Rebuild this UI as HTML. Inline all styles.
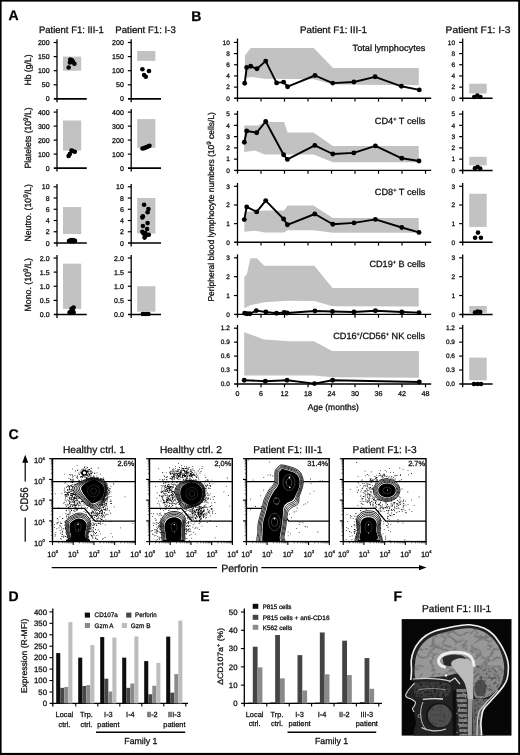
<!DOCTYPE html><html><head><meta charset="utf-8"><style>html,body{margin:0;padding:0;background:#fff;}svg{display:block;will-change:transform;}text{stroke:#111;stroke-width:0.28px;text-rendering:geometricPrecision;}</style></head><body>
<svg width="520" height="755" viewBox="0 0 520 755" font-family='"Liberation Sans", sans-serif'>
<rect x="0.00" y="0.00" width="520.00" height="755.00" fill="#fff"/>
<text x="8.60" y="20.30" font-size="14" font-weight="bold" fill="#000">A</text>
<text x="191.20" y="20.50" font-size="14" font-weight="bold" fill="#000">B</text>
<text x="8.40" y="439.00" font-size="14" font-weight="bold" fill="#000">C</text>
<text x="8.60" y="601.00" font-size="14" font-weight="bold" fill="#000">D</text>
<text x="200.20" y="601.00" font-size="14" font-weight="bold" fill="#000">E</text>
<text x="393.40" y="601.00" font-size="14" font-weight="bold" fill="#000">F</text>
<text x="39.00" y="33.00" font-size="9.5" textLength="64.8" lengthAdjust="spacingAndGlyphs" fill="#111">Patient F1: III-1</text>
<text x="115.30" y="33.00" font-size="9.5" textLength="60.5" lengthAdjust="spacingAndGlyphs" fill="#111">Patient F1: I-3</text>
<line x1="57.00" y1="39.30" x2="57.00" y2="102.30" stroke="#000" stroke-width="1.3"/>
<line x1="53.80" y1="98.90" x2="86.80" y2="98.90" stroke="#000" stroke-width="1.6"/>
<text x="49.60" y="101.40" font-size="7" text-anchor="end" fill="#111" stroke-width="0">0</text>
<line x1="53.60" y1="84.80" x2="57.00" y2="84.80" stroke="#000" stroke-width="1.2"/>
<text x="49.60" y="87.30" font-size="7" text-anchor="end" fill="#111" stroke-width="0">50</text>
<line x1="53.60" y1="70.70" x2="57.00" y2="70.70" stroke="#000" stroke-width="1.2"/>
<text x="49.60" y="73.20" font-size="7" text-anchor="end" fill="#111" stroke-width="0">100</text>
<line x1="53.60" y1="56.60" x2="57.00" y2="56.60" stroke="#000" stroke-width="1.2"/>
<text x="49.60" y="59.10" font-size="7" text-anchor="end" fill="#111" stroke-width="0">150</text>
<line x1="53.60" y1="42.50" x2="57.00" y2="42.50" stroke="#000" stroke-width="1.2"/>
<text x="49.60" y="45.00" font-size="7" text-anchor="end" fill="#111" stroke-width="0">200</text>
<line x1="131.20" y1="39.30" x2="131.20" y2="102.30" stroke="#000" stroke-width="1.3"/>
<line x1="128.00" y1="98.90" x2="161.00" y2="98.90" stroke="#000" stroke-width="1.6"/>
<text x="123.80" y="101.40" font-size="7" text-anchor="end" fill="#111" stroke-width="0">0</text>
<line x1="127.80" y1="84.80" x2="131.20" y2="84.80" stroke="#000" stroke-width="1.2"/>
<text x="123.80" y="87.30" font-size="7" text-anchor="end" fill="#111" stroke-width="0">50</text>
<line x1="127.80" y1="70.70" x2="131.20" y2="70.70" stroke="#000" stroke-width="1.2"/>
<text x="123.80" y="73.20" font-size="7" text-anchor="end" fill="#111" stroke-width="0">100</text>
<line x1="127.80" y1="56.60" x2="131.20" y2="56.60" stroke="#000" stroke-width="1.2"/>
<text x="123.80" y="59.10" font-size="7" text-anchor="end" fill="#111" stroke-width="0">150</text>
<line x1="127.80" y1="42.50" x2="131.20" y2="42.50" stroke="#000" stroke-width="1.2"/>
<text x="123.80" y="45.00" font-size="7" text-anchor="end" fill="#111" stroke-width="0">200</text>
<line x1="57.00" y1="109.00" x2="57.00" y2="171.50" stroke="#000" stroke-width="1.3"/>
<line x1="53.80" y1="168.10" x2="86.80" y2="168.10" stroke="#000" stroke-width="1.6"/>
<text x="49.60" y="170.60" font-size="7" text-anchor="end" fill="#111" stroke-width="0">0</text>
<line x1="53.60" y1="154.10" x2="57.00" y2="154.10" stroke="#000" stroke-width="1.2"/>
<text x="49.60" y="156.60" font-size="7" text-anchor="end" fill="#111" stroke-width="0">100</text>
<line x1="53.60" y1="140.10" x2="57.00" y2="140.10" stroke="#000" stroke-width="1.2"/>
<text x="49.60" y="142.60" font-size="7" text-anchor="end" fill="#111" stroke-width="0">200</text>
<line x1="53.60" y1="126.10" x2="57.00" y2="126.10" stroke="#000" stroke-width="1.2"/>
<text x="49.60" y="128.60" font-size="7" text-anchor="end" fill="#111" stroke-width="0">300</text>
<line x1="53.60" y1="112.10" x2="57.00" y2="112.10" stroke="#000" stroke-width="1.2"/>
<text x="49.60" y="114.60" font-size="7" text-anchor="end" fill="#111" stroke-width="0">400</text>
<line x1="131.20" y1="109.00" x2="131.20" y2="171.50" stroke="#000" stroke-width="1.3"/>
<line x1="128.00" y1="168.10" x2="161.00" y2="168.10" stroke="#000" stroke-width="1.6"/>
<text x="123.80" y="170.60" font-size="7" text-anchor="end" fill="#111" stroke-width="0">0</text>
<line x1="127.80" y1="154.10" x2="131.20" y2="154.10" stroke="#000" stroke-width="1.2"/>
<text x="123.80" y="156.60" font-size="7" text-anchor="end" fill="#111" stroke-width="0">100</text>
<line x1="127.80" y1="140.10" x2="131.20" y2="140.10" stroke="#000" stroke-width="1.2"/>
<text x="123.80" y="142.60" font-size="7" text-anchor="end" fill="#111" stroke-width="0">200</text>
<line x1="127.80" y1="126.10" x2="131.20" y2="126.10" stroke="#000" stroke-width="1.2"/>
<text x="123.80" y="128.60" font-size="7" text-anchor="end" fill="#111" stroke-width="0">300</text>
<line x1="127.80" y1="112.10" x2="131.20" y2="112.10" stroke="#000" stroke-width="1.2"/>
<text x="123.80" y="114.60" font-size="7" text-anchor="end" fill="#111" stroke-width="0">400</text>
<line x1="57.00" y1="184.00" x2="57.00" y2="246.40" stroke="#000" stroke-width="1.3"/>
<line x1="53.80" y1="243.00" x2="86.80" y2="243.00" stroke="#000" stroke-width="1.6"/>
<text x="49.60" y="245.50" font-size="7" text-anchor="end" fill="#111" stroke-width="0">0</text>
<line x1="53.60" y1="231.76" x2="57.00" y2="231.76" stroke="#000" stroke-width="1.2"/>
<text x="49.60" y="234.26" font-size="7" text-anchor="end" fill="#111" stroke-width="0">2</text>
<line x1="53.60" y1="220.52" x2="57.00" y2="220.52" stroke="#000" stroke-width="1.2"/>
<text x="49.60" y="223.02" font-size="7" text-anchor="end" fill="#111" stroke-width="0">4</text>
<line x1="53.60" y1="209.28" x2="57.00" y2="209.28" stroke="#000" stroke-width="1.2"/>
<text x="49.60" y="211.78" font-size="7" text-anchor="end" fill="#111" stroke-width="0">6</text>
<line x1="53.60" y1="198.04" x2="57.00" y2="198.04" stroke="#000" stroke-width="1.2"/>
<text x="49.60" y="200.54" font-size="7" text-anchor="end" fill="#111" stroke-width="0">8</text>
<line x1="53.60" y1="186.80" x2="57.00" y2="186.80" stroke="#000" stroke-width="1.2"/>
<text x="49.60" y="189.30" font-size="7" text-anchor="end" fill="#111" stroke-width="0">10</text>
<line x1="131.20" y1="184.00" x2="131.20" y2="246.40" stroke="#000" stroke-width="1.3"/>
<line x1="128.00" y1="243.00" x2="161.00" y2="243.00" stroke="#000" stroke-width="1.6"/>
<text x="123.80" y="245.50" font-size="7" text-anchor="end" fill="#111" stroke-width="0">0</text>
<line x1="127.80" y1="231.76" x2="131.20" y2="231.76" stroke="#000" stroke-width="1.2"/>
<text x="123.80" y="234.26" font-size="7" text-anchor="end" fill="#111" stroke-width="0">2</text>
<line x1="127.80" y1="220.52" x2="131.20" y2="220.52" stroke="#000" stroke-width="1.2"/>
<text x="123.80" y="223.02" font-size="7" text-anchor="end" fill="#111" stroke-width="0">4</text>
<line x1="127.80" y1="209.28" x2="131.20" y2="209.28" stroke="#000" stroke-width="1.2"/>
<text x="123.80" y="211.78" font-size="7" text-anchor="end" fill="#111" stroke-width="0">6</text>
<line x1="127.80" y1="198.04" x2="131.20" y2="198.04" stroke="#000" stroke-width="1.2"/>
<text x="123.80" y="200.54" font-size="7" text-anchor="end" fill="#111" stroke-width="0">8</text>
<line x1="127.80" y1="186.80" x2="131.20" y2="186.80" stroke="#000" stroke-width="1.2"/>
<text x="123.80" y="189.30" font-size="7" text-anchor="end" fill="#111" stroke-width="0">10</text>
<line x1="57.00" y1="255.00" x2="57.00" y2="317.90" stroke="#000" stroke-width="1.3"/>
<line x1="53.80" y1="314.50" x2="86.80" y2="314.50" stroke="#000" stroke-width="1.6"/>
<text x="49.60" y="317.00" font-size="7" text-anchor="end" fill="#111" stroke-width="0">0.0</text>
<line x1="53.60" y1="300.38" x2="57.00" y2="300.38" stroke="#000" stroke-width="1.2"/>
<text x="49.60" y="302.88" font-size="7" text-anchor="end" fill="#111" stroke-width="0">0.5</text>
<line x1="53.60" y1="286.25" x2="57.00" y2="286.25" stroke="#000" stroke-width="1.2"/>
<text x="49.60" y="288.75" font-size="7" text-anchor="end" fill="#111" stroke-width="0">1.0</text>
<line x1="53.60" y1="272.12" x2="57.00" y2="272.12" stroke="#000" stroke-width="1.2"/>
<text x="49.60" y="274.62" font-size="7" text-anchor="end" fill="#111" stroke-width="0">1.5</text>
<line x1="53.60" y1="258.00" x2="57.00" y2="258.00" stroke="#000" stroke-width="1.2"/>
<text x="49.60" y="260.50" font-size="7" text-anchor="end" fill="#111" stroke-width="0">2.0</text>
<line x1="131.20" y1="255.00" x2="131.20" y2="317.90" stroke="#000" stroke-width="1.3"/>
<line x1="128.00" y1="314.50" x2="161.00" y2="314.50" stroke="#000" stroke-width="1.6"/>
<text x="123.80" y="317.00" font-size="7" text-anchor="end" fill="#111" stroke-width="0">0.0</text>
<line x1="127.80" y1="300.38" x2="131.20" y2="300.38" stroke="#000" stroke-width="1.2"/>
<text x="123.80" y="302.88" font-size="7" text-anchor="end" fill="#111" stroke-width="0">0.5</text>
<line x1="127.80" y1="286.25" x2="131.20" y2="286.25" stroke="#000" stroke-width="1.2"/>
<text x="123.80" y="288.75" font-size="7" text-anchor="end" fill="#111" stroke-width="0">1.0</text>
<line x1="127.80" y1="272.12" x2="131.20" y2="272.12" stroke="#000" stroke-width="1.2"/>
<text x="123.80" y="274.62" font-size="7" text-anchor="end" fill="#111" stroke-width="0">1.5</text>
<line x1="127.80" y1="258.00" x2="131.20" y2="258.00" stroke="#000" stroke-width="1.2"/>
<text x="123.80" y="260.50" font-size="7" text-anchor="end" fill="#111" stroke-width="0">2.0</text>
<rect x="63.00" y="56.60" width="18.20" height="14.10" fill="#c2c2c2"/>
<rect x="137.20" y="50.96" width="18.20" height="9.87" fill="#c2c2c2"/>
<rect x="63.00" y="120.50" width="18.20" height="30.10" fill="#c2c2c2"/>
<rect x="137.20" y="119.10" width="18.20" height="28.70" fill="#c2c2c2"/>
<rect x="63.00" y="207.03" width="18.20" height="26.98" fill="#c2c2c2"/>
<rect x="137.20" y="198.04" width="18.20" height="35.41" fill="#c2c2c2"/>
<rect x="63.00" y="263.65" width="18.20" height="45.20" fill="#c2c2c2"/>
<rect x="137.20" y="286.25" width="18.20" height="25.43" fill="#c2c2c2"/>
<circle cx="68.70" cy="67.50" r="2.3" fill="#000"/>
<circle cx="70.30" cy="59.60" r="2.3" fill="#000"/>
<circle cx="71.50" cy="61.10" r="2.3" fill="#000"/>
<circle cx="69.90" cy="62.50" r="2.3" fill="#000"/>
<circle cx="74.40" cy="63.70" r="2.3" fill="#000"/>
<circle cx="72.00" cy="60.30" r="2.3" fill="#000"/>
<circle cx="73.00" cy="62.00" r="2.3" fill="#000"/>
<circle cx="142.40" cy="69.30" r="2.3" fill="#000"/>
<circle cx="149.00" cy="71.00" r="2.3" fill="#000"/>
<circle cx="144.10" cy="75.00" r="2.3" fill="#000"/>
<circle cx="145.80" cy="76.70" r="2.3" fill="#000"/>
<circle cx="68.60" cy="156.00" r="2.3" fill="#000"/>
<circle cx="69.80" cy="154.00" r="2.3" fill="#000"/>
<circle cx="71.50" cy="150.50" r="2.3" fill="#000"/>
<circle cx="72.50" cy="151.00" r="2.3" fill="#000"/>
<circle cx="74.80" cy="151.80" r="2.3" fill="#000"/>
<circle cx="142.50" cy="148.50" r="2.3" fill="#000"/>
<circle cx="144.00" cy="148.20" r="2.3" fill="#000"/>
<circle cx="145.50" cy="147.60" r="2.3" fill="#000"/>
<circle cx="147.00" cy="147.00" r="2.3" fill="#000"/>
<circle cx="148.50" cy="146.30" r="2.3" fill="#000"/>
<circle cx="149.50" cy="145.80" r="2.3" fill="#000"/>
<circle cx="69.00" cy="241.00" r="2.3" fill="#000"/>
<circle cx="70.50" cy="240.30" r="2.3" fill="#000"/>
<circle cx="72.00" cy="240.00" r="2.3" fill="#000"/>
<circle cx="73.50" cy="240.20" r="2.3" fill="#000"/>
<circle cx="75.00" cy="240.80" r="2.3" fill="#000"/>
<circle cx="71.00" cy="241.20" r="2.3" fill="#000"/>
<circle cx="74.00" cy="241.30" r="2.3" fill="#000"/>
<circle cx="144.10" cy="204.80" r="2.3" fill="#000"/>
<circle cx="148.40" cy="209.10" r="2.3" fill="#000"/>
<circle cx="147.60" cy="212.20" r="2.3" fill="#000"/>
<circle cx="142.90" cy="216.20" r="2.3" fill="#000"/>
<circle cx="142.40" cy="217.40" r="2.3" fill="#000"/>
<circle cx="147.60" cy="223.10" r="2.3" fill="#000"/>
<circle cx="142.90" cy="226.00" r="2.3" fill="#000"/>
<circle cx="147.10" cy="229.00" r="2.3" fill="#000"/>
<circle cx="142.40" cy="231.70" r="2.3" fill="#000"/>
<circle cx="145.30" cy="233.00" r="2.3" fill="#000"/>
<circle cx="148.80" cy="234.70" r="2.3" fill="#000"/>
<circle cx="144.60" cy="237.60" r="2.3" fill="#000"/>
<circle cx="145.80" cy="235.60" r="2.3" fill="#000"/>
<circle cx="143.50" cy="233.50" r="2.3" fill="#000"/>
<circle cx="69.60" cy="312.40" r="2.3" fill="#000"/>
<circle cx="71.60" cy="311.60" r="2.3" fill="#000"/>
<circle cx="73.60" cy="312.20" r="2.3" fill="#000"/>
<circle cx="71.60" cy="308.80" r="2.3" fill="#000"/>
<circle cx="73.60" cy="307.60" r="2.3" fill="#000"/>
<circle cx="72.50" cy="309.50" r="2.3" fill="#000"/>
<circle cx="142.80" cy="314.00" r="2.3" fill="#000"/>
<circle cx="145.60" cy="314.00" r="2.3" fill="#000"/>
<circle cx="148.40" cy="314.00" r="2.3" fill="#000"/>
<text transform="translate(30.80,70.00) rotate(-90)" x="0" y="0" font-size="9" text-anchor="middle" textLength="31.0" lengthAdjust="spacingAndGlyphs" fill="#111">Hb (g/L)</text>
<text transform="translate(30.80,138.00) rotate(-90)" x="0" y="0" font-size="9" text-anchor="middle" textLength="61.0" lengthAdjust="spacingAndGlyphs" fill="#111">Platelets (10<tspan font-size="6.6" dy="-3.3">9</tspan><tspan dy="3.3">/L)</tspan></text>
<text transform="translate(30.80,212.80) rotate(-90)" x="0" y="0" font-size="9" text-anchor="middle" textLength="57.5" lengthAdjust="spacingAndGlyphs" fill="#111">Neutro. (10<tspan font-size="6.6" dy="-3.3">9</tspan><tspan dy="3.3">/L)</tspan></text>
<text transform="translate(30.80,284.80) rotate(-90)" x="0" y="0" font-size="9" text-anchor="middle" textLength="53.5" lengthAdjust="spacingAndGlyphs" fill="#111">Mono. (10<tspan font-size="6.6" dy="-3.3">9</tspan><tspan dy="3.3">/L)</tspan></text>
<text x="300.00" y="32.80" font-size="9.5" textLength="67.0" lengthAdjust="spacingAndGlyphs" fill="#111">Patient F1: III-1</text>
<text x="445.60" y="32.80" font-size="9.5" textLength="64.8" lengthAdjust="spacingAndGlyphs" fill="#111">Patient F1: I-3</text>
<polygon points="244.90,55.60 250.70,48.10 313.80,48.10 333.00,68.10 418.80,68.10 418.80,85.30 333.00,84.50 313.80,79.20 264.50,78.70 253.00,77.00 247.80,77.50 244.90,77.60" fill="#c2c2c2"/>
<line x1="237.50" y1="38.60" x2="237.50" y2="101.60" stroke="#000" stroke-width="1.3"/>
<line x1="234.10" y1="98.30" x2="431.20" y2="98.30" stroke="#000" stroke-width="1.4"/>
<line x1="261.00" y1="98.30" x2="261.00" y2="101.60" stroke="#000" stroke-width="1.2"/>
<line x1="284.50" y1="98.30" x2="284.50" y2="101.60" stroke="#000" stroke-width="1.2"/>
<line x1="308.01" y1="98.30" x2="308.01" y2="101.60" stroke="#000" stroke-width="1.2"/>
<line x1="331.51" y1="98.30" x2="331.51" y2="101.60" stroke="#000" stroke-width="1.2"/>
<line x1="355.01" y1="98.30" x2="355.01" y2="101.60" stroke="#000" stroke-width="1.2"/>
<line x1="378.51" y1="98.30" x2="378.51" y2="101.60" stroke="#000" stroke-width="1.2"/>
<line x1="402.01" y1="98.30" x2="402.01" y2="101.60" stroke="#000" stroke-width="1.2"/>
<line x1="425.52" y1="98.30" x2="425.52" y2="101.60" stroke="#000" stroke-width="1.2"/>
<text x="229.80" y="100.55" font-size="6.5" text-anchor="end" fill="#111" stroke-width="0">0</text>
<line x1="234.00" y1="87.12" x2="237.50" y2="87.12" stroke="#000" stroke-width="1.2"/>
<text x="229.80" y="89.37" font-size="6.5" text-anchor="end" fill="#111" stroke-width="0">2</text>
<line x1="234.00" y1="75.94" x2="237.50" y2="75.94" stroke="#000" stroke-width="1.2"/>
<text x="229.80" y="78.19" font-size="6.5" text-anchor="end" fill="#111" stroke-width="0">4</text>
<line x1="234.00" y1="64.76" x2="237.50" y2="64.76" stroke="#000" stroke-width="1.2"/>
<text x="229.80" y="67.01" font-size="6.5" text-anchor="end" fill="#111" stroke-width="0">6</text>
<line x1="234.00" y1="53.58" x2="237.50" y2="53.58" stroke="#000" stroke-width="1.2"/>
<text x="229.80" y="55.83" font-size="6.5" text-anchor="end" fill="#111" stroke-width="0">8</text>
<line x1="234.00" y1="42.40" x2="237.50" y2="42.40" stroke="#000" stroke-width="1.2"/>
<text x="229.80" y="44.65" font-size="6.5" text-anchor="end" fill="#111" stroke-width="0">10</text>
<polyline points="244.70,83.30 246.70,67.50 250.70,66.30 257.00,68.80 265.70,61.10 276.60,82.90 283.60,82.10 287.60,86.70 315.00,75.50 332.70,83.10 353.90,82.00 375.10,76.80 401.40,86.30 419.30,89.90" fill="none" stroke="#000" stroke-width="1.9" stroke-linejoin="round"/>
<circle cx="244.70" cy="83.30" r="2.45" fill="#000"/>
<circle cx="246.70" cy="67.50" r="2.45" fill="#000"/>
<circle cx="250.70" cy="66.30" r="2.45" fill="#000"/>
<circle cx="257.00" cy="68.80" r="2.45" fill="#000"/>
<circle cx="265.70" cy="61.10" r="2.45" fill="#000"/>
<circle cx="276.60" cy="82.90" r="2.45" fill="#000"/>
<circle cx="283.60" cy="82.10" r="2.45" fill="#000"/>
<circle cx="287.60" cy="86.70" r="2.45" fill="#000"/>
<circle cx="315.00" cy="75.50" r="2.45" fill="#000"/>
<circle cx="332.70" cy="83.10" r="2.45" fill="#000"/>
<circle cx="353.90" cy="82.00" r="2.45" fill="#000"/>
<circle cx="375.10" cy="76.80" r="2.45" fill="#000"/>
<circle cx="401.40" cy="86.30" r="2.45" fill="#000"/>
<circle cx="419.30" cy="89.90" r="2.45" fill="#000"/>
<text x="352.60" y="50.80" font-size="9" textLength="72.8" lengthAdjust="spacingAndGlyphs" fill="#111">Total lymphocytes</text>
<line x1="462.70" y1="38.60" x2="462.70" y2="101.60" stroke="#000" stroke-width="1.3"/>
<line x1="459.30" y1="98.30" x2="492.60" y2="98.30" stroke="#000" stroke-width="1.5"/>
<text x="455.00" y="100.55" font-size="6.5" text-anchor="end" fill="#111" stroke-width="0">0</text>
<line x1="459.20" y1="87.12" x2="462.70" y2="87.12" stroke="#000" stroke-width="1.2"/>
<text x="455.00" y="89.37" font-size="6.5" text-anchor="end" fill="#111" stroke-width="0">2</text>
<line x1="459.20" y1="75.94" x2="462.70" y2="75.94" stroke="#000" stroke-width="1.2"/>
<text x="455.00" y="78.19" font-size="6.5" text-anchor="end" fill="#111" stroke-width="0">4</text>
<line x1="459.20" y1="64.76" x2="462.70" y2="64.76" stroke="#000" stroke-width="1.2"/>
<text x="455.00" y="67.01" font-size="6.5" text-anchor="end" fill="#111" stroke-width="0">6</text>
<line x1="459.20" y1="53.58" x2="462.70" y2="53.58" stroke="#000" stroke-width="1.2"/>
<text x="455.00" y="55.83" font-size="6.5" text-anchor="end" fill="#111" stroke-width="0">8</text>
<line x1="459.20" y1="42.40" x2="462.70" y2="42.40" stroke="#000" stroke-width="1.2"/>
<text x="455.00" y="44.65" font-size="6.5" text-anchor="end" fill="#111" stroke-width="0">10</text>
<polygon points="244.20,125.40 258.20,125.40 264.50,122.10 284.10,122.10 287.60,132.50 313.50,132.50 332.80,146.00 418.70,146.00 418.70,162.20 332.80,162.20 313.50,154.60 264.50,154.40 255.30,150.60 244.20,152.10" fill="#c2c2c2"/>
<line x1="237.50" y1="110.80" x2="237.50" y2="173.70" stroke="#000" stroke-width="1.3"/>
<line x1="234.10" y1="170.40" x2="431.20" y2="170.40" stroke="#000" stroke-width="1.4"/>
<line x1="261.00" y1="170.40" x2="261.00" y2="173.70" stroke="#000" stroke-width="1.2"/>
<line x1="284.50" y1="170.40" x2="284.50" y2="173.70" stroke="#000" stroke-width="1.2"/>
<line x1="308.01" y1="170.40" x2="308.01" y2="173.70" stroke="#000" stroke-width="1.2"/>
<line x1="331.51" y1="170.40" x2="331.51" y2="173.70" stroke="#000" stroke-width="1.2"/>
<line x1="355.01" y1="170.40" x2="355.01" y2="173.70" stroke="#000" stroke-width="1.2"/>
<line x1="378.51" y1="170.40" x2="378.51" y2="173.70" stroke="#000" stroke-width="1.2"/>
<line x1="402.01" y1="170.40" x2="402.01" y2="173.70" stroke="#000" stroke-width="1.2"/>
<line x1="425.52" y1="170.40" x2="425.52" y2="173.70" stroke="#000" stroke-width="1.2"/>
<text x="229.80" y="172.65" font-size="6.5" text-anchor="end" fill="#111" stroke-width="0">0</text>
<line x1="234.00" y1="159.14" x2="237.50" y2="159.14" stroke="#000" stroke-width="1.2"/>
<text x="229.80" y="161.39" font-size="6.5" text-anchor="end" fill="#111" stroke-width="0">1</text>
<line x1="234.00" y1="147.88" x2="237.50" y2="147.88" stroke="#000" stroke-width="1.2"/>
<text x="229.80" y="150.13" font-size="6.5" text-anchor="end" fill="#111" stroke-width="0">2</text>
<line x1="234.00" y1="136.62" x2="237.50" y2="136.62" stroke="#000" stroke-width="1.2"/>
<text x="229.80" y="138.87" font-size="6.5" text-anchor="end" fill="#111" stroke-width="0">3</text>
<line x1="234.00" y1="125.36" x2="237.50" y2="125.36" stroke="#000" stroke-width="1.2"/>
<text x="229.80" y="127.61" font-size="6.5" text-anchor="end" fill="#111" stroke-width="0">4</text>
<line x1="234.00" y1="114.10" x2="237.50" y2="114.10" stroke="#000" stroke-width="1.2"/>
<text x="229.80" y="116.35" font-size="6.5" text-anchor="end" fill="#111" stroke-width="0">5</text>
<polyline points="244.30,142.30 246.70,131.00 256.70,132.70 265.70,121.50 283.60,154.80 287.40,159.40 314.80,145.40 332.80,154.00 353.80,152.90 375.40,145.90 401.80,158.30 419.00,161.00" fill="none" stroke="#000" stroke-width="1.9" stroke-linejoin="round"/>
<circle cx="244.30" cy="142.30" r="2.45" fill="#000"/>
<circle cx="246.70" cy="131.00" r="2.45" fill="#000"/>
<circle cx="256.70" cy="132.70" r="2.45" fill="#000"/>
<circle cx="265.70" cy="121.50" r="2.45" fill="#000"/>
<circle cx="283.60" cy="154.80" r="2.45" fill="#000"/>
<circle cx="287.40" cy="159.40" r="2.45" fill="#000"/>
<circle cx="314.80" cy="145.40" r="2.45" fill="#000"/>
<circle cx="332.80" cy="154.00" r="2.45" fill="#000"/>
<circle cx="353.80" cy="152.90" r="2.45" fill="#000"/>
<circle cx="375.40" cy="145.90" r="2.45" fill="#000"/>
<circle cx="401.80" cy="158.30" r="2.45" fill="#000"/>
<circle cx="419.00" cy="161.00" r="2.45" fill="#000"/>
<text x="374.80" y="123.60" font-size="9" textLength="50.5" lengthAdjust="spacingAndGlyphs" fill="#111">CD4<tspan font-size="5.5" dy="-3">+</tspan><tspan dy="3"> T cells</tspan></text>
<line x1="462.70" y1="110.80" x2="462.70" y2="173.70" stroke="#000" stroke-width="1.3"/>
<line x1="459.30" y1="170.40" x2="492.60" y2="170.40" stroke="#000" stroke-width="1.5"/>
<text x="455.00" y="172.65" font-size="6.5" text-anchor="end" fill="#111" stroke-width="0">0</text>
<line x1="459.20" y1="159.14" x2="462.70" y2="159.14" stroke="#000" stroke-width="1.2"/>
<text x="455.00" y="161.39" font-size="6.5" text-anchor="end" fill="#111" stroke-width="0">1</text>
<line x1="459.20" y1="147.88" x2="462.70" y2="147.88" stroke="#000" stroke-width="1.2"/>
<text x="455.00" y="150.13" font-size="6.5" text-anchor="end" fill="#111" stroke-width="0">2</text>
<line x1="459.20" y1="136.62" x2="462.70" y2="136.62" stroke="#000" stroke-width="1.2"/>
<text x="455.00" y="138.87" font-size="6.5" text-anchor="end" fill="#111" stroke-width="0">3</text>
<line x1="459.20" y1="125.36" x2="462.70" y2="125.36" stroke="#000" stroke-width="1.2"/>
<text x="455.00" y="127.61" font-size="6.5" text-anchor="end" fill="#111" stroke-width="0">4</text>
<line x1="459.20" y1="114.10" x2="462.70" y2="114.10" stroke="#000" stroke-width="1.2"/>
<text x="455.00" y="116.35" font-size="6.5" text-anchor="end" fill="#111" stroke-width="0">5</text>
<polygon points="244.40,212.10 255.30,211.00 264.50,210.60 284.10,210.60 287.60,205.40 313.50,205.40 332.80,218.10 418.70,218.10 418.70,232.70 332.80,232.70 313.50,230.30 287.60,230.30 284.10,232.50 264.50,232.50 255.30,230.80 244.40,231.80" fill="#c2c2c2"/>
<line x1="237.50" y1="183.00" x2="237.50" y2="245.60" stroke="#000" stroke-width="1.3"/>
<line x1="234.10" y1="242.30" x2="431.20" y2="242.30" stroke="#000" stroke-width="1.4"/>
<line x1="261.00" y1="242.30" x2="261.00" y2="245.60" stroke="#000" stroke-width="1.2"/>
<line x1="284.50" y1="242.30" x2="284.50" y2="245.60" stroke="#000" stroke-width="1.2"/>
<line x1="308.01" y1="242.30" x2="308.01" y2="245.60" stroke="#000" stroke-width="1.2"/>
<line x1="331.51" y1="242.30" x2="331.51" y2="245.60" stroke="#000" stroke-width="1.2"/>
<line x1="355.01" y1="242.30" x2="355.01" y2="245.60" stroke="#000" stroke-width="1.2"/>
<line x1="378.51" y1="242.30" x2="378.51" y2="245.60" stroke="#000" stroke-width="1.2"/>
<line x1="402.01" y1="242.30" x2="402.01" y2="245.60" stroke="#000" stroke-width="1.2"/>
<line x1="425.52" y1="242.30" x2="425.52" y2="245.60" stroke="#000" stroke-width="1.2"/>
<text x="229.80" y="244.55" font-size="6.5" text-anchor="end" fill="#111" stroke-width="0">0</text>
<line x1="234.00" y1="223.63" x2="237.50" y2="223.63" stroke="#000" stroke-width="1.2"/>
<text x="229.80" y="225.88" font-size="6.5" text-anchor="end" fill="#111" stroke-width="0">1</text>
<line x1="234.00" y1="204.97" x2="237.50" y2="204.97" stroke="#000" stroke-width="1.2"/>
<text x="229.80" y="207.22" font-size="6.5" text-anchor="end" fill="#111" stroke-width="0">2</text>
<line x1="234.00" y1="186.30" x2="237.50" y2="186.30" stroke="#000" stroke-width="1.2"/>
<text x="229.80" y="188.55" font-size="6.5" text-anchor="end" fill="#111" stroke-width="0">3</text>
<polyline points="244.30,219.60 246.70,206.90 256.70,211.90 265.70,200.60 283.60,219.00 287.40,224.80 314.80,214.00 332.80,224.30 354.00,222.90 375.40,219.40 401.80,227.50 419.00,232.40" fill="none" stroke="#000" stroke-width="1.9" stroke-linejoin="round"/>
<circle cx="244.30" cy="219.60" r="2.45" fill="#000"/>
<circle cx="246.70" cy="206.90" r="2.45" fill="#000"/>
<circle cx="256.70" cy="211.90" r="2.45" fill="#000"/>
<circle cx="265.70" cy="200.60" r="2.45" fill="#000"/>
<circle cx="283.60" cy="219.00" r="2.45" fill="#000"/>
<circle cx="287.40" cy="224.80" r="2.45" fill="#000"/>
<circle cx="314.80" cy="214.00" r="2.45" fill="#000"/>
<circle cx="332.80" cy="224.30" r="2.45" fill="#000"/>
<circle cx="354.00" cy="222.90" r="2.45" fill="#000"/>
<circle cx="375.40" cy="219.40" r="2.45" fill="#000"/>
<circle cx="401.80" cy="227.50" r="2.45" fill="#000"/>
<circle cx="419.00" cy="232.40" r="2.45" fill="#000"/>
<text x="374.80" y="195.30" font-size="9" textLength="50.5" lengthAdjust="spacingAndGlyphs" fill="#111">CD8<tspan font-size="5.5" dy="-3">+</tspan><tspan dy="3"> T cells</tspan></text>
<line x1="462.70" y1="183.00" x2="462.70" y2="245.60" stroke="#000" stroke-width="1.3"/>
<line x1="459.30" y1="242.30" x2="492.60" y2="242.30" stroke="#000" stroke-width="1.5"/>
<text x="455.00" y="244.55" font-size="6.5" text-anchor="end" fill="#111" stroke-width="0">0</text>
<line x1="459.20" y1="223.63" x2="462.70" y2="223.63" stroke="#000" stroke-width="1.2"/>
<text x="455.00" y="225.88" font-size="6.5" text-anchor="end" fill="#111" stroke-width="0">1</text>
<line x1="459.20" y1="204.97" x2="462.70" y2="204.97" stroke="#000" stroke-width="1.2"/>
<text x="455.00" y="207.22" font-size="6.5" text-anchor="end" fill="#111" stroke-width="0">2</text>
<line x1="459.20" y1="186.30" x2="462.70" y2="186.30" stroke="#000" stroke-width="1.2"/>
<text x="455.00" y="188.55" font-size="6.5" text-anchor="end" fill="#111" stroke-width="0">3</text>
<polygon points="244.30,276.90 246.90,274.30 250.30,258.20 256.80,258.20 264.20,265.80 314.40,265.80 332.50,288.10 418.70,288.10 418.70,306.40 332.50,306.20 314.40,300.90 287.00,300.80 264.20,302.30 250.30,305.20 244.30,308.30" fill="#c2c2c2"/>
<line x1="237.50" y1="254.40" x2="237.50" y2="317.70" stroke="#000" stroke-width="1.3"/>
<line x1="234.10" y1="314.40" x2="431.20" y2="314.40" stroke="#000" stroke-width="1.4"/>
<line x1="261.00" y1="314.40" x2="261.00" y2="317.70" stroke="#000" stroke-width="1.2"/>
<line x1="284.50" y1="314.40" x2="284.50" y2="317.70" stroke="#000" stroke-width="1.2"/>
<line x1="308.01" y1="314.40" x2="308.01" y2="317.70" stroke="#000" stroke-width="1.2"/>
<line x1="331.51" y1="314.40" x2="331.51" y2="317.70" stroke="#000" stroke-width="1.2"/>
<line x1="355.01" y1="314.40" x2="355.01" y2="317.70" stroke="#000" stroke-width="1.2"/>
<line x1="378.51" y1="314.40" x2="378.51" y2="317.70" stroke="#000" stroke-width="1.2"/>
<line x1="402.01" y1="314.40" x2="402.01" y2="317.70" stroke="#000" stroke-width="1.2"/>
<line x1="425.52" y1="314.40" x2="425.52" y2="317.70" stroke="#000" stroke-width="1.2"/>
<text x="229.80" y="316.65" font-size="6.5" text-anchor="end" fill="#111" stroke-width="0">0</text>
<line x1="234.00" y1="295.53" x2="237.50" y2="295.53" stroke="#000" stroke-width="1.2"/>
<text x="229.80" y="297.78" font-size="6.5" text-anchor="end" fill="#111" stroke-width="0">1</text>
<line x1="234.00" y1="276.67" x2="237.50" y2="276.67" stroke="#000" stroke-width="1.2"/>
<text x="229.80" y="278.92" font-size="6.5" text-anchor="end" fill="#111" stroke-width="0">2</text>
<line x1="234.00" y1="257.80" x2="237.50" y2="257.80" stroke="#000" stroke-width="1.2"/>
<text x="229.80" y="260.05" font-size="6.5" text-anchor="end" fill="#111" stroke-width="0">3</text>
<polyline points="244.70,313.30 247.00,313.80 249.80,313.80 256.30,310.60 265.90,312.00 276.50,313.20 284.20,312.50 287.00,313.00 314.90,311.00 332.40,311.50 354.00,312.00 375.40,310.80 401.80,312.00 419.00,312.60" fill="none" stroke="#000" stroke-width="1.9" stroke-linejoin="round"/>
<circle cx="244.70" cy="313.30" r="2.45" fill="#000"/>
<circle cx="247.00" cy="313.80" r="2.45" fill="#000"/>
<circle cx="249.80" cy="313.80" r="2.45" fill="#000"/>
<circle cx="256.30" cy="310.60" r="2.45" fill="#000"/>
<circle cx="265.90" cy="312.00" r="2.45" fill="#000"/>
<circle cx="276.50" cy="313.20" r="2.45" fill="#000"/>
<circle cx="284.20" cy="312.50" r="2.45" fill="#000"/>
<circle cx="287.00" cy="313.00" r="2.45" fill="#000"/>
<circle cx="314.90" cy="311.00" r="2.45" fill="#000"/>
<circle cx="332.40" cy="311.50" r="2.45" fill="#000"/>
<circle cx="354.00" cy="312.00" r="2.45" fill="#000"/>
<circle cx="375.40" cy="310.80" r="2.45" fill="#000"/>
<circle cx="401.80" cy="312.00" r="2.45" fill="#000"/>
<circle cx="419.00" cy="312.60" r="2.45" fill="#000"/>
<text x="369.40" y="267.20" font-size="9" textLength="56.0" lengthAdjust="spacingAndGlyphs" fill="#111">CD19<tspan font-size="5.5" dy="-3">+</tspan><tspan dy="3"> B cells</tspan></text>
<line x1="462.70" y1="254.40" x2="462.70" y2="317.70" stroke="#000" stroke-width="1.3"/>
<line x1="459.30" y1="314.40" x2="492.60" y2="314.40" stroke="#000" stroke-width="1.5"/>
<text x="455.00" y="316.65" font-size="6.5" text-anchor="end" fill="#111" stroke-width="0">0</text>
<line x1="459.20" y1="295.53" x2="462.70" y2="295.53" stroke="#000" stroke-width="1.2"/>
<text x="455.00" y="297.78" font-size="6.5" text-anchor="end" fill="#111" stroke-width="0">1</text>
<line x1="459.20" y1="276.67" x2="462.70" y2="276.67" stroke="#000" stroke-width="1.2"/>
<text x="455.00" y="278.92" font-size="6.5" text-anchor="end" fill="#111" stroke-width="0">2</text>
<line x1="459.20" y1="257.80" x2="462.70" y2="257.80" stroke="#000" stroke-width="1.2"/>
<text x="455.00" y="260.05" font-size="6.5" text-anchor="end" fill="#111" stroke-width="0">3</text>
<polygon points="244.20,332.30 264.00,339.40 289.90,341.20 314.00,341.20 332.20,350.90 418.90,350.90 418.90,377.80 332.20,377.20 314.00,375.60 244.20,375.60" fill="#c2c2c2"/>
<line x1="237.50" y1="325.00" x2="237.50" y2="387.30" stroke="#000" stroke-width="1.3"/>
<line x1="234.10" y1="384.00" x2="431.20" y2="384.00" stroke="#000" stroke-width="1.4"/>
<line x1="261.00" y1="384.00" x2="261.00" y2="387.30" stroke="#000" stroke-width="1.2"/>
<line x1="284.50" y1="384.00" x2="284.50" y2="387.30" stroke="#000" stroke-width="1.2"/>
<line x1="308.01" y1="384.00" x2="308.01" y2="387.30" stroke="#000" stroke-width="1.2"/>
<line x1="331.51" y1="384.00" x2="331.51" y2="387.30" stroke="#000" stroke-width="1.2"/>
<line x1="355.01" y1="384.00" x2="355.01" y2="387.30" stroke="#000" stroke-width="1.2"/>
<line x1="378.51" y1="384.00" x2="378.51" y2="387.30" stroke="#000" stroke-width="1.2"/>
<line x1="402.01" y1="384.00" x2="402.01" y2="387.30" stroke="#000" stroke-width="1.2"/>
<line x1="425.52" y1="384.00" x2="425.52" y2="387.30" stroke="#000" stroke-width="1.2"/>
<text x="229.80" y="386.25" font-size="6.5" text-anchor="end" fill="#111" stroke-width="0">0.0</text>
<line x1="234.00" y1="370.05" x2="237.50" y2="370.05" stroke="#000" stroke-width="1.2"/>
<text x="229.80" y="372.30" font-size="6.5" text-anchor="end" fill="#111" stroke-width="0">0.3</text>
<line x1="234.00" y1="356.10" x2="237.50" y2="356.10" stroke="#000" stroke-width="1.2"/>
<text x="229.80" y="358.35" font-size="6.5" text-anchor="end" fill="#111" stroke-width="0">0.6</text>
<line x1="234.00" y1="342.15" x2="237.50" y2="342.15" stroke="#000" stroke-width="1.2"/>
<text x="229.80" y="344.40" font-size="6.5" text-anchor="end" fill="#111" stroke-width="0">0.9</text>
<line x1="234.00" y1="328.20" x2="237.50" y2="328.20" stroke="#000" stroke-width="1.2"/>
<text x="229.80" y="330.45" font-size="6.5" text-anchor="end" fill="#111" stroke-width="0">1.2</text>
<polyline points="244.20,380.20 265.30,381.20 287.00,380.20 314.50,383.60 332.60,380.20 419.30,382.00" fill="none" stroke="#000" stroke-width="1.9" stroke-linejoin="round"/>
<circle cx="244.20" cy="380.20" r="2.45" fill="#000"/>
<circle cx="265.30" cy="381.20" r="2.45" fill="#000"/>
<circle cx="287.00" cy="380.20" r="2.45" fill="#000"/>
<circle cx="314.50" cy="383.60" r="2.45" fill="#000"/>
<circle cx="332.60" cy="380.20" r="2.45" fill="#000"/>
<circle cx="419.30" cy="382.00" r="2.45" fill="#000"/>
<text x="333.20" y="338.60" font-size="9" textLength="92.0" lengthAdjust="spacingAndGlyphs" fill="#111">CD16<tspan font-size="5.5" dy="-3">+</tspan><tspan dy="3">/CD56</tspan><tspan font-size="5.5" dy="-3">+</tspan><tspan dy="3"> NK cells</tspan></text>
<line x1="462.70" y1="325.00" x2="462.70" y2="387.30" stroke="#000" stroke-width="1.3"/>
<line x1="459.30" y1="384.00" x2="492.60" y2="384.00" stroke="#000" stroke-width="1.5"/>
<text x="455.00" y="386.25" font-size="6.5" text-anchor="end" fill="#111" stroke-width="0">0.0</text>
<line x1="459.20" y1="370.05" x2="462.70" y2="370.05" stroke="#000" stroke-width="1.2"/>
<text x="455.00" y="372.30" font-size="6.5" text-anchor="end" fill="#111" stroke-width="0">0.3</text>
<line x1="459.20" y1="356.10" x2="462.70" y2="356.10" stroke="#000" stroke-width="1.2"/>
<text x="455.00" y="358.35" font-size="6.5" text-anchor="end" fill="#111" stroke-width="0">0.6</text>
<line x1="459.20" y1="342.15" x2="462.70" y2="342.15" stroke="#000" stroke-width="1.2"/>
<text x="455.00" y="344.40" font-size="6.5" text-anchor="end" fill="#111" stroke-width="0">0.9</text>
<line x1="459.20" y1="328.20" x2="462.70" y2="328.20" stroke="#000" stroke-width="1.2"/>
<text x="455.00" y="330.45" font-size="6.5" text-anchor="end" fill="#111" stroke-width="0">1.2</text>
<text x="237.50" y="396.20" font-size="7.0" text-anchor="middle" textLength="3.9" lengthAdjust="spacingAndGlyphs" fill="#111" stroke-width="0">0</text>
<text x="261.00" y="396.20" font-size="7.0" text-anchor="middle" textLength="3.9" lengthAdjust="spacingAndGlyphs" fill="#111" stroke-width="0">6</text>
<text x="284.50" y="396.20" font-size="7.0" text-anchor="middle" textLength="8.0" lengthAdjust="spacingAndGlyphs" fill="#111" stroke-width="0">12</text>
<text x="308.01" y="396.20" font-size="7.0" text-anchor="middle" textLength="8.0" lengthAdjust="spacingAndGlyphs" fill="#111" stroke-width="0">18</text>
<text x="331.51" y="396.20" font-size="7.0" text-anchor="middle" textLength="8.0" lengthAdjust="spacingAndGlyphs" fill="#111" stroke-width="0">24</text>
<text x="355.01" y="396.20" font-size="7.0" text-anchor="middle" textLength="8.0" lengthAdjust="spacingAndGlyphs" fill="#111" stroke-width="0">30</text>
<text x="378.51" y="396.20" font-size="7.0" text-anchor="middle" textLength="8.0" lengthAdjust="spacingAndGlyphs" fill="#111" stroke-width="0">36</text>
<text x="402.01" y="396.20" font-size="7.0" text-anchor="middle" textLength="8.0" lengthAdjust="spacingAndGlyphs" fill="#111" stroke-width="0">42</text>
<text x="425.52" y="396.20" font-size="7.0" text-anchor="middle" textLength="8.0" lengthAdjust="spacingAndGlyphs" fill="#111" stroke-width="0">48</text>
<text x="307.80" y="409.80" font-size="8.5" textLength="51.0" lengthAdjust="spacingAndGlyphs" fill="#111">Age (months)</text>
<rect x="469.20" y="83.70" width="17.50" height="9.80" fill="#c2c2c2"/>
<rect x="469.20" y="156.80" width="17.50" height="8.60" fill="#c2c2c2"/>
<rect x="469.20" y="193.70" width="17.50" height="33.20" fill="#c2c2c2"/>
<rect x="469.20" y="306.00" width="17.50" height="6.80" fill="#c2c2c2"/>
<rect x="469.20" y="357.60" width="17.50" height="22.60" fill="#c2c2c2"/>
<circle cx="474.30" cy="97.00" r="2.3" fill="#000"/>
<circle cx="477.40" cy="95.50" r="2.3" fill="#000"/>
<circle cx="480.40" cy="97.00" r="2.3" fill="#000"/>
<circle cx="475.00" cy="168.30" r="2.3" fill="#000"/>
<circle cx="477.60" cy="167.00" r="2.3" fill="#000"/>
<circle cx="480.20" cy="168.60" r="2.3" fill="#000"/>
<circle cx="478.00" cy="232.60" r="2.3" fill="#000"/>
<circle cx="475.10" cy="237.80" r="2.3" fill="#000"/>
<circle cx="480.90" cy="237.80" r="2.3" fill="#000"/>
<circle cx="475.00" cy="312.60" r="2.3" fill="#000"/>
<circle cx="477.60" cy="311.60" r="2.3" fill="#000"/>
<circle cx="480.20" cy="312.00" r="2.3" fill="#000"/>
<circle cx="474.00" cy="384.00" r="2.3" fill="#000"/>
<circle cx="477.50" cy="384.00" r="2.3" fill="#000"/>
<circle cx="481.00" cy="384.00" r="2.3" fill="#000"/>
<text transform="translate(213.90,206.80) rotate(-90)" x="0" y="0" font-size="8.5" text-anchor="middle" textLength="189.5" lengthAdjust="spacingAndGlyphs" fill="#111">Peripheral blood lymphocyte numbers (10<tspan font-size="6.2" dy="-3.2">9</tspan><tspan dy="3.2"> cells/L)</tspan></text>
<text x="63.00" y="452.60" font-size="10" textLength="61.8" lengthAdjust="spacingAndGlyphs" fill="#111">Healthy ctrl. 1</text>
<line x1="52.50" y1="481.70" x2="135.30" y2="481.70" stroke="#000" stroke-width="1.3"/>
<polyline points="52.50,508.4 84.50,508.4 95.00,521.2 135.30,521.2" fill="none" stroke="#000" stroke-width="1.3"/>
<clipPath id="cp0"><rect x="52.5" y="458.7" width="82.8" height="82.90000000000003"/></clipPath>
<g clip-path="url(#cp0)">
<path d="M66.9 499.4h.8v.8h-.8zM78.0 491.4h.8v.8h-.8zM66.4 495.4h.8v.8h-.8zM75.4 505.9h.8v.8h-.8zM66.9 484.4h.8v.8h-.8zM76.5 500.3h.8v.8h-.8zM80.7 504.8h.8v.8h-.8zM72.5 493.5h.8v.8h-.8zM85.9 493.4h.8v.8h-.8zM69.1 485.8h.8v.8h-.8zM73.5 497.3h.8v.8h-.8zM71.3 495.4h.8v.8h-.8zM74.4 502.2h.8v.8h-.8zM78.5 497.9h.8v.8h-.8zM64.1 502.3h.8v.8h-.8zM65.9 494.5h.8v.8h-.8zM65.6 496.0h.8v.8h-.8zM69.1 497.9h.8v.8h-.8zM89.5 495.6h.8v.8h-.8zM77.2 484.1h.8v.8h-.8zM71.6 502.0h.8v.8h-.8zM72.5 499.3h.8v.8h-.8zM73.5 486.9h.8v.8h-.8zM75.8 488.7h.8v.8h-.8zM82.4 491.5h.8v.8h-.8zM76.4 496.0h.8v.8h-.8zM77.8 490.6h.8v.8h-.8zM78.0 494.9h.8v.8h-.8zM79.3 501.6h.8v.8h-.8zM73.7 489.0h.8v.8h-.8zM76.8 500.2h.8v.8h-.8zM81.2 492.6h.8v.8h-.8zM75.8 500.6h.8v.8h-.8zM74.4 497.9h.8v.8h-.8zM73.9 490.6h.8v.8h-.8zM67.9 492.4h.8v.8h-.8zM76.0 509.6h.8v.8h-.8zM77.9 505.5h.8v.8h-.8zM76.9 502.3h.8v.8h-.8zM73.9 502.9h.8v.8h-.8zM81.9 493.1h.8v.8h-.8zM69.5 513.6h.8v.8h-.8zM74.2 504.7h.8v.8h-.8zM77.4 485.8h.8v.8h-.8zM85.2 512.0h.8v.8h-.8zM73.9 502.8h.8v.8h-.8zM73.6 488.0h.8v.8h-.8zM72.4 499.4h.8v.8h-.8zM78.6 502.4h.8v.8h-.8zM73.3 508.2h.8v.8h-.8zM69.2 503.1h.8v.8h-.8zM78.6 493.4h.8v.8h-.8zM64.0 487.8h.8v.8h-.8zM74.2 500.8h.8v.8h-.8zM80.7 487.0h.8v.8h-.8zM73.0 501.8h.8v.8h-.8zM72.2 474.7h.8v.8h-.8zM77.0 516.8h.8v.8h-.8zM78.0 487.7h.8v.8h-.8zM70.9 498.0h.8v.8h-.8zM85.4 501.6h.8v.8h-.8zM73.6 510.0h.8v.8h-.8zM72.6 512.8h.8v.8h-.8zM69.6 491.7h.8v.8h-.8zM76.6 508.8h.8v.8h-.8zM76.3 498.7h.8v.8h-.8zM63.9 489.6h.8v.8h-.8zM69.9 491.2h.8v.8h-.8zM75.9 493.0h.8v.8h-.8zM76.9 496.7h.8v.8h-.8zM71.3 497.1h.8v.8h-.8zM75.1 503.7h.8v.8h-.8zM70.6 493.9h.8v.8h-.8zM66.2 510.4h.8v.8h-.8zM80.3 494.4h.8v.8h-.8zM70.6 484.9h.8v.8h-.8zM73.8 497.9h.8v.8h-.8zM83.9 498.2h.8v.8h-.8zM69.1 474.0h.8v.8h-.8zM80.0 497.7h.8v.8h-.8zM65.0 497.6h.8v.8h-.8zM65.0 527.3h.8v.8h-.8zM78.6 501.2h.8v.8h-.8zM72.1 476.7h.8v.8h-.8zM72.4 482.0h.8v.8h-.8zM76.0 476.8h.8v.8h-.8zM68.5 507.0h.8v.8h-.8zM81.2 485.4h.8v.8h-.8zM65.3 503.9h.8v.8h-.8zM77.3 487.1h.8v.8h-.8zM69.5 489.8h.8v.8h-.8zM67.1 489.9h.8v.8h-.8zM79.3 502.2h.8v.8h-.8zM83.3 495.2h.8v.8h-.8zM72.3 487.2h.8v.8h-.8zM72.4 484.2h.8v.8h-.8zM64.1 502.3h.8v.8h-.8zM80.2 503.5h.8v.8h-.8zM79.7 498.3h.8v.8h-.8zM69.4 496.8h.8v.8h-.8zM71.1 486.0h.8v.8h-.8zM64.5 482.7h.8v.8h-.8zM73.0 497.4h.8v.8h-.8zM70.6 508.9h.8v.8h-.8zM73.9 501.2h.8v.8h-.8zM79.1 488.6h.8v.8h-.8zM63.2 502.8h.8v.8h-.8zM69.6 507.8h.8v.8h-.8zM74.7 505.1h.8v.8h-.8zM76.8 477.3h.8v.8h-.8zM76.6 489.9h.8v.8h-.8zM69.2 492.1h.8v.8h-.8zM76.8 504.0h.8v.8h-.8zM78.1 481.1h.8v.8h-.8zM70.0 474.6h.8v.8h-.8zM72.5 501.4h.8v.8h-.8zM69.2 498.2h.8v.8h-.8zM74.2 505.1h.8v.8h-.8zM68.9 488.5h.8v.8h-.8zM69.2 511.8h.8v.8h-.8zM78.5 494.9h.8v.8h-.8zM74.1 497.0h.8v.8h-.8zM74.0 494.1h.8v.8h-.8zM71.3 484.7h.8v.8h-.8zM69.8 510.9h.8v.8h-.8zM75.7 496.6h.8v.8h-.8zM71.9 496.6h.8v.8h-.8zM74.8 490.2h.8v.8h-.8zM74.0 498.2h.8v.8h-.8zM69.3 488.9h.8v.8h-.8zM68.0 486.4h.8v.8h-.8zM77.4 474.8h.8v.8h-.8zM71.7 490.5h.8v.8h-.8zM69.9 496.9h.8v.8h-.8zM78.6 496.7h.8v.8h-.8zM72.3 490.5h.8v.8h-.8zM72.4 504.2h.8v.8h-.8zM71.0 485.7h.8v.8h-.8zM66.7 486.0h.8v.8h-.8zM66.1 505.9h.8v.8h-.8zM74.8 493.9h.8v.8h-.8zM80.3 490.1h.8v.8h-.8zM76.8 503.2h.8v.8h-.8zM65.3 482.0h.8v.8h-.8zM68.4 504.2h.8v.8h-.8zM79.5 485.0h.8v.8h-.8zM78.2 492.6h.8v.8h-.8zM71.0 491.0h.8v.8h-.8zM71.4 479.6h.8v.8h-.8zM68.0 484.9h.8v.8h-.8zM75.5 514.8h.8v.8h-.8zM86.7 493.0h.8v.8h-.8zM64.4 492.3h.8v.8h-.8zM68.3 513.8h.8v.8h-.8zM75.9 489.4h.8v.8h-.8zM77.7 500.8h.8v.8h-.8zM64.9 491.2h.8v.8h-.8zM71.8 496.2h.8v.8h-.8zM73.7 492.9h.8v.8h-.8zM73.9 490.7h.8v.8h-.8zM68.5 509.6h.8v.8h-.8zM74.8 499.9h.8v.8h-.8zM65.0 494.5h.8v.8h-.8zM77.1 484.4h.8v.8h-.8zM78.5 492.5h.8v.8h-.8zM75.0 494.8h.8v.8h-.8zM74.1 506.8h.8v.8h-.8zM71.0 510.1h.8v.8h-.8zM69.1 487.6h.8v.8h-.8zM76.6 486.4h.8v.8h-.8zM71.1 504.2h.8v.8h-.8zM79.1 480.0h.8v.8h-.8zM75.5 513.0h.8v.8h-.8zM79.0 493.8h.8v.8h-.8zM70.0 493.3h.8v.8h-.8zM67.2 493.6h.8v.8h-.8zM72.1 494.7h.8v.8h-.8zM78.9 493.9h.8v.8h-.8zM65.7 505.5h.8v.8h-.8zM67.6 492.0h.8v.8h-.8zM72.3 492.9h.8v.8h-.8zM68.0 493.8h.8v.8h-.8zM83.9 490.5h.8v.8h-.8zM72.3 506.1h.8v.8h-.8zM76.7 502.9h.8v.8h-.8zM77.3 478.3h.8v.8h-.8zM68.7 497.2h.8v.8h-.8zM75.5 507.6h.8v.8h-.8zM75.3 493.9h.8v.8h-.8zM73.2 494.1h.8v.8h-.8zM74.2 502.1h.8v.8h-.8zM71.3 488.7h.8v.8h-.8zM68.7 505.9h.8v.8h-.8zM79.4 504.9h.8v.8h-.8zM77.3 503.5h.8v.8h-.8zM73.0 502.0h.8v.8h-.8zM67.7 494.2h.8v.8h-.8zM69.3 502.5h.8v.8h-.8zM70.1 495.0h.8v.8h-.8zM75.0 508.2h.8v.8h-.8zM69.0 487.6h.8v.8h-.8zM77.1 486.0h.8v.8h-.8zM75.3 490.9h.8v.8h-.8zM72.5 479.6h.8v.8h-.8zM76.6 491.5h.8v.8h-.8zM68.5 514.7h.8v.8h-.8zM76.6 527.6h.8v.8h-.8zM75.0 492.9h.8v.8h-.8zM73.5 510.5h.8v.8h-.8zM72.9 500.1h.8v.8h-.8zM75.6 487.8h.8v.8h-.8zM73.6 491.5h.8v.8h-.8zM66.8 503.8h.8v.8h-.8zM76.3 496.7h.8v.8h-.8zM68.5 477.9h.8v.8h-.8zM75.4 495.1h.8v.8h-.8zM64.6 495.5h.8v.8h-.8zM65.4 495.8h.8v.8h-.8zM73.7 499.2h.8v.8h-.8zM74.1 497.5h.8v.8h-.8zM67.3 492.5h.8v.8h-.8zM70.4 493.9h.8v.8h-.8zM74.4 501.6h.8v.8h-.8zM81.2 472.9h.8v.8h-.8zM75.0 494.2h.8v.8h-.8zM84.4 504.4h.8v.8h-.8zM64.7 499.6h.8v.8h-.8zM70.4 504.9h.8v.8h-.8zM67.7 495.1h.8v.8h-.8zM72.3 495.1h.8v.8h-.8zM70.1 479.5h.8v.8h-.8zM75.3 505.0h.8v.8h-.8zM72.7 486.8h.8v.8h-.8zM74.0 501.1h.8v.8h-.8zM72.1 495.9h.8v.8h-.8zM80.0 485.9h.8v.8h-.8zM70.2 478.8h.8v.8h-.8zM69.5 489.3h.8v.8h-.8zM68.2 489.8h.8v.8h-.8zM82.0 494.2h.8v.8h-.8zM72.4 515.8h.8v.8h-.8zM72.7 480.4h.8v.8h-.8zM75.0 487.6h.8v.8h-.8zM81.2 484.8h.8v.8h-.8zM70.1 481.5h.8v.8h-.8zM73.5 486.9h.8v.8h-.8zM72.7 492.6h.8v.8h-.8zM69.9 504.5h.8v.8h-.8zM77.7 496.6h.8v.8h-.8zM68.5 486.4h.8v.8h-.8zM74.3 517.5h.8v.8h-.8zM70.7 488.9h.8v.8h-.8zM69.5 486.1h.8v.8h-.8zM68.1 494.2h.8v.8h-.8zM80.2 496.0h.8v.8h-.8zM70.4 481.5h.8v.8h-.8zM74.1 495.8h.8v.8h-.8zM66.9 486.2h.8v.8h-.8zM72.8 505.1h.8v.8h-.8zM76.1 497.9h.8v.8h-.8zM71.4 498.9h.8v.8h-.8zM72.9 515.6h.8v.8h-.8zM67.3 492.7h.8v.8h-.8zM79.3 493.6h.8v.8h-.8zM80.1 495.6h.8v.8h-.8zM73.7 492.7h.8v.8h-.8zM66.1 487.3h.8v.8h-.8zM84.1 501.8h.8v.8h-.8zM76.0 504.6h.8v.8h-.8zM75.8 505.2h.8v.8h-.8zM71.7 494.0h.8v.8h-.8zM77.9 492.8h.8v.8h-.8zM66.3 494.0h.8v.8h-.8zM70.3 501.5h.8v.8h-.8zM69.4 486.4h.8v.8h-.8zM71.3 510.0h.8v.8h-.8zM72.8 497.4h.8v.8h-.8zM73.0 498.7h.8v.8h-.8zM77.6 508.6h.8v.8h-.8zM64.8 508.3h.8v.8h-.8zM73.0 493.1h.8v.8h-.8zM85.0 494.5h.8v.8h-.8zM82.7 504.7h.8v.8h-.8zM67.9 500.4h.8v.8h-.8zM76.7 494.9h.8v.8h-.8zM61.4 492.9h.8v.8h-.8zM72.0 486.0h.8v.8h-.8zM82.1 493.8h.8v.8h-.8zM71.0 493.3h.8v.8h-.8zM69.1 489.0h.8v.8h-.8zM73.5 498.8h.8v.8h-.8zM70.5 495.2h.8v.8h-.8zM66.0 500.7h.8v.8h-.8zM69.3 497.9h.8v.8h-.8zM68.5 491.4h.8v.8h-.8zM74.1 485.1h.8v.8h-.8zM85.3 495.7h.8v.8h-.8zM72.6 489.4h.8v.8h-.8zM81.0 508.5h.8v.8h-.8zM74.5 483.7h.8v.8h-.8zM70.5 501.5h.8v.8h-.8zM70.4 485.3h.8v.8h-.8zM67.1 489.1h.8v.8h-.8zM73.1 490.2h.8v.8h-.8zM73.1 521.1h.8v.8h-.8zM81.9 486.7h.8v.8h-.8zM74.7 496.8h.8v.8h-.8zM72.3 505.4h.8v.8h-.8zM71.3 493.1h.8v.8h-.8zM71.1 495.1h.8v.8h-.8zM79.4 503.0h.8v.8h-.8zM66.3 492.0h.8v.8h-.8zM69.0 503.3h.8v.8h-.8zM74.1 504.0h.8v.8h-.8zM72.7 478.8h.8v.8h-.8zM75.3 498.0h.8v.8h-.8zM75.5 484.3h.8v.8h-.8zM73.4 489.8h.8v.8h-.8zM69.6 499.2h.8v.8h-.8zM74.8 488.0h.8v.8h-.8zM64.4 473.7h.8v.8h-.8zM70.1 506.1h.8v.8h-.8zM72.7 475.7h.8v.8h-.8zM68.7 499.8h.8v.8h-.8zM81.4 506.5h.8v.8h-.8zM74.8 497.8h.8v.8h-.8zM67.7 491.9h.8v.8h-.8zM71.3 489.0h.8v.8h-.8zM73.3 492.5h.8v.8h-.8zM74.7 508.9h.8v.8h-.8zM76.7 499.8h.8v.8h-.8zM71.8 482.3h.8v.8h-.8zM72.4 500.9h.8v.8h-.8zM68.0 507.3h.8v.8h-.8zM71.3 499.3h.8v.8h-.8zM71.4 484.7h.8v.8h-.8zM83.3 485.5h.8v.8h-.8zM77.6 491.0h.8v.8h-.8zM74.4 488.7h.8v.8h-.8zM70.9 504.3h.8v.8h-.8zM82.7 488.4h.8v.8h-.8zM73.1 504.5h.8v.8h-.8zM69.8 502.4h.8v.8h-.8zM69.1 501.4h.8v.8h-.8zM75.2 506.9h.8v.8h-.8zM74.8 485.3h.8v.8h-.8zM76.3 486.1h.8v.8h-.8zM76.8 509.6h.8v.8h-.8zM76.0 491.0h.8v.8h-.8zM79.0 497.5h.8v.8h-.8zM66.8 492.8h.8v.8h-.8zM80.1 493.3h.8v.8h-.8zM73.6 492.9h.8v.8h-.8zM64.6 491.4h.8v.8h-.8zM74.8 497.9h.8v.8h-.8zM72.1 476.8h.8v.8h-.8zM79.1 502.5h.8v.8h-.8zM78.1 507.7h.8v.8h-.8zM70.8 490.6h.8v.8h-.8zM74.6 511.1h.8v.8h-.8zM64.6 493.9h.8v.8h-.8zM69.4 501.0h.8v.8h-.8zM80.3 493.3h.8v.8h-.8zM66.8 496.4h.8v.8h-.8zM71.6 482.1h.8v.8h-.8zM77.4 491.3h.8v.8h-.8zM76.4 484.2h.8v.8h-.8zM78.5 483.0h.8v.8h-.8zM78.3 479.7h.8v.8h-.8zM79.9 492.6h.8v.8h-.8zM65.2 493.9h.8v.8h-.8zM74.7 487.1h.8v.8h-.8zM70.5 498.4h.8v.8h-.8zM72.2 468.4h.8v.8h-.8zM70.9 499.8h.8v.8h-.8zM74.5 505.1h.8v.8h-.8zM69.5 519.0h.8v.8h-.8zM77.0 498.8h.8v.8h-.8zM78.4 504.6h.8v.8h-.8zM73.5 490.4h.8v.8h-.8zM90.6 474.4h.8v.8h-.8zM77.5 469.5h.8v.8h-.8zM88.1 473.3h.8v.8h-.8zM87.3 475.1h.8v.8h-.8zM86.7 478.1h.8v.8h-.8zM83.3 471.7h.8v.8h-.8zM87.5 475.4h.8v.8h-.8zM89.5 477.8h.8v.8h-.8zM83.9 476.7h.8v.8h-.8zM88.1 469.7h.8v.8h-.8zM85.4 479.7h.8v.8h-.8zM89.5 471.5h.8v.8h-.8zM75.2 470.6h.8v.8h-.8zM82.8 473.2h.8v.8h-.8zM96.4 475.4h.8v.8h-.8zM87.4 470.0h.8v.8h-.8zM80.7 472.3h.8v.8h-.8zM83.9 482.6h.8v.8h-.8zM84.2 471.0h.8v.8h-.8zM91.1 473.2h.8v.8h-.8zM80.4 477.1h.8v.8h-.8zM84.6 468.7h.8v.8h-.8zM87.4 474.6h.8v.8h-.8zM84.5 475.2h.8v.8h-.8zM89.7 470.2h.8v.8h-.8zM76.7 465.3h.8v.8h-.8zM85.4 476.9h.8v.8h-.8zM90.5 477.5h.8v.8h-.8zM94.4 473.1h.8v.8h-.8zM90.8 468.1h.8v.8h-.8zM89.1 474.3h.8v.8h-.8zM85.6 471.6h.8v.8h-.8zM81.0 473.4h.8v.8h-.8zM91.7 471.8h.8v.8h-.8zM88.4 470.9h.8v.8h-.8zM87.1 469.8h.8v.8h-.8zM87.7 472.3h.8v.8h-.8zM87.4 471.1h.8v.8h-.8zM80.7 471.9h.8v.8h-.8zM90.7 478.1h.8v.8h-.8zM84.5 475.6h.8v.8h-.8zM89.4 474.3h.8v.8h-.8zM79.0 474.0h.8v.8h-.8zM81.6 476.8h.8v.8h-.8zM89.5 475.0h.8v.8h-.8zM74.6 475.0h.8v.8h-.8zM89.1 468.9h.8v.8h-.8zM90.4 473.2h.8v.8h-.8zM85.2 470.7h.8v.8h-.8zM81.4 471.6h.8v.8h-.8zM99.9 473.7h.8v.8h-.8zM86.9 470.9h.8v.8h-.8zM83.2 471.2h.8v.8h-.8zM82.0 475.8h.8v.8h-.8zM84.8 475.8h.8v.8h-.8zM80.8 476.0h.8v.8h-.8zM85.9 475.1h.8v.8h-.8zM85.5 470.2h.8v.8h-.8zM91.4 471.6h.8v.8h-.8zM85.3 470.2h.8v.8h-.8zM86.9 471.8h.8v.8h-.8zM87.3 474.1h.8v.8h-.8zM82.9 468.5h.8v.8h-.8zM87.9 475.9h.8v.8h-.8zM89.1 469.3h.8v.8h-.8zM88.7 474.2h.8v.8h-.8zM87.3 474.4h.8v.8h-.8zM84.5 473.7h.8v.8h-.8zM90.2 471.4h.8v.8h-.8zM79.5 472.7h.8v.8h-.8zM86.9 467.1h.8v.8h-.8zM83.0 474.9h.8v.8h-.8zM85.3 473.3h.8v.8h-.8zM80.3 475.9h.8v.8h-.8zM93.9 472.4h.8v.8h-.8zM82.7 469.3h.8v.8h-.8zM90.0 473.3h.8v.8h-.8zM82.4 476.9h.8v.8h-.8zM89.4 474.9h.8v.8h-.8zM78.1 472.7h.8v.8h-.8zM88.8 469.1h.8v.8h-.8zM90.2 477.6h.8v.8h-.8zM90.7 470.7h.8v.8h-.8zM82.8 476.0h.8v.8h-.8zM90.5 476.9h.8v.8h-.8zM91.4 472.7h.8v.8h-.8zM84.2 467.1h.8v.8h-.8zM89.5 480.3h.8v.8h-.8zM83.9 471.5h.8v.8h-.8zM88.9 474.2h.8v.8h-.8zM79.8 470.7h.8v.8h-.8zM81.1 479.5h.8v.8h-.8zM82.8 475.7h.8v.8h-.8zM94.6 479.1h.8v.8h-.8zM92.4 478.2h.8v.8h-.8zM80.4 471.9h.8v.8h-.8zM82.7 472.1h.8v.8h-.8zM97.8 467.6h.8v.8h-.8zM88.5 469.0h.8v.8h-.8zM92.0 477.2h.8v.8h-.8zM83.7 479.6h.8v.8h-.8zM86.3 477.2h.8v.8h-.8zM87.4 471.2h.8v.8h-.8zM84.3 472.6h.8v.8h-.8zM88.8 473.4h.8v.8h-.8zM96.6 472.4h.8v.8h-.8zM83.9 470.7h.8v.8h-.8zM82.5 468.4h.8v.8h-.8zM81.6 475.9h.8v.8h-.8zM86.3 472.5h.8v.8h-.8zM87.6 476.4h.8v.8h-.8zM88.8 475.5h.8v.8h-.8zM83.5 472.2h.8v.8h-.8zM82.5 472.7h.8v.8h-.8zM82.3 471.8h.8v.8h-.8zM85.2 472.3h.8v.8h-.8zM84.8 471.4h.8v.8h-.8zM91.9 471.9h.8v.8h-.8zM81.4 473.6h.8v.8h-.8zM81.1 469.6h.8v.8h-.8zM86.4 467.7h.8v.8h-.8zM71.5 473.9h.8v.8h-.8zM90.7 467.7h.8v.8h-.8zM82.0 474.8h.8v.8h-.8zM77.1 470.2h.8v.8h-.8zM80.6 472.4h.8v.8h-.8zM77.1 475.9h.8v.8h-.8zM85.4 474.0h.8v.8h-.8zM84.5 466.2h.8v.8h-.8zM85.3 468.7h.8v.8h-.8zM78.1 522.0h.8v.8h-.8zM74.8 526.5h.8v.8h-.8zM85.7 533.4h.8v.8h-.8zM67.9 527.9h.8v.8h-.8zM92.6 531.5h.8v.8h-.8zM70.7 527.2h.8v.8h-.8zM74.5 534.6h.8v.8h-.8zM78.3 530.6h.8v.8h-.8zM100.1 518.4h.8v.8h-.8zM67.9 515.9h.8v.8h-.8zM62.1 534.0h.8v.8h-.8zM80.9 539.4h.8v.8h-.8zM58.3 521.8h.8v.8h-.8zM92.4 535.2h.8v.8h-.8zM86.8 534.1h.8v.8h-.8zM78.3 527.9h.8v.8h-.8zM78.3 533.9h.8v.8h-.8zM76.4 530.2h.8v.8h-.8zM92.5 520.1h.8v.8h-.8zM70.5 532.0h.8v.8h-.8zM75.4 526.9h.8v.8h-.8zM99.0 530.9h.8v.8h-.8zM73.8 535.7h.8v.8h-.8zM103.2 520.2h.8v.8h-.8zM71.3 528.8h.8v.8h-.8zM83.3 525.2h.8v.8h-.8zM82.9 522.4h.8v.8h-.8zM71.9 528.7h.8v.8h-.8zM101.9 512.2h.8v.8h-.8zM82.2 537.5h.8v.8h-.8zM82.5 529.0h.8v.8h-.8zM76.7 522.0h.8v.8h-.8zM94.4 519.7h.8v.8h-.8zM76.8 524.3h.8v.8h-.8zM70.1 512.4h.8v.8h-.8zM74.2 529.0h.8v.8h-.8zM79.4 533.9h.8v.8h-.8zM76.4 523.5h.8v.8h-.8zM81.1 532.7h.8v.8h-.8zM69.0 517.4h.8v.8h-.8zM67.7 535.4h.8v.8h-.8zM88.0 521.8h.8v.8h-.8zM79.1 533.9h.8v.8h-.8zM91.3 523.4h.8v.8h-.8zM75.6 537.9h.8v.8h-.8zM102.1 538.7h.8v.8h-.8zM66.6 531.1h.8v.8h-.8zM75.0 527.6h.8v.8h-.8zM71.4 524.6h.8v.8h-.8zM77.9 540.6h.8v.8h-.8zM85.0 531.0h.8v.8h-.8zM78.3 522.7h.8v.8h-.8zM75.7 536.7h.8v.8h-.8zM80.6 527.9h.8v.8h-.8zM61.8 530.8h.8v.8h-.8zM60.8 538.7h.8v.8h-.8zM71.7 528.0h.8v.8h-.8zM64.5 524.5h.8v.8h-.8zM68.7 535.9h.8v.8h-.8zM80.5 519.7h.8v.8h-.8zM58.7 527.5h.8v.8h-.8zM73.1 520.2h.8v.8h-.8zM83.9 526.7h.8v.8h-.8zM79.1 523.9h.8v.8h-.8zM72.3 524.8h.8v.8h-.8zM62.0 532.4h.8v.8h-.8zM82.0 515.9h.8v.8h-.8zM79.0 536.1h.8v.8h-.8zM80.4 537.1h.8v.8h-.8zM75.3 528.0h.8v.8h-.8zM65.0 521.7h.8v.8h-.8zM59.8 521.7h.8v.8h-.8zM80.4 531.6h.8v.8h-.8zM89.6 528.9h.8v.8h-.8zM68.1 531.0h.8v.8h-.8zM76.5 540.5h.8v.8h-.8zM97.6 534.7h.8v.8h-.8zM66.6 524.3h.8v.8h-.8zM79.9 523.0h.8v.8h-.8zM83.2 532.8h.8v.8h-.8zM86.4 529.6h.8v.8h-.8zM69.2 522.1h.8v.8h-.8zM76.8 537.3h.8v.8h-.8zM93.7 534.8h.8v.8h-.8zM81.6 532.7h.8v.8h-.8zM86.2 537.0h.8v.8h-.8zM86.6 517.3h.8v.8h-.8zM87.5 530.7h.8v.8h-.8zM73.4 531.7h.8v.8h-.8zM80.9 527.6h.8v.8h-.8zM61.1 528.8h.8v.8h-.8zM83.6 527.7h.8v.8h-.8zM62.1 531.2h.8v.8h-.8zM85.2 529.3h.8v.8h-.8zM82.3 525.5h.8v.8h-.8zM71.4 531.7h.8v.8h-.8zM74.5 529.3h.8v.8h-.8zM110.6 533.0h.8v.8h-.8zM79.4 516.6h.8v.8h-.8zM79.0 533.3h.8v.8h-.8zM71.0 526.3h.8v.8h-.8zM55.5 531.9h.8v.8h-.8zM72.0 532.8h.8v.8h-.8zM91.6 526.9h.8v.8h-.8zM87.8 529.8h.8v.8h-.8zM76.0 526.0h.8v.8h-.8zM69.5 537.0h.8v.8h-.8zM86.8 521.0h.8v.8h-.8zM86.4 522.9h.8v.8h-.8zM62.9 536.4h.8v.8h-.8zM65.2 536.3h.8v.8h-.8zM80.0 534.3h.8v.8h-.8zM83.1 536.1h.8v.8h-.8zM81.5 532.0h.8v.8h-.8zM80.5 535.7h.8v.8h-.8zM74.1 535.1h.8v.8h-.8zM93.1 527.6h.8v.8h-.8zM82.4 524.4h.8v.8h-.8zM75.1 529.8h.8v.8h-.8zM74.6 521.8h.8v.8h-.8zM77.7 529.3h.8v.8h-.8zM81.2 533.0h.8v.8h-.8zM60.3 537.9h.8v.8h-.8zM76.3 522.6h.8v.8h-.8zM74.3 531.1h.8v.8h-.8zM86.7 525.4h.8v.8h-.8zM79.6 516.8h.8v.8h-.8zM79.7 527.2h.8v.8h-.8zM73.7 534.2h.8v.8h-.8zM95.9 535.2h.8v.8h-.8zM70.2 538.7h.8v.8h-.8zM74.7 527.7h.8v.8h-.8zM72.2 531.2h.8v.8h-.8zM83.5 529.0h.8v.8h-.8zM75.9 527.0h.8v.8h-.8zM74.0 534.8h.8v.8h-.8zM72.8 527.0h.8v.8h-.8zM75.9 522.8h.8v.8h-.8zM75.7 517.8h.8v.8h-.8zM82.1 531.8h.8v.8h-.8zM75.0 538.9h.8v.8h-.8zM69.8 531.9h.8v.8h-.8zM82.8 524.3h.8v.8h-.8zM75.6 534.2h.8v.8h-.8zM78.6 530.0h.8v.8h-.8zM91.9 529.5h.8v.8h-.8zM61.3 522.9h.8v.8h-.8zM86.3 527.1h.8v.8h-.8zM67.3 514.2h.8v.8h-.8zM81.2 538.5h.8v.8h-.8zM65.5 512.9h.8v.8h-.8zM83.0 524.2h.8v.8h-.8zM75.1 525.8h.8v.8h-.8zM69.0 531.1h.8v.8h-.8zM87.1 530.5h.8v.8h-.8zM72.5 535.2h.8v.8h-.8zM76.9 532.0h.8v.8h-.8zM68.7 532.6h.8v.8h-.8zM85.4 537.0h.8v.8h-.8zM78.3 531.1h.8v.8h-.8zM72.3 534.1h.8v.8h-.8zM85.7 535.5h.8v.8h-.8zM74.2 519.5h.8v.8h-.8zM77.3 526.6h.8v.8h-.8zM70.6 532.2h.8v.8h-.8zM87.4 530.7h.8v.8h-.8zM89.0 530.8h.8v.8h-.8zM68.3 524.0h.8v.8h-.8zM74.5 532.8h.8v.8h-.8zM87.1 529.0h.8v.8h-.8zM88.0 522.3h.8v.8h-.8zM76.9 538.4h.8v.8h-.8zM82.4 535.3h.8v.8h-.8zM59.4 516.5h.8v.8h-.8zM69.5 535.0h.8v.8h-.8zM94.1 523.7h.8v.8h-.8zM68.3 521.0h.8v.8h-.8zM69.2 531.9h.8v.8h-.8zM85.1 523.3h.8v.8h-.8zM80.4 527.0h.8v.8h-.8zM85.8 534.3h.8v.8h-.8zM74.6 534.2h.8v.8h-.8zM83.6 527.4h.8v.8h-.8zM80.5 532.7h.8v.8h-.8zM74.9 523.4h.8v.8h-.8zM90.5 528.1h.8v.8h-.8zM72.2 531.2h.8v.8h-.8zM63.5 528.4h.8v.8h-.8zM64.6 525.1h.8v.8h-.8zM60.5 523.1h.8v.8h-.8zM86.8 526.8h.8v.8h-.8zM66.1 540.0h.8v.8h-.8zM71.8 538.2h.8v.8h-.8zM72.9 518.0h.8v.8h-.8zM96.2 525.1h.8v.8h-.8zM85.5 536.2h.8v.8h-.8zM65.1 528.5h.8v.8h-.8zM72.4 532.2h.8v.8h-.8zM77.9 519.3h.8v.8h-.8zM78.6 533.3h.8v.8h-.8zM75.2 531.9h.8v.8h-.8zM72.8 527.7h.8v.8h-.8zM81.5 529.0h.8v.8h-.8zM90.5 534.6h.8v.8h-.8zM86.3 533.0h.8v.8h-.8zM79.6 520.1h.8v.8h-.8zM88.5 540.0h.8v.8h-.8zM80.3 526.3h.8v.8h-.8zM77.7 536.3h.8v.8h-.8zM80.9 521.3h.8v.8h-.8zM76.4 522.8h.8v.8h-.8zM76.1 521.9h.8v.8h-.8zM69.5 538.2h.8v.8h-.8zM88.3 517.0h.8v.8h-.8zM68.5 525.0h.8v.8h-.8zM74.3 518.6h.8v.8h-.8zM86.8 517.0h.8v.8h-.8zM84.9 532.8h.8v.8h-.8zM74.5 523.6h.8v.8h-.8zM78.7 529.1h.8v.8h-.8zM57.6 519.5h.8v.8h-.8zM83.3 527.3h.8v.8h-.8zM74.0 521.3h.8v.8h-.8zM71.2 522.8h.8v.8h-.8zM105.4 519.5h.8v.8h-.8zM93.1 531.3h.8v.8h-.8zM80.2 529.4h.8v.8h-.8zM74.4 539.1h.8v.8h-.8zM83.1 527.9h.8v.8h-.8zM76.9 529.4h.8v.8h-.8zM66.9 525.9h.8v.8h-.8zM72.0 532.3h.8v.8h-.8zM84.0 515.3h.8v.8h-.8zM75.9 534.8h.8v.8h-.8zM65.4 520.0h.8v.8h-.8zM87.9 527.2h.8v.8h-.8zM73.7 519.7h.8v.8h-.8zM79.7 524.2h.8v.8h-.8zM80.2 531.0h.8v.8h-.8zM85.0 525.8h.8v.8h-.8zM72.9 528.3h.8v.8h-.8zM77.1 529.2h.8v.8h-.8zM72.9 526.4h.8v.8h-.8zM72.4 524.0h.8v.8h-.8zM79.6 536.0h.8v.8h-.8zM72.8 532.1h.8v.8h-.8zM81.5 528.8h.8v.8h-.8zM84.7 524.2h.8v.8h-.8zM83.6 530.1h.8v.8h-.8zM67.7 528.7h.8v.8h-.8zM81.5 521.4h.8v.8h-.8zM89.8 531.1h.8v.8h-.8zM70.3 519.8h.8v.8h-.8zM99.2 511.1h.8v.8h-.8zM60.3 532.6h.8v.8h-.8zM77.0 523.7h.8v.8h-.8zM84.0 528.7h.8v.8h-.8zM80.9 529.9h.8v.8h-.8zM67.4 537.1h.8v.8h-.8zM73.6 535.8h.8v.8h-.8zM84.9 528.3h.8v.8h-.8zM79.4 527.7h.8v.8h-.8zM60.0 525.8h.8v.8h-.8zM82.3 517.0h.8v.8h-.8zM63.5 535.5h.8v.8h-.8zM86.0 517.4h.8v.8h-.8zM82.6 527.7h.8v.8h-.8zM87.7 525.8h.8v.8h-.8zM75.9 522.9h.8v.8h-.8zM79.8 527.2h.8v.8h-.8zM71.6 525.7h.8v.8h-.8zM70.7 532.3h.8v.8h-.8zM67.9 517.3h.8v.8h-.8zM68.6 535.5h.8v.8h-.8zM73.1 532.5h.8v.8h-.8zM85.3 524.5h.8v.8h-.8zM85.5 531.5h.8v.8h-.8zM77.6 523.2h.8v.8h-.8zM77.5 519.2h.8v.8h-.8zM75.3 524.0h.8v.8h-.8zM82.4 530.4h.8v.8h-.8zM71.7 534.0h.8v.8h-.8zM89.8 528.5h.8v.8h-.8zM70.8 531.5h.8v.8h-.8zM54.0 524.0h.8v.8h-.8zM70.8 538.6h.8v.8h-.8zM54.8 535.6h.8v.8h-.8zM79.9 535.0h.8v.8h-.8zM76.3 523.8h.8v.8h-.8zM75.8 538.4h.8v.8h-.8zM86.3 526.0h.8v.8h-.8zM81.8 534.0h.8v.8h-.8zM83.7 527.7h.8v.8h-.8zM71.5 522.9h.8v.8h-.8zM73.7 524.2h.8v.8h-.8zM62.4 518.2h.8v.8h-.8zM86.7 520.3h.8v.8h-.8zM65.1 527.7h.8v.8h-.8zM92.4 536.8h.8v.8h-.8zM73.9 520.9h.8v.8h-.8zM72.7 521.7h.8v.8h-.8zM72.6 531.4h.8v.8h-.8zM67.5 522.6h.8v.8h-.8zM75.5 527.8h.8v.8h-.8zM70.4 522.5h.8v.8h-.8zM66.8 522.8h.8v.8h-.8zM83.2 526.3h.8v.8h-.8zM77.3 522.0h.8v.8h-.8zM75.5 507.0h.8v.8h-.8zM61.6 536.1h.8v.8h-.8zM70.7 528.3h.8v.8h-.8zM85.8 519.5h.8v.8h-.8zM95.4 523.0h.8v.8h-.8zM81.5 520.0h.8v.8h-.8zM81.7 527.9h.8v.8h-.8zM88.8 520.0h.8v.8h-.8zM66.1 530.5h.8v.8h-.8zM82.4 524.5h.8v.8h-.8zM75.3 537.9h.8v.8h-.8zM89.4 532.0h.8v.8h-.8zM80.7 520.1h.8v.8h-.8zM78.9 540.5h.8v.8h-.8zM88.5 518.5h.8v.8h-.8zM57.3 523.4h.8v.8h-.8zM79.7 524.2h.8v.8h-.8zM74.9 530.4h.8v.8h-.8zM87.0 529.5h.8v.8h-.8zM90.5 518.0h.8v.8h-.8zM82.7 531.0h.8v.8h-.8zM63.1 536.8h.8v.8h-.8zM62.0 517.9h.8v.8h-.8zM104.7 537.1h.8v.8h-.8zM81.8 537.5h.8v.8h-.8zM89.5 520.1h.8v.8h-.8zM82.9 537.8h.8v.8h-.8zM76.4 528.5h.8v.8h-.8zM73.4 533.2h.8v.8h-.8zM72.5 523.9h.8v.8h-.8zM65.7 521.5h.8v.8h-.8zM80.2 531.3h.8v.8h-.8zM74.1 520.6h.8v.8h-.8zM81.4 530.5h.8v.8h-.8zM90.8 524.5h.8v.8h-.8zM73.9 531.6h.8v.8h-.8zM93.3 527.7h.8v.8h-.8zM77.2 521.4h.8v.8h-.8zM74.2 534.7h.8v.8h-.8zM86.6 535.9h.8v.8h-.8zM61.5 533.9h.8v.8h-.8zM68.7 532.2h.8v.8h-.8zM54.2 527.3h.8v.8h-.8zM69.1 537.0h.8v.8h-.8zM79.2 537.2h.8v.8h-.8zM73.1 521.1h.8v.8h-.8zM87.1 525.2h.8v.8h-.8zM77.4 518.5h.8v.8h-.8zM74.5 528.8h.8v.8h-.8zM70.9 530.8h.8v.8h-.8zM54.8 534.3h.8v.8h-.8zM73.9 538.4h.8v.8h-.8zM74.5 523.4h.8v.8h-.8zM73.5 530.0h.8v.8h-.8zM84.0 524.7h.8v.8h-.8zM70.0 531.1h.8v.8h-.8zM86.4 515.7h.8v.8h-.8zM67.4 523.3h.8v.8h-.8zM95.3 536.7h.8v.8h-.8zM86.1 531.5h.8v.8h-.8zM66.7 536.0h.8v.8h-.8zM73.5 522.4h.8v.8h-.8zM97.6 517.8h.8v.8h-.8zM92.0 529.4h.8v.8h-.8zM68.7 529.3h.8v.8h-.8zM69.5 529.3h.8v.8h-.8zM71.5 519.6h.8v.8h-.8zM104.9 524.5h.8v.8h-.8zM88.0 527.7h.8v.8h-.8zM84.9 519.1h.8v.8h-.8zM67.5 504.8h.8v.8h-.8zM88.2 531.2h.8v.8h-.8zM66.1 533.9h.8v.8h-.8zM80.4 534.5h.8v.8h-.8zM84.2 533.5h.8v.8h-.8zM77.8 525.1h.8v.8h-.8zM85.2 536.8h.8v.8h-.8zM66.2 520.0h.8v.8h-.8zM75.9 516.0h.8v.8h-.8zM86.2 533.4h.8v.8h-.8zM97.7 529.4h.8v.8h-.8zM98.0 522.9h.8v.8h-.8zM87.2 529.0h.8v.8h-.8zM66.0 526.1h.8v.8h-.8zM91.5 535.9h.8v.8h-.8zM74.2 535.9h.8v.8h-.8zM87.2 534.4h.8v.8h-.8zM81.0 530.2h.8v.8h-.8zM69.7 527.6h.8v.8h-.8zM79.3 522.8h.8v.8h-.8zM75.1 529.2h.8v.8h-.8zM80.2 535.5h.8v.8h-.8zM67.6 525.2h.8v.8h-.8zM80.8 525.4h.8v.8h-.8zM81.4 524.7h.8v.8h-.8zM90.0 526.4h.8v.8h-.8zM66.5 533.3h.8v.8h-.8zM94.9 514.4h.8v.8h-.8zM76.7 528.5h.8v.8h-.8zM88.5 538.6h.8v.8h-.8zM76.5 517.0h.8v.8h-.8zM84.8 535.2h.8v.8h-.8zM82.8 528.6h.8v.8h-.8zM65.9 517.4h.8v.8h-.8zM87.9 530.1h.8v.8h-.8zM84.9 530.6h.8v.8h-.8zM95.1 538.1h.8v.8h-.8zM72.5 535.1h.8v.8h-.8zM66.2 516.0h.8v.8h-.8zM90.2 525.0h.8v.8h-.8zM56.4 527.9h.8v.8h-.8zM71.4 531.6h.8v.8h-.8zM77.5 522.6h.8v.8h-.8zM70.9 533.5h.8v.8h-.8zM68.7 529.0h.8v.8h-.8zM68.1 531.2h.8v.8h-.8zM96.1 532.1h.8v.8h-.8zM89.3 531.2h.8v.8h-.8zM68.3 525.9h.8v.8h-.8zM78.8 531.2h.8v.8h-.8zM72.0 532.4h.8v.8h-.8zM70.8 528.5h.8v.8h-.8zM78.0 519.9h.8v.8h-.8zM88.2 528.4h.8v.8h-.8zM79.2 527.8h.8v.8h-.8zM56.8 518.1h.8v.8h-.8zM69.0 535.1h.8v.8h-.8zM72.2 532.3h.8v.8h-.8zM67.7 522.1h.8v.8h-.8zM73.3 535.5h.8v.8h-.8zM61.3 526.8h.8v.8h-.8zM82.2 529.0h.8v.8h-.8zM77.9 533.6h.8v.8h-.8zM81.0 520.9h.8v.8h-.8zM84.5 522.5h.8v.8h-.8zM74.6 538.3h.8v.8h-.8zM102.7 538.3h.8v.8h-.8zM82.4 522.6h.8v.8h-.8zM70.4 539.8h.8v.8h-.8zM81.4 518.3h.8v.8h-.8zM93.9 532.1h.8v.8h-.8zM91.4 530.9h.8v.8h-.8zM56.3 522.8h.8v.8h-.8zM76.6 526.9h.8v.8h-.8zM93.3 523.3h.8v.8h-.8zM77.1 527.6h.8v.8h-.8zM77.1 520.7h.8v.8h-.8zM65.7 509.8h.8v.8h-.8zM81.4 526.6h.8v.8h-.8zM80.1 520.6h.8v.8h-.8zM78.1 521.2h.8v.8h-.8zM67.9 530.4h.8v.8h-.8zM84.5 532.2h.8v.8h-.8zM77.6 525.3h.8v.8h-.8zM92.1 536.8h.8v.8h-.8zM71.7 520.4h.8v.8h-.8zM81.8 530.3h.8v.8h-.8zM57.0 522.2h.8v.8h-.8zM80.5 535.0h.8v.8h-.8zM59.4 525.0h.8v.8h-.8zM92.5 538.0h.8v.8h-.8zM75.5 528.3h.8v.8h-.8zM69.1 530.8h.8v.8h-.8zM67.5 513.7h.8v.8h-.8zM62.7 528.4h.8v.8h-.8zM64.8 535.9h.8v.8h-.8zM91.0 535.1h.8v.8h-.8zM84.7 536.0h.8v.8h-.8zM80.7 534.2h.8v.8h-.8zM82.8 533.6h.8v.8h-.8zM67.8 523.4h.8v.8h-.8zM68.0 533.9h.8v.8h-.8zM83.2 522.5h.8v.8h-.8zM68.1 524.0h.8v.8h-.8zM86.9 527.2h.8v.8h-.8zM75.6 523.2h.8v.8h-.8zM76.9 539.3h.8v.8h-.8zM71.1 525.6h.8v.8h-.8zM95.2 533.1h.8v.8h-.8zM66.6 535.7h.8v.8h-.8zM65.4 532.0h.8v.8h-.8zM87.3 523.8h.8v.8h-.8zM70.8 528.4h.8v.8h-.8zM78.1 524.7h.8v.8h-.8zM93.1 530.4h.8v.8h-.8zM66.5 524.3h.8v.8h-.8zM75.1 531.5h.8v.8h-.8zM94.2 524.4h.8v.8h-.8zM79.6 525.0h.8v.8h-.8zM79.5 523.2h.8v.8h-.8zM81.9 536.2h.8v.8h-.8zM74.1 525.7h.8v.8h-.8zM79.2 518.8h.8v.8h-.8zM96.3 518.6h.8v.8h-.8zM74.5 521.8h.8v.8h-.8zM93.2 524.6h.8v.8h-.8zM76.9 522.6h.8v.8h-.8zM78.0 529.4h.8v.8h-.8zM70.6 526.8h.8v.8h-.8zM76.0 533.2h.8v.8h-.8zM85.8 533.9h.8v.8h-.8zM76.8 533.7h.8v.8h-.8zM75.9 536.2h.8v.8h-.8zM82.1 525.1h.8v.8h-.8zM90.5 517.4h.8v.8h-.8zM68.3 522.4h.8v.8h-.8zM76.8 519.4h.8v.8h-.8zM66.0 514.7h.8v.8h-.8zM79.2 522.6h.8v.8h-.8zM100.1 533.5h.8v.8h-.8zM66.6 537.4h.8v.8h-.8zM79.1 535.6h.8v.8h-.8zM66.9 536.2h.8v.8h-.8zM89.1 525.1h.8v.8h-.8zM69.5 525.4h.8v.8h-.8zM96.3 538.6h.8v.8h-.8zM75.9 525.7h.8v.8h-.8zM81.8 526.1h.8v.8h-.8zM73.4 526.6h.8v.8h-.8zM86.6 527.6h.8v.8h-.8zM80.5 526.2h.8v.8h-.8zM76.1 525.7h.8v.8h-.8zM90.8 529.7h.8v.8h-.8zM93.1 526.9h.8v.8h-.8zM88.8 518.3h.8v.8h-.8zM74.0 527.6h.8v.8h-.8zM71.7 527.2h.8v.8h-.8zM68.8 526.9h.8v.8h-.8zM71.4 528.0h.8v.8h-.8zM75.1 521.0h.8v.8h-.8zM74.0 528.3h.8v.8h-.8zM65.3 528.7h.8v.8h-.8zM90.6 526.5h.8v.8h-.8zM83.6 532.4h.8v.8h-.8zM70.0 537.4h.8v.8h-.8zM103.3 520.8h.8v.8h-.8zM99.7 523.1h.8v.8h-.8zM92.7 515.3h.8v.8h-.8zM89.5 529.0h.8v.8h-.8zM65.2 522.3h.8v.8h-.8zM67.5 521.7h.8v.8h-.8zM81.9 526.8h.8v.8h-.8zM82.8 528.7h.8v.8h-.8zM95.1 515.1h.8v.8h-.8zM80.5 528.3h.8v.8h-.8zM85.3 518.6h.8v.8h-.8zM64.9 526.9h.8v.8h-.8zM78.8 515.3h.8v.8h-.8zM81.8 528.0h.8v.8h-.8zM85.5 509.7h.8v.8h-.8zM83.1 521.8h.8v.8h-.8zM73.3 533.5h.8v.8h-.8zM95.1 529.1h.8v.8h-.8zM77.0 537.3h.8v.8h-.8zM69.1 527.0h.8v.8h-.8zM73.0 521.1h.8v.8h-.8zM80.6 531.6h.8v.8h-.8zM77.8 536.0h.8v.8h-.8zM79.9 521.8h.8v.8h-.8zM79.1 538.2h.8v.8h-.8zM77.2 536.5h.8v.8h-.8zM80.9 532.7h.8v.8h-.8zM75.2 533.9h.8v.8h-.8zM75.8 517.6h.8v.8h-.8zM81.1 519.6h.8v.8h-.8zM93.0 533.6h.8v.8h-.8zM78.2 532.9h.8v.8h-.8zM71.5 532.8h.8v.8h-.8zM103.9 516.7h.8v.8h-.8zM73.9 530.5h.8v.8h-.8zM82.3 516.2h.8v.8h-.8zM68.7 538.5h.8v.8h-.8zM72.0 532.0h.8v.8h-.8zM64.3 521.6h.8v.8h-.8zM59.7 530.0h.8v.8h-.8zM89.7 528.7h.8v.8h-.8zM75.3 529.8h.8v.8h-.8zM82.8 526.0h.8v.8h-.8zM100.4 524.0h.8v.8h-.8zM88.0 536.6h.8v.8h-.8zM84.2 526.5h.8v.8h-.8zM87.9 535.9h.8v.8h-.8zM89.9 520.4h.8v.8h-.8zM88.4 525.6h.8v.8h-.8zM96.2 513.8h.8v.8h-.8zM96.3 523.7h.8v.8h-.8zM100.9 513.4h.8v.8h-.8zM97.1 513.3h.8v.8h-.8zM96.9 515.0h.8v.8h-.8zM102.4 516.3h.8v.8h-.8zM91.7 510.4h.8v.8h-.8zM98.5 505.9h.8v.8h-.8zM99.9 511.3h.8v.8h-.8zM98.3 514.0h.8v.8h-.8zM94.9 519.9h.8v.8h-.8zM103.3 509.3h.8v.8h-.8zM100.4 515.8h.8v.8h-.8zM94.2 510.3h.8v.8h-.8zM101.6 499.1h.8v.8h-.8zM91.4 513.7h.8v.8h-.8zM101.2 507.4h.8v.8h-.8zM102.4 523.2h.8v.8h-.8zM99.1 511.8h.8v.8h-.8zM98.4 507.0h.8v.8h-.8zM100.8 513.0h.8v.8h-.8zM101.8 519.2h.8v.8h-.8zM98.2 513.0h.8v.8h-.8zM99.7 520.8h.8v.8h-.8zM90.7 512.0h.8v.8h-.8zM94.9 512.7h.8v.8h-.8zM102.2 512.4h.8v.8h-.8zM101.8 513.0h.8v.8h-.8zM94.5 508.7h.8v.8h-.8zM91.1 513.2h.8v.8h-.8zM96.1 516.3h.8v.8h-.8zM102.9 507.6h.8v.8h-.8zM92.6 515.1h.8v.8h-.8zM93.6 513.1h.8v.8h-.8zM101.1 510.1h.8v.8h-.8zM107.0 508.2h.8v.8h-.8zM100.2 510.0h.8v.8h-.8zM83.6 511.2h.8v.8h-.8zM97.3 515.0h.8v.8h-.8zM97.4 508.4h.8v.8h-.8zM95.5 510.5h.8v.8h-.8zM101.9 510.7h.8v.8h-.8zM104.3 516.4h.8v.8h-.8zM94.3 517.2h.8v.8h-.8zM86.7 512.2h.8v.8h-.8zM93.1 511.6h.8v.8h-.8zM103.9 512.1h.8v.8h-.8zM97.2 518.5h.8v.8h-.8zM94.2 507.9h.8v.8h-.8zM103.0 515.1h.8v.8h-.8zM90.9 512.8h.8v.8h-.8zM102.0 511.2h.8v.8h-.8zM96.0 512.7h.8v.8h-.8zM99.1 508.5h.8v.8h-.8zM102.3 504.1h.8v.8h-.8zM97.7 522.8h.8v.8h-.8zM92.7 511.9h.8v.8h-.8zM86.6 507.9h.8v.8h-.8zM92.3 512.4h.8v.8h-.8zM95.6 521.3h.8v.8h-.8zM93.4 511.9h.8v.8h-.8zM99.1 515.3h.8v.8h-.8zM102.5 504.2h.8v.8h-.8zM109.1 510.5h.8v.8h-.8zM94.5 503.8h.8v.8h-.8zM95.8 503.2h.8v.8h-.8zM99.0 509.0h.8v.8h-.8zM99.7 508.1h.8v.8h-.8zM98.4 523.2h.8v.8h-.8zM103.9 512.9h.8v.8h-.8zM93.1 519.4h.8v.8h-.8zM89.5 505.0h.8v.8h-.8zM104.6 509.0h.8v.8h-.8zM104.8 514.9h.8v.8h-.8zM109.0 521.0h.8v.8h-.8zM101.0 508.9h.8v.8h-.8zM101.0 519.1h.8v.8h-.8zM98.7 497.5h.8v.8h-.8zM96.1 510.2h.8v.8h-.8zM97.7 510.3h.8v.8h-.8zM103.8 505.7h.8v.8h-.8zM100.2 502.1h.8v.8h-.8zM87.1 507.0h.8v.8h-.8zM94.3 507.5h.8v.8h-.8zM94.5 515.1h.8v.8h-.8zM100.9 512.4h.8v.8h-.8zM99.0 508.5h.8v.8h-.8zM93.1 504.9h.8v.8h-.8zM95.9 506.3h.8v.8h-.8zM96.4 515.7h.8v.8h-.8zM100.8 518.7h.8v.8h-.8zM93.3 501.0h.8v.8h-.8zM92.5 522.0h.8v.8h-.8zM101.5 509.8h.8v.8h-.8zM104.6 509.9h.8v.8h-.8zM106.4 510.0h.8v.8h-.8zM96.0 515.5h.8v.8h-.8zM92.3 511.2h.8v.8h-.8zM107.7 514.2h.8v.8h-.8zM92.5 510.7h.8v.8h-.8zM97.9 508.2h.8v.8h-.8zM100.1 518.3h.8v.8h-.8zM98.2 516.4h.8v.8h-.8zM99.5 512.7h.8v.8h-.8zM94.2 516.8h.8v.8h-.8zM104.8 509.7h.8v.8h-.8zM93.6 514.6h.8v.8h-.8zM98.5 517.6h.8v.8h-.8zM100.5 511.4h.8v.8h-.8zM91.1 515.1h.8v.8h-.8zM98.5 505.7h.8v.8h-.8zM90.5 502.9h.8v.8h-.8zM101.1 509.8h.8v.8h-.8zM81.4 507.6h.8v.8h-.8zM94.8 511.4h.8v.8h-.8zM98.2 510.3h.8v.8h-.8zM101.7 517.1h.8v.8h-.8zM96.9 519.9h.8v.8h-.8zM97.4 507.7h.8v.8h-.8zM98.8 504.8h.8v.8h-.8zM96.5 506.7h.8v.8h-.8zM95.8 513.0h.8v.8h-.8zM85.7 514.0h.8v.8h-.8zM99.3 510.9h.8v.8h-.8zM101.6 513.7h.8v.8h-.8zM96.2 507.0h.8v.8h-.8zM101.7 515.8h.8v.8h-.8zM90.6 508.3h.8v.8h-.8zM92.1 516.1h.8v.8h-.8zM95.1 505.7h.8v.8h-.8zM105.5 514.3h.8v.8h-.8zM99.2 513.2h.8v.8h-.8zM97.1 512.2h.8v.8h-.8zM102.5 514.2h.8v.8h-.8zM95.7 512.5h.8v.8h-.8zM107.4 509.2h.8v.8h-.8zM91.4 512.6h.8v.8h-.8zM92.3 525.1h.8v.8h-.8zM101.1 514.9h.8v.8h-.8zM99.8 521.9h.8v.8h-.8zM94.6 492.9h.8v.8h-.8zM85.7 531.5h.8v.8h-.8zM74.3 523.7h.8v.8h-.8zM110.7 496.0h.8v.8h-.8zM83.1 495.0h.8v.8h-.8zM90.1 485.2h.8v.8h-.8zM103.9 493.0h.8v.8h-.8zM78.0 522.2h.8v.8h-.8zM90.3 498.0h.8v.8h-.8zM124.6 496.5h.8v.8h-.8zM83.9 532.3h.8v.8h-.8zM132.4 523.3h.8v.8h-.8zM85.9 514.0h.8v.8h-.8zM113.4 483.7h.8v.8h-.8zM112.0 536.5h.8v.8h-.8zM106.5 513.8h.8v.8h-.8zM88.7 512.6h.8v.8h-.8zM71.8 522.0h.8v.8h-.8zM97.1 539.0h.8v.8h-.8zM81.1 517.3h.8v.8h-.8zM54.9 493.4h.8v.8h-.8zM115.4 480.7h.8v.8h-.8zM103.1 477.6h.8v.8h-.8zM85.7 540.1h.8v.8h-.8zM69.4 533.5h.8v.8h-.8zM58.3 506.9h.8v.8h-.8zM119.9 527.4h.8v.8h-.8zM85.1 507.5h.8v.8h-.8zM111.0 521.3h.8v.8h-.8zM113.8 506.5h.8v.8h-.8zM103.9 508.9h.8v.8h-.8zM99.4 494.7h.8v.8h-.8zM106.2 497.7h.8v.8h-.8zM104.7 491.9h.8v.8h-.8zM102.6 481.0h.8v.8h-.8zM103.2 507.0h.8v.8h-.8zM99.4 496.6h.8v.8h-.8zM106.8 506.5h.8v.8h-.8zM108.6 491.6h.8v.8h-.8zM102.2 510.3h.8v.8h-.8zM102.0 499.9h.8v.8h-.8zM100.5 493.2h.8v.8h-.8zM91.9 494.0h.8v.8h-.8zM95.0 490.7h.8v.8h-.8zM99.9 507.4h.8v.8h-.8zM107.0 500.7h.8v.8h-.8zM101.8 488.0h.8v.8h-.8zM105.9 492.0h.8v.8h-.8zM103.4 504.5h.8v.8h-.8zM103.1 497.6h.8v.8h-.8zM99.9 505.3h.8v.8h-.8zM106.1 502.9h.8v.8h-.8zM110.5 486.3h.8v.8h-.8zM104.0 502.4h.8v.8h-.8zM105.3 500.0h.8v.8h-.8zM105.8 487.0h.8v.8h-.8zM103.6 506.1h.8v.8h-.8zM103.7 496.4h.8v.8h-.8zM107.3 485.4h.8v.8h-.8zM105.5 508.6h.8v.8h-.8zM102.9 492.0h.8v.8h-.8zM106.0 494.6h.8v.8h-.8zM100.6 499.0h.8v.8h-.8zM97.2 502.6h.8v.8h-.8zM99.0 493.9h.8v.8h-.8zM106.8 497.6h.8v.8h-.8zM104.9 507.6h.8v.8h-.8zM110.1 512.6h.8v.8h-.8zM101.7 504.3h.8v.8h-.8zM97.2 503.5h.8v.8h-.8zM109.2 492.7h.8v.8h-.8zM105.8 503.8h.8v.8h-.8zM103.2 493.3h.8v.8h-.8zM110.0 488.5h.8v.8h-.8zM104.6 504.6h.8v.8h-.8zM104.8 509.0h.8v.8h-.8zM109.9 501.1h.8v.8h-.8zM111.1 503.1h.8v.8h-.8zM98.9 495.5h.8v.8h-.8zM105.0 499.2h.8v.8h-.8zM97.0 514.1h.8v.8h-.8zM97.6 489.8h.8v.8h-.8zM105.7 499.2h.8v.8h-.8zM110.1 499.4h.8v.8h-.8zM105.4 503.0h.8v.8h-.8zM100.9 488.6h.8v.8h-.8zM102.0 505.1h.8v.8h-.8zM102.8 506.7h.8v.8h-.8zM101.7 503.2h.8v.8h-.8zM104.0 503.8h.8v.8h-.8zM104.0 499.3h.8v.8h-.8zM102.0 506.7h.8v.8h-.8zM103.8 501.4h.8v.8h-.8zM106.6 491.5h.8v.8h-.8zM100.6 497.6h.8v.8h-.8zM109.1 490.4h.8v.8h-.8zM99.8 490.8h.8v.8h-.8zM102.3 490.3h.8v.8h-.8zM100.6 501.6h.8v.8h-.8zM99.5 497.8h.8v.8h-.8zM99.1 496.4h.8v.8h-.8zM106.0 483.6h.8v.8h-.8zM104.1 499.5h.8v.8h-.8zM103.7 499.7h.8v.8h-.8zM105.6 488.7h.8v.8h-.8zM103.4 502.4h.8v.8h-.8zM109.2 488.2h.8v.8h-.8zM101.5 488.2h.8v.8h-.8zM103.8 490.3h.8v.8h-.8zM99.9 503.3h.8v.8h-.8zM113.0 483.3h.8v.8h-.8zM110.6 491.4h.8v.8h-.8zM106.7 500.4h.8v.8h-.8zM108.9 496.4h.8v.8h-.8zM100.6 497.4h.8v.8h-.8zM107.1 491.6h.8v.8h-.8zM105.6 497.8h.8v.8h-.8zM104.7 498.0h.8v.8h-.8zM106.4 503.6h.8v.8h-.8zM102.8 495.4h.8v.8h-.8zM95.2 491.7h.8v.8h-.8zM97.8 502.7h.8v.8h-.8zM99.6 493.0h.8v.8h-.8zM106.1 504.9h.8v.8h-.8zM108.9 491.9h.8v.8h-.8zM104.9 505.5h.8v.8h-.8zM100.5 496.3h.8v.8h-.8zM99.0 493.4h.8v.8h-.8zM106.8 498.6h.8v.8h-.8zM102.5 493.9h.8v.8h-.8zM110.1 503.2h.8v.8h-.8zM98.9 513.2h.8v.8h-.8zM102.3 496.8h.8v.8h-.8zM102.0 493.9h.8v.8h-.8zM106.5 487.7h.8v.8h-.8zM104.1 495.6h.8v.8h-.8zM111.0 500.7h.8v.8h-.8zM105.7 501.6h.8v.8h-.8zM106.3 498.8h.8v.8h-.8zM94.1 500.9h.8v.8h-.8z" fill="#000"/>
<path d="M78.4 493.7h.8v.8h-.8zM86.5 480.1h.8v.8h-.8zM106.8 492.2h.8v.8h-.8zM90.7 506.5h.8v.8h-.8zM87.7 477.7h.8v.8h-.8zM79.2 486.0h.8v.8h-.8zM101.6 502.4h.8v.8h-.8zM101.2 504.6h.8v.8h-.8zM107.3 496.9h.8v.8h-.8zM106.3 498.0h.8v.8h-.8zM85.8 503.2h.8v.8h-.8zM99.9 480.8h.8v.8h-.8zM107.6 497.2h.8v.8h-.8zM80.2 490.6h.8v.8h-.8zM108.8 490.0h.8v.8h-.8zM103.6 500.4h.8v.8h-.8zM102.0 501.5h.8v.8h-.8zM83.6 482.3h.8v.8h-.8zM88.8 479.3h.8v.8h-.8zM100.3 504.8h.8v.8h-.8zM81.7 499.5h.8v.8h-.8zM81.3 483.3h.8v.8h-.8zM83.6 499.7h.8v.8h-.8zM90.6 475.6h.8v.8h-.8zM107.7 489.1h.8v.8h-.8zM84.5 502.1h.8v.8h-.8zM87.5 477.5h.8v.8h-.8zM103.1 500.0h.8v.8h-.8zM83.7 502.1h.8v.8h-.8zM98.3 478.1h.8v.8h-.8zM108.1 494.0h.8v.8h-.8zM80.0 497.4h.8v.8h-.8zM95.4 505.1h.8v.8h-.8zM81.4 501.1h.8v.8h-.8zM104.5 500.0h.8v.8h-.8zM99.5 504.7h.8v.8h-.8zM106.1 494.4h.8v.8h-.8zM84.8 503.5h.8v.8h-.8zM106.4 495.8h.8v.8h-.8zM96.5 504.3h.8v.8h-.8zM77.3 493.7h.8v.8h-.8zM77.3 493.2h.8v.8h-.8zM100.8 505.0h.8v.8h-.8zM84.3 501.2h.8v.8h-.8zM92.9 475.6h.8v.8h-.8zM106.4 491.9h.8v.8h-.8zM94.8 477.7h.8v.8h-.8zM93.7 503.8h.8v.8h-.8zM107.2 494.9h.8v.8h-.8zM108.9 489.7h.8v.8h-.8zM80.4 491.0h.8v.8h-.8zM86.3 505.0h.8v.8h-.8zM100.3 478.5h.8v.8h-.8zM94.8 505.5h.8v.8h-.8zM78.5 493.4h.8v.8h-.8zM91.7 507.1h.8v.8h-.8zM103.3 483.2h.8v.8h-.8zM89.0 506.3h.8v.8h-.8zM90.2 506.9h.8v.8h-.8zM78.1 489.9h.8v.8h-.8zM89.3 478.6h.8v.8h-.8zM90.1 504.4h.8v.8h-.8zM86.9 477.7h.8v.8h-.8zM103.6 502.8h.8v.8h-.8zM81.3 497.7h.8v.8h-.8zM78.4 497.6h.8v.8h-.8zM79.3 485.9h.8v.8h-.8zM106.9 483.7h.8v.8h-.8zM93.9 477.4h.8v.8h-.8zM79.7 483.0h.8v.8h-.8zM96.5 477.2h.8v.8h-.8zM85.1 502.6h.8v.8h-.8zM91.7 476.9h.8v.8h-.8zM107.9 492.9h.8v.8h-.8zM105.6 482.6h.8v.8h-.8zM105.5 481.9h.8v.8h-.8zM78.1 488.0h.8v.8h-.8zM83.7 500.1h.8v.8h-.8zM84.8 502.1h.8v.8h-.8zM106.6 485.3h.8v.8h-.8zM78.8 487.5h.8v.8h-.8zM103.2 501.4h.8v.8h-.8zM88.8 478.1h.8v.8h-.8zM93.4 505.2h.8v.8h-.8zM86.4 504.6h.8v.8h-.8zM101.1 501.3h.8v.8h-.8zM87.3 505.1h.8v.8h-.8zM93.9 476.5h.8v.8h-.8zM105.6 485.8h.8v.8h-.8zM107.0 493.9h.8v.8h-.8zM80.7 495.8h.8v.8h-.8zM86.2 479.4h.8v.8h-.8zM94.0 504.9h.8v.8h-.8zM104.8 487.0h.8v.8h-.8zM84.4 501.7h.8v.8h-.8zM97.2 504.7h.8v.8h-.8zM95.9 506.7h.8v.8h-.8zM78.1 491.2h.8v.8h-.8zM100.4 503.3h.8v.8h-.8zM80.9 481.7h.8v.8h-.8zM93.0 505.4h.8v.8h-.8zM102.4 479.1h.8v.8h-.8zM95.0 505.5h.8v.8h-.8zM94.0 477.5h.8v.8h-.8zM86.1 478.2h.8v.8h-.8zM107.2 488.8h.8v.8h-.8zM87.2 478.9h.8v.8h-.8zM91.5 477.8h.8v.8h-.8zM79.2 491.3h.8v.8h-.8zM88.4 503.4h.8v.8h-.8zM95.2 505.5h.8v.8h-.8zM92.9 504.0h.8v.8h-.8zM97.5 478.6h.8v.8h-.8zM106.4 485.6h.8v.8h-.8zM81.1 501.3h.8v.8h-.8zM103.9 483.1h.8v.8h-.8zM103.4 501.8h.8v.8h-.8zM101.0 479.1h.8v.8h-.8zM96.0 477.7h.8v.8h-.8zM83.1 482.2h.8v.8h-.8zM81.5 498.9h.8v.8h-.8zM82.6 500.5h.8v.8h-.8zM97.6 479.0h.8v.8h-.8zM96.7 504.2h.8v.8h-.8zM107.1 488.7h.8v.8h-.8zM107.6 496.3h.8v.8h-.8zM103.8 480.3h.8v.8h-.8zM83.5 503.0h.8v.8h-.8zM88.6 503.5h.8v.8h-.8zM103.2 479.8h.8v.8h-.8zM96.8 506.4h.8v.8h-.8zM106.4 493.4h.8v.8h-.8zM106.1 492.4h.8v.8h-.8zM100.8 504.1h.8v.8h-.8zM89.2 503.9h.8v.8h-.8zM98.5 503.7h.8v.8h-.8zM102.5 480.2h.8v.8h-.8zM104.9 500.2h.8v.8h-.8zM79.3 488.1h.8v.8h-.8zM78.4 488.8h.8v.8h-.8zM97.5 477.7h.8v.8h-.8zM83.7 480.7h.8v.8h-.8zM83.8 481.0h.8v.8h-.8zM80.7 498.6h.8v.8h-.8zM90.1 478.1h.8v.8h-.8zM105.7 484.8h.8v.8h-.8zM102.2 479.5h.8v.8h-.8zM107.3 487.3h.8v.8h-.8zM80.5 497.5h.8v.8h-.8zM81.2 481.8h.8v.8h-.8zM99.9 480.3h.8v.8h-.8zM104.9 496.2h.8v.8h-.8zM104.0 497.7h.8v.8h-.8zM106.4 492.0h.8v.8h-.8zM104.3 501.0h.8v.8h-.8zM81.1 480.7h.8v.8h-.8zM107.7 487.6h.8v.8h-.8zM105.0 487.4h.8v.8h-.8zM95.2 506.9h.8v.8h-.8zM79.9 493.3h.8v.8h-.8zM93.6 477.3h.8v.8h-.8zM79.9 487.7h.8v.8h-.8zM93.7 504.1h.8v.8h-.8zM80.6 481.4h.8v.8h-.8zM108.1 490.0h.8v.8h-.8zM105.6 485.7h.8v.8h-.8zM88.3 506.3h.8v.8h-.8zM81.0 482.6h.8v.8h-.8zM106.3 492.3h.8v.8h-.8zM78.0 493.0h.8v.8h-.8zM99.9 477.8h.8v.8h-.8zM85.6 503.0h.8v.8h-.8zM103.4 479.2h.8v.8h-.8zM79.9 492.5h.8v.8h-.8zM82.8 481.2h.8v.8h-.8zM84.4 501.5h.8v.8h-.8zM82.0 501.0h.8v.8h-.8zM103.1 501.6h.8v.8h-.8zM107.4 486.8h.8v.8h-.8zM92.8 505.3h.8v.8h-.8zM105.1 500.3h.8v.8h-.8zM84.1 481.6h.8v.8h-.8zM79.1 487.0h.8v.8h-.8zM80.8 484.9h.8v.8h-.8zM88.0 504.1h.8v.8h-.8zM106.7 491.1h.8v.8h-.8zM78.9 491.1h.8v.8h-.8zM99.5 503.6h.8v.8h-.8zM96.8 504.4h.8v.8h-.8zM83.8 501.5h.8v.8h-.8zM105.5 486.2h.8v.8h-.8zM85.7 504.2h.8v.8h-.8zM81.6 499.9h.8v.8h-.8zM85.3 481.1h.8v.8h-.8zM86.9 480.0h.8v.8h-.8zM93.0 506.6h.8v.8h-.8zM107.8 490.3h.8v.8h-.8zM99.6 503.7h.8v.8h-.8zM89.9 506.4h.8v.8h-.8zM94.4 504.4h.8v.8h-.8zM83.5 480.1h.8v.8h-.8zM81.0 483.7h.8v.8h-.8zM106.6 487.7h.8v.8h-.8zM105.8 486.0h.8v.8h-.8zM79.6 494.3h.8v.8h-.8zM89.7 476.5h.8v.8h-.8zM94.0 505.6h.8v.8h-.8zM90.9 477.2h.8v.8h-.8zM85.3 478.8h.8v.8h-.8zM89.9 477.9h.8v.8h-.8zM88.6 503.1h.8v.8h-.8zM104.8 481.6h.8v.8h-.8zM80.7 501.4h.8v.8h-.8zM103.7 483.8h.8v.8h-.8zM100.2 479.3h.8v.8h-.8zM87.7 503.6h.8v.8h-.8zM82.1 497.8h.8v.8h-.8zM105.3 495.3h.8v.8h-.8zM88.4 503.5h.8v.8h-.8zM104.1 502.0h.8v.8h-.8zM82.7 501.1h.8v.8h-.8zM80.3 481.9h.8v.8h-.8zM101.1 501.9h.8v.8h-.8zM103.0 479.2h.8v.8h-.8zM106.1 485.3h.8v.8h-.8zM84.2 501.1h.8v.8h-.8zM105.8 483.2h.8v.8h-.8zM78.5 486.4h.8v.8h-.8zM92.0 505.6h.8v.8h-.8zM103.7 484.2h.8v.8h-.8zM83.3 482.5h.8v.8h-.8zM101.1 478.2h.8v.8h-.8zM84.3 480.3h.8v.8h-.8zM107.1 493.2h.8v.8h-.8zM84.2 502.1h.8v.8h-.8zM106.9 498.7h.8v.8h-.8zM78.7 489.3h.8v.8h-.8zM101.6 478.2h.8v.8h-.8zM79.3 486.9h.8v.8h-.8zM100.9 480.0h.8v.8h-.8zM103.2 483.9h.8v.8h-.8zM97.1 477.6h.8v.8h-.8zM81.5 480.2h.8v.8h-.8zM95.6 505.0h.8v.8h-.8zM97.6 476.9h.8v.8h-.8zM78.0 489.0h.8v.8h-.8zM86.1 477.4h.8v.8h-.8zM84.9 480.1h.8v.8h-.8zM90.1 503.7h.8v.8h-.8zM102.0 500.1h.8v.8h-.8zM105.8 489.3h.8v.8h-.8zM82.6 483.5h.8v.8h-.8zM107.0 488.3h.8v.8h-.8zM99.8 505.1h.8v.8h-.8zM103.2 479.0h.8v.8h-.8zM95.3 505.0h.8v.8h-.8zM85.8 479.9h.8v.8h-.8zM79.4 485.0h.8v.8h-.8zM93.1 475.9h.8v.8h-.8zM93.1 477.8h.8v.8h-.8z" fill="#000"/>
<path d="M93.10,478.00 C96.95,477.92 101.22,479.70 103.50,481.50 C105.78,483.30 106.72,485.85 106.80,488.80 C106.88,491.75 105.47,495.87 104.00,499.20 C102.53,502.53 100.40,507.58 98.00,508.80 C95.60,510.02 93.77,509.73 89.60,506.50 C85.43,503.27 74.53,493.48 73.00,489.40 C71.47,485.32 77.05,483.90 80.40,482.00 C83.75,480.10 89.25,478.08 93.10,478.00Z" fill="#fff"/>
<path d="M93.10,478.00 C96.95,477.92 101.22,479.70 103.50,481.50 C105.78,483.30 106.72,485.85 106.80,488.80 C106.88,491.75 105.47,495.87 104.00,499.20 C102.53,502.53 100.40,507.58 98.00,508.80 C95.60,510.02 93.77,509.73 89.60,506.50 C85.43,503.27 74.53,493.48 73.00,489.40 C71.47,485.32 77.05,483.90 80.40,482.00 C83.75,480.10 89.25,478.08 93.10,478.00Z" fill="none" stroke="#000" stroke-width="0.85"/>
<path d="M93.10,478.36 C96.77,478.26 100.88,480.14 103.08,481.89 C105.28,483.65 106.21,486.04 106.30,488.89 C106.40,491.74 105.11,495.86 103.67,498.96 C102.22,502.07 99.95,506.39 97.63,507.51 C95.32,508.64 93.60,508.70 89.78,505.70 C85.96,502.71 76.16,493.43 74.71,489.56 C73.26,485.69 78.00,484.36 81.07,482.49 C84.13,480.63 89.43,478.46 93.10,478.36Z" fill="none" stroke="#000" stroke-width="0.85"/>
<path d="M93.09,478.72 C96.58,478.60 100.54,480.57 102.66,482.28 C104.78,483.99 105.69,486.24 105.81,488.98 C105.92,491.72 104.76,495.85 103.34,498.72 C101.91,501.60 99.49,505.19 97.26,506.22 C95.03,507.25 93.43,507.66 89.96,504.91 C86.48,502.16 77.79,493.38 76.42,489.72 C75.05,486.07 78.96,484.82 81.74,482.99 C84.52,481.15 89.61,478.84 93.09,478.72Z" fill="none" stroke="#000" stroke-width="0.85"/>
<path d="M93.09,479.08 C96.40,478.95 100.21,481.01 102.24,482.67 C104.28,484.34 105.18,486.43 105.31,489.07 C105.44,491.71 104.41,495.84 103.00,498.48 C101.60,501.13 99.04,504.00 96.90,504.93 C94.75,505.87 93.26,506.62 90.13,504.11 C87.01,501.61 79.42,493.33 78.13,489.89 C76.84,486.45 79.91,485.28 82.41,483.48 C84.90,481.68 89.79,479.22 93.09,479.08Z" fill="none" stroke="#000" stroke-width="0.85"/>
<path d="M93.09,479.44 C96.21,479.29 99.87,481.44 101.83,483.06 C103.78,484.68 104.67,486.63 104.81,489.16 C104.95,491.69 104.05,495.83 102.67,498.25 C101.29,500.66 98.59,502.80 96.53,503.65 C94.47,504.49 93.09,505.58 90.31,503.32 C87.53,501.05 81.05,493.27 79.84,490.05 C78.64,486.83 80.87,485.74 83.08,483.98 C85.29,482.21 89.96,479.59 93.09,479.44Z" fill="none" stroke="#000" stroke-width="0.85"/>
<path d="M93.09,479.80 C96.03,479.63 99.54,481.88 101.41,483.45 C103.28,485.03 104.16,486.82 104.32,489.25 C104.47,491.68 103.70,495.82 102.34,498.01 C100.98,500.19 98.13,501.61 96.16,502.36 C94.18,503.11 92.92,504.55 90.49,502.52 C88.06,500.50 82.68,493.22 81.55,490.21 C80.43,487.20 81.82,486.21 83.75,484.47 C85.67,482.74 90.14,479.97 93.09,479.80Z" fill="#000"/>
<path d="M78.10,513.20 C81.35,512.53 84.42,513.98 86.50,515.50 C88.58,517.02 90.27,519.55 90.60,522.30 C90.93,525.05 88.93,529.30 88.50,532.00 C88.07,534.70 87.75,536.50 88.00,538.50 C88.25,540.50 93.58,543.08 90.00,544.00 C86.42,544.92 70.13,544.92 66.50,544.00 C62.87,543.08 68.25,540.83 68.20,538.50 C68.15,536.17 66.40,533.17 66.20,530.00 C66.00,526.83 65.02,522.30 67.00,519.50 C68.98,516.70 74.85,513.87 78.10,513.20Z" fill="#fff"/>
<path d="M78.10,513.20 C81.35,512.53 84.42,513.98 86.50,515.50 C88.58,517.02 90.27,519.55 90.60,522.30 C90.93,525.05 88.93,529.30 88.50,532.00 C88.07,534.70 87.75,536.50 88.00,538.50 C88.25,540.50 93.58,543.08 90.00,544.00 C86.42,544.92 70.13,544.92 66.50,544.00 C62.87,543.08 68.25,540.83 68.20,538.50 C68.15,536.17 66.40,533.17 66.20,530.00 C66.00,526.83 65.02,522.30 67.00,519.50 C68.98,516.70 74.85,513.87 78.10,513.20Z" fill="none" stroke="#000" stroke-width="0.85"/>
<path d="M78.09,514.54 C81.10,513.92 83.94,515.26 85.86,516.66 C87.79,518.07 89.35,520.41 89.66,522.95 C89.96,525.50 88.11,529.43 87.71,531.92 C87.31,534.42 87.02,536.09 87.25,537.94 C87.48,539.79 92.41,542.18 89.10,543.02 C85.79,543.87 70.72,543.87 67.36,543.02 C64.00,542.18 68.98,540.10 68.94,537.94 C68.89,535.78 67.27,533.00 67.09,530.08 C66.90,527.15 65.99,522.95 67.83,520.36 C69.66,517.77 75.09,515.15 78.09,514.54Z" fill="none" stroke="#000" stroke-width="0.85"/>
<path d="M78.08,515.87 C80.85,515.30 83.45,516.54 85.22,517.83 C87.00,519.11 88.43,521.27 88.71,523.61 C88.99,525.94 87.29,529.56 86.92,531.85 C86.56,534.14 86.29,535.67 86.50,537.38 C86.71,539.08 91.25,541.27 88.20,542.05 C85.15,542.83 71.31,542.83 68.22,542.05 C65.14,541.27 69.71,539.36 69.67,537.38 C69.63,535.39 68.14,532.84 67.97,530.15 C67.80,527.46 66.96,523.61 68.65,521.23 C70.34,518.85 75.32,516.44 78.08,515.87Z" fill="none" stroke="#000" stroke-width="0.85"/>
<path d="M78.08,517.21 C80.60,516.69 82.97,517.81 84.59,518.99 C86.20,520.16 87.51,522.13 87.76,524.26 C88.02,526.39 86.47,529.68 86.14,531.78 C85.80,533.87 85.56,535.26 85.75,536.81 C85.94,538.36 90.08,540.36 87.30,541.08 C84.52,541.79 71.90,541.79 69.09,541.08 C66.27,540.36 70.44,538.62 70.41,536.81 C70.37,535.00 69.01,532.68 68.86,530.22 C68.70,527.77 67.94,524.26 69.47,522.09 C71.01,519.92 75.56,517.72 78.08,517.21Z" fill="none" stroke="#000" stroke-width="0.85"/>
<path d="M78.07,518.54 C80.34,518.07 82.49,519.09 83.95,520.15 C85.41,521.21 86.59,522.98 86.82,524.91 C87.05,526.84 85.65,529.81 85.35,531.70 C85.05,533.59 84.83,534.85 85.00,536.25 C85.17,537.65 88.91,539.46 86.40,540.10 C83.89,540.74 72.49,540.74 69.95,540.10 C67.41,539.46 71.17,537.88 71.14,536.25 C71.11,534.62 69.88,532.52 69.74,530.30 C69.60,528.08 68.91,524.91 70.30,522.95 C71.69,520.99 75.79,519.01 78.07,518.54Z" fill="#000"/>
<circle cx="78.00" cy="524.30" r="0.8" fill="#fff"/>
<circle cx="78.50" cy="529.50" r="0.4" fill="#fff"/>
<ellipse cx="93.50" cy="491.00" rx="3.00" ry="3.00" fill="none" stroke="#fff" stroke-width="0.45" opacity="0.3"/>
<ellipse cx="93.50" cy="491.00" rx="6.00" ry="6.00" fill="none" stroke="#fff" stroke-width="0.45" opacity="0.3"/>
<ellipse cx="78.00" cy="527.00" rx="3.00" ry="4.50" fill="none" stroke="#fff" stroke-width="0.45" opacity="0.35"/>
<circle cx="84.4" cy="472.7" r="2.2" fill="#fff" stroke="#000" stroke-width="1.3"/>
<rect x="66.00" y="539.80" width="24.00" height="2.50" fill="#000"/>
</g>
<rect x="52.50" y="458.70" width="82.80" height="82.90" fill="none" stroke="#000" stroke-width="1.4"/>
<line x1="49.10" y1="541.60" x2="52.50" y2="541.60" stroke="#000" stroke-width="1.1"/>
<line x1="52.50" y1="541.60" x2="52.50" y2="545.00" stroke="#000" stroke-width="1.1"/>
<line x1="50.80" y1="535.36" x2="52.50" y2="535.36" stroke="#000" stroke-width="0.6"/>
<line x1="58.74" y1="541.60" x2="58.74" y2="543.30" stroke="#000" stroke-width="0.6"/>
<line x1="50.80" y1="531.71" x2="52.50" y2="531.71" stroke="#000" stroke-width="0.6"/>
<line x1="62.39" y1="541.60" x2="62.39" y2="543.30" stroke="#000" stroke-width="0.6"/>
<line x1="50.80" y1="529.12" x2="52.50" y2="529.12" stroke="#000" stroke-width="0.6"/>
<line x1="64.98" y1="541.60" x2="64.98" y2="543.30" stroke="#000" stroke-width="0.6"/>
<line x1="50.80" y1="527.11" x2="52.50" y2="527.11" stroke="#000" stroke-width="0.6"/>
<line x1="66.99" y1="541.60" x2="66.99" y2="543.30" stroke="#000" stroke-width="0.6"/>
<line x1="50.80" y1="525.47" x2="52.50" y2="525.47" stroke="#000" stroke-width="0.6"/>
<line x1="68.63" y1="541.60" x2="68.63" y2="543.30" stroke="#000" stroke-width="0.6"/>
<line x1="50.80" y1="524.09" x2="52.50" y2="524.09" stroke="#000" stroke-width="0.6"/>
<line x1="70.01" y1="541.60" x2="70.01" y2="543.30" stroke="#000" stroke-width="0.6"/>
<line x1="50.80" y1="522.88" x2="52.50" y2="522.88" stroke="#000" stroke-width="0.6"/>
<line x1="71.22" y1="541.60" x2="71.22" y2="543.30" stroke="#000" stroke-width="0.6"/>
<line x1="50.80" y1="521.82" x2="52.50" y2="521.82" stroke="#000" stroke-width="0.6"/>
<line x1="72.28" y1="541.60" x2="72.28" y2="543.30" stroke="#000" stroke-width="0.6"/>
<text x="52.70" y="556.5" font-size="7.6" text-anchor="middle" fill="#111">10<tspan font-size="4.2" dy="-3.6">0</tspan></text>
<line x1="49.10" y1="520.88" x2="52.50" y2="520.88" stroke="#000" stroke-width="1.1"/>
<line x1="73.23" y1="541.60" x2="73.23" y2="545.00" stroke="#000" stroke-width="1.1"/>
<line x1="50.80" y1="514.64" x2="52.50" y2="514.64" stroke="#000" stroke-width="0.6"/>
<line x1="79.46" y1="541.60" x2="79.46" y2="543.30" stroke="#000" stroke-width="0.6"/>
<line x1="50.80" y1="510.99" x2="52.50" y2="510.99" stroke="#000" stroke-width="0.6"/>
<line x1="83.11" y1="541.60" x2="83.11" y2="543.30" stroke="#000" stroke-width="0.6"/>
<line x1="50.80" y1="508.40" x2="52.50" y2="508.40" stroke="#000" stroke-width="0.6"/>
<line x1="85.70" y1="541.60" x2="85.70" y2="543.30" stroke="#000" stroke-width="0.6"/>
<line x1="50.80" y1="506.39" x2="52.50" y2="506.39" stroke="#000" stroke-width="0.6"/>
<line x1="87.71" y1="541.60" x2="87.71" y2="543.30" stroke="#000" stroke-width="0.6"/>
<line x1="50.80" y1="504.75" x2="52.50" y2="504.75" stroke="#000" stroke-width="0.6"/>
<line x1="89.35" y1="541.60" x2="89.35" y2="543.30" stroke="#000" stroke-width="0.6"/>
<line x1="50.80" y1="503.36" x2="52.50" y2="503.36" stroke="#000" stroke-width="0.6"/>
<line x1="90.74" y1="541.60" x2="90.74" y2="543.30" stroke="#000" stroke-width="0.6"/>
<line x1="50.80" y1="502.16" x2="52.50" y2="502.16" stroke="#000" stroke-width="0.6"/>
<line x1="91.94" y1="541.60" x2="91.94" y2="543.30" stroke="#000" stroke-width="0.6"/>
<line x1="50.80" y1="501.10" x2="52.50" y2="501.10" stroke="#000" stroke-width="0.6"/>
<line x1="93.00" y1="541.60" x2="93.00" y2="543.30" stroke="#000" stroke-width="0.6"/>
<text x="73.43" y="556.5" font-size="7.6" text-anchor="middle" fill="#111">10<tspan font-size="4.2" dy="-3.6">1</tspan></text>
<line x1="49.10" y1="500.15" x2="52.50" y2="500.15" stroke="#000" stroke-width="1.1"/>
<line x1="93.95" y1="541.60" x2="93.95" y2="545.00" stroke="#000" stroke-width="1.1"/>
<line x1="50.80" y1="493.91" x2="52.50" y2="493.91" stroke="#000" stroke-width="0.6"/>
<line x1="100.19" y1="541.60" x2="100.19" y2="543.30" stroke="#000" stroke-width="0.6"/>
<line x1="50.80" y1="490.26" x2="52.50" y2="490.26" stroke="#000" stroke-width="0.6"/>
<line x1="103.84" y1="541.60" x2="103.84" y2="543.30" stroke="#000" stroke-width="0.6"/>
<line x1="50.80" y1="487.67" x2="52.50" y2="487.67" stroke="#000" stroke-width="0.6"/>
<line x1="106.43" y1="541.60" x2="106.43" y2="543.30" stroke="#000" stroke-width="0.6"/>
<line x1="50.80" y1="485.66" x2="52.50" y2="485.66" stroke="#000" stroke-width="0.6"/>
<line x1="108.44" y1="541.60" x2="108.44" y2="543.30" stroke="#000" stroke-width="0.6"/>
<line x1="50.80" y1="484.02" x2="52.50" y2="484.02" stroke="#000" stroke-width="0.6"/>
<line x1="110.08" y1="541.60" x2="110.08" y2="543.30" stroke="#000" stroke-width="0.6"/>
<line x1="50.80" y1="482.64" x2="52.50" y2="482.64" stroke="#000" stroke-width="0.6"/>
<line x1="111.46" y1="541.60" x2="111.46" y2="543.30" stroke="#000" stroke-width="0.6"/>
<line x1="50.80" y1="481.43" x2="52.50" y2="481.43" stroke="#000" stroke-width="0.6"/>
<line x1="112.67" y1="541.60" x2="112.67" y2="543.30" stroke="#000" stroke-width="0.6"/>
<line x1="50.80" y1="480.37" x2="52.50" y2="480.37" stroke="#000" stroke-width="0.6"/>
<line x1="113.73" y1="541.60" x2="113.73" y2="543.30" stroke="#000" stroke-width="0.6"/>
<text x="94.15" y="556.5" font-size="7.6" text-anchor="middle" fill="#111">10<tspan font-size="4.2" dy="-3.6">2</tspan></text>
<line x1="49.10" y1="479.43" x2="52.50" y2="479.43" stroke="#000" stroke-width="1.1"/>
<line x1="114.68" y1="541.60" x2="114.68" y2="545.00" stroke="#000" stroke-width="1.1"/>
<line x1="50.80" y1="473.19" x2="52.50" y2="473.19" stroke="#000" stroke-width="0.6"/>
<line x1="120.91" y1="541.60" x2="120.91" y2="543.30" stroke="#000" stroke-width="0.6"/>
<line x1="50.80" y1="469.54" x2="52.50" y2="469.54" stroke="#000" stroke-width="0.6"/>
<line x1="124.56" y1="541.60" x2="124.56" y2="543.30" stroke="#000" stroke-width="0.6"/>
<line x1="50.80" y1="466.95" x2="52.50" y2="466.95" stroke="#000" stroke-width="0.6"/>
<line x1="127.15" y1="541.60" x2="127.15" y2="543.30" stroke="#000" stroke-width="0.6"/>
<line x1="50.80" y1="464.94" x2="52.50" y2="464.94" stroke="#000" stroke-width="0.6"/>
<line x1="129.16" y1="541.60" x2="129.16" y2="543.30" stroke="#000" stroke-width="0.6"/>
<line x1="50.80" y1="463.30" x2="52.50" y2="463.30" stroke="#000" stroke-width="0.6"/>
<line x1="130.80" y1="541.60" x2="130.80" y2="543.30" stroke="#000" stroke-width="0.6"/>
<line x1="50.80" y1="461.91" x2="52.50" y2="461.91" stroke="#000" stroke-width="0.6"/>
<line x1="132.19" y1="541.60" x2="132.19" y2="543.30" stroke="#000" stroke-width="0.6"/>
<line x1="50.80" y1="460.71" x2="52.50" y2="460.71" stroke="#000" stroke-width="0.6"/>
<line x1="133.39" y1="541.60" x2="133.39" y2="543.30" stroke="#000" stroke-width="0.6"/>
<line x1="50.80" y1="459.65" x2="52.50" y2="459.65" stroke="#000" stroke-width="0.6"/>
<line x1="134.45" y1="541.60" x2="134.45" y2="543.30" stroke="#000" stroke-width="0.6"/>
<text x="114.88" y="556.5" font-size="7.6" text-anchor="middle" fill="#111">10<tspan font-size="4.2" dy="-3.6">3</tspan></text>
<line x1="49.10" y1="458.70" x2="52.50" y2="458.70" stroke="#000" stroke-width="1.1"/>
<line x1="135.40" y1="541.60" x2="135.40" y2="545.00" stroke="#000" stroke-width="1.1"/>
<text x="135.60" y="556.5" font-size="7.6" text-anchor="middle" fill="#111">10<tspan font-size="4.2" dy="-3.6">4</tspan></text>
<text x="134.30" y="466.20" font-size="7.4" text-anchor="end" fill="#111" stroke-width="0">2.6%</text>
<text x="159.90" y="452.60" font-size="10" textLength="62.0" lengthAdjust="spacingAndGlyphs" fill="#111">Healthy ctrl. 2</text>
<line x1="149.50" y1="481.70" x2="232.30" y2="481.70" stroke="#000" stroke-width="1.3"/>
<polyline points="149.50,508.4 181.50,508.4 192.00,521.2 232.30,521.2" fill="none" stroke="#000" stroke-width="1.3"/>
<clipPath id="cp1"><rect x="149.5" y="458.7" width="82.8" height="82.90000000000003"/></clipPath>
<g clip-path="url(#cp1)">
<path d="M189.2 478.6h.8v.8h-.8zM177.0 471.0h.8v.8h-.8zM186.0 480.1h.8v.8h-.8zM186.4 470.1h.8v.8h-.8zM177.1 473.9h.8v.8h-.8zM190.7 474.1h.8v.8h-.8zM180.4 473.3h.8v.8h-.8zM184.6 471.6h.8v.8h-.8zM183.3 475.0h.8v.8h-.8zM196.1 473.9h.8v.8h-.8zM190.8 470.6h.8v.8h-.8zM190.0 474.7h.8v.8h-.8zM179.0 474.0h.8v.8h-.8zM190.3 473.0h.8v.8h-.8zM191.3 479.3h.8v.8h-.8zM196.0 479.7h.8v.8h-.8zM173.3 475.3h.8v.8h-.8zM177.9 477.4h.8v.8h-.8zM183.8 474.9h.8v.8h-.8zM186.9 472.1h.8v.8h-.8zM184.0 471.6h.8v.8h-.8zM199.6 472.6h.8v.8h-.8zM183.4 468.1h.8v.8h-.8zM171.7 471.2h.8v.8h-.8zM189.5 476.8h.8v.8h-.8zM185.5 471.9h.8v.8h-.8zM197.8 470.6h.8v.8h-.8zM176.6 475.8h.8v.8h-.8zM175.5 475.0h.8v.8h-.8zM190.9 473.9h.8v.8h-.8zM186.5 474.3h.8v.8h-.8zM178.0 463.2h.8v.8h-.8zM173.7 474.1h.8v.8h-.8zM170.4 472.2h.8v.8h-.8zM184.9 478.7h.8v.8h-.8zM172.5 472.3h.8v.8h-.8zM185.1 475.9h.8v.8h-.8zM172.4 480.5h.8v.8h-.8zM176.8 477.9h.8v.8h-.8zM181.7 475.5h.8v.8h-.8zM196.4 476.6h.8v.8h-.8zM184.3 470.7h.8v.8h-.8zM178.1 469.2h.8v.8h-.8zM199.2 468.8h.8v.8h-.8zM162.9 479.8h.8v.8h-.8zM193.4 472.9h.8v.8h-.8zM189.9 471.3h.8v.8h-.8zM178.7 475.9h.8v.8h-.8zM186.4 472.5h.8v.8h-.8zM196.1 476.7h.8v.8h-.8zM184.4 470.0h.8v.8h-.8zM184.4 473.0h.8v.8h-.8zM182.7 476.9h.8v.8h-.8zM178.7 475.0h.8v.8h-.8zM189.6 475.3h.8v.8h-.8zM201.5 468.1h.8v.8h-.8zM182.8 470.0h.8v.8h-.8zM182.7 482.8h.8v.8h-.8zM170.2 473.1h.8v.8h-.8zM188.4 474.4h.8v.8h-.8zM190.5 468.7h.8v.8h-.8zM191.0 470.8h.8v.8h-.8zM173.6 476.1h.8v.8h-.8zM187.0 471.6h.8v.8h-.8zM176.7 473.4h.8v.8h-.8zM183.1 473.5h.8v.8h-.8zM175.2 466.0h.8v.8h-.8zM193.6 474.7h.8v.8h-.8zM173.3 468.6h.8v.8h-.8zM177.7 472.6h.8v.8h-.8zM166.3 478.9h.8v.8h-.8zM186.6 473.0h.8v.8h-.8zM185.9 474.9h.8v.8h-.8zM191.6 474.6h.8v.8h-.8zM193.2 479.4h.8v.8h-.8zM180.7 472.5h.8v.8h-.8zM176.1 473.3h.8v.8h-.8zM177.4 474.1h.8v.8h-.8zM185.6 475.9h.8v.8h-.8zM173.9 477.8h.8v.8h-.8zM180.7 473.7h.8v.8h-.8zM179.0 467.1h.8v.8h-.8zM185.1 467.9h.8v.8h-.8zM191.9 474.2h.8v.8h-.8zM195.5 476.3h.8v.8h-.8zM188.7 478.9h.8v.8h-.8zM182.8 479.4h.8v.8h-.8zM182.1 474.9h.8v.8h-.8zM177.7 475.9h.8v.8h-.8zM188.4 472.3h.8v.8h-.8zM172.9 473.9h.8v.8h-.8zM186.5 473.5h.8v.8h-.8zM175.3 471.5h.8v.8h-.8zM181.0 464.9h.8v.8h-.8zM178.4 479.0h.8v.8h-.8zM172.9 473.3h.8v.8h-.8zM196.5 476.5h.8v.8h-.8zM190.4 473.5h.8v.8h-.8zM172.5 484.1h.8v.8h-.8zM185.5 474.9h.8v.8h-.8zM196.1 476.9h.8v.8h-.8zM183.5 470.2h.8v.8h-.8zM181.8 473.5h.8v.8h-.8zM177.7 471.0h.8v.8h-.8zM175.1 473.6h.8v.8h-.8zM178.3 475.5h.8v.8h-.8zM191.1 475.1h.8v.8h-.8zM183.2 479.5h.8v.8h-.8zM188.3 468.9h.8v.8h-.8zM177.3 474.7h.8v.8h-.8zM176.1 476.7h.8v.8h-.8zM169.1 467.4h.8v.8h-.8zM190.9 476.0h.8v.8h-.8zM170.3 474.3h.8v.8h-.8zM193.7 470.1h.8v.8h-.8zM173.6 469.8h.8v.8h-.8zM175.2 468.0h.8v.8h-.8zM179.2 469.0h.8v.8h-.8zM183.5 481.8h.8v.8h-.8zM174.7 477.2h.8v.8h-.8zM192.3 466.0h.8v.8h-.8zM183.9 474.0h.8v.8h-.8zM180.3 476.8h.8v.8h-.8zM179.5 475.2h.8v.8h-.8zM179.9 473.5h.8v.8h-.8zM176.8 481.9h.8v.8h-.8zM182.6 470.1h.8v.8h-.8zM198.5 479.5h.8v.8h-.8zM181.5 471.7h.8v.8h-.8zM177.1 478.3h.8v.8h-.8zM180.4 471.5h.8v.8h-.8zM189.7 473.1h.8v.8h-.8zM182.6 480.8h.8v.8h-.8zM189.9 478.3h.8v.8h-.8zM186.3 478.5h.8v.8h-.8zM181.7 477.4h.8v.8h-.8zM191.4 472.6h.8v.8h-.8zM172.8 475.9h.8v.8h-.8zM182.1 476.1h.8v.8h-.8zM178.2 475.9h.8v.8h-.8zM190.7 482.3h.8v.8h-.8zM197.3 475.4h.8v.8h-.8zM194.5 471.8h.8v.8h-.8zM192.4 474.5h.8v.8h-.8zM193.6 475.2h.8v.8h-.8zM181.2 471.5h.8v.8h-.8zM193.0 474.2h.8v.8h-.8zM188.7 475.7h.8v.8h-.8zM166.7 476.1h.8v.8h-.8zM180.1 475.4h.8v.8h-.8zM186.9 467.7h.8v.8h-.8zM180.5 473.8h.8v.8h-.8zM186.1 477.3h.8v.8h-.8zM177.6 473.2h.8v.8h-.8zM188.0 467.6h.8v.8h-.8zM197.8 470.7h.8v.8h-.8zM193.5 474.5h.8v.8h-.8zM198.0 477.6h.8v.8h-.8zM182.7 468.1h.8v.8h-.8zM184.1 475.1h.8v.8h-.8zM187.4 469.6h.8v.8h-.8zM176.4 471.3h.8v.8h-.8zM185.3 471.0h.8v.8h-.8zM182.1 477.2h.8v.8h-.8zM179.7 478.7h.8v.8h-.8zM185.4 473.1h.8v.8h-.8zM191.7 475.7h.8v.8h-.8zM180.7 472.0h.8v.8h-.8zM182.7 475.2h.8v.8h-.8zM192.1 474.9h.8v.8h-.8zM178.1 469.4h.8v.8h-.8zM185.0 475.4h.8v.8h-.8zM192.0 472.2h.8v.8h-.8zM172.7 476.9h.8v.8h-.8zM181.6 469.8h.8v.8h-.8zM196.2 477.1h.8v.8h-.8zM183.5 475.0h.8v.8h-.8zM177.1 477.5h.8v.8h-.8zM179.6 472.4h.8v.8h-.8zM180.7 470.0h.8v.8h-.8zM191.2 479.8h.8v.8h-.8zM189.1 466.9h.8v.8h-.8zM180.6 471.8h.8v.8h-.8zM186.0 466.6h.8v.8h-.8zM165.9 472.4h.8v.8h-.8zM190.8 473.4h.8v.8h-.8zM200.6 471.1h.8v.8h-.8zM183.3 473.5h.8v.8h-.8zM176.4 477.9h.8v.8h-.8zM172.5 470.3h.8v.8h-.8zM180.1 472.3h.8v.8h-.8zM192.0 472.2h.8v.8h-.8zM187.0 472.4h.8v.8h-.8zM193.2 473.9h.8v.8h-.8zM185.1 468.3h.8v.8h-.8zM188.6 471.8h.8v.8h-.8zM190.1 475.8h.8v.8h-.8zM187.3 477.9h.8v.8h-.8zM186.0 471.0h.8v.8h-.8zM184.3 474.6h.8v.8h-.8zM173.7 476.1h.8v.8h-.8zM194.7 474.9h.8v.8h-.8zM183.9 475.6h.8v.8h-.8zM191.7 472.1h.8v.8h-.8zM190.6 471.4h.8v.8h-.8zM187.2 475.8h.8v.8h-.8zM172.8 476.3h.8v.8h-.8zM184.7 468.2h.8v.8h-.8zM179.4 471.8h.8v.8h-.8zM175.9 475.4h.8v.8h-.8zM176.7 474.2h.8v.8h-.8zM174.4 473.1h.8v.8h-.8zM197.5 475.4h.8v.8h-.8zM170.7 470.7h.8v.8h-.8zM181.9 468.3h.8v.8h-.8zM190.8 473.9h.8v.8h-.8zM182.5 474.2h.8v.8h-.8zM177.6 470.0h.8v.8h-.8zM158.3 468.4h.8v.8h-.8zM184.9 476.4h.8v.8h-.8zM181.5 467.6h.8v.8h-.8zM180.3 474.1h.8v.8h-.8zM172.7 478.8h.8v.8h-.8zM174.1 474.0h.8v.8h-.8zM174.4 477.2h.8v.8h-.8zM173.0 470.9h.8v.8h-.8zM191.8 469.6h.8v.8h-.8zM178.7 475.9h.8v.8h-.8zM185.8 467.9h.8v.8h-.8zM187.8 473.0h.8v.8h-.8zM192.7 468.0h.8v.8h-.8zM189.1 475.4h.8v.8h-.8zM180.0 472.5h.8v.8h-.8zM186.1 471.6h.8v.8h-.8zM180.2 471.3h.8v.8h-.8zM184.1 476.3h.8v.8h-.8zM170.4 474.1h.8v.8h-.8zM185.4 479.2h.8v.8h-.8zM177.1 478.4h.8v.8h-.8zM179.5 475.7h.8v.8h-.8zM184.7 474.9h.8v.8h-.8zM180.3 470.6h.8v.8h-.8zM194.8 479.0h.8v.8h-.8zM182.1 473.4h.8v.8h-.8zM181.3 469.4h.8v.8h-.8zM174.2 475.4h.8v.8h-.8zM190.5 473.2h.8v.8h-.8zM175.5 470.2h.8v.8h-.8zM178.1 476.4h.8v.8h-.8zM183.4 469.0h.8v.8h-.8zM173.7 475.1h.8v.8h-.8zM185.3 480.1h.8v.8h-.8zM194.4 474.6h.8v.8h-.8zM177.6 474.7h.8v.8h-.8zM174.0 471.6h.8v.8h-.8zM190.9 476.1h.8v.8h-.8zM190.3 479.4h.8v.8h-.8zM179.7 476.8h.8v.8h-.8zM183.5 475.1h.8v.8h-.8zM184.8 475.9h.8v.8h-.8zM172.0 469.2h.8v.8h-.8zM183.7 475.7h.8v.8h-.8zM179.1 473.6h.8v.8h-.8zM171.8 477.3h.8v.8h-.8zM186.6 479.2h.8v.8h-.8zM179.7 473.6h.8v.8h-.8zM183.5 478.7h.8v.8h-.8zM187.4 475.3h.8v.8h-.8zM169.9 471.0h.8v.8h-.8zM171.3 473.3h.8v.8h-.8zM189.8 474.2h.8v.8h-.8zM175.7 481.0h.8v.8h-.8zM174.2 478.8h.8v.8h-.8zM192.2 474.9h.8v.8h-.8zM193.7 470.2h.8v.8h-.8zM178.5 472.9h.8v.8h-.8zM185.9 473.4h.8v.8h-.8zM196.5 472.7h.8v.8h-.8zM181.1 469.8h.8v.8h-.8zM186.8 476.7h.8v.8h-.8zM177.0 469.6h.8v.8h-.8zM172.0 478.0h.8v.8h-.8zM189.2 474.9h.8v.8h-.8zM189.0 475.7h.8v.8h-.8zM186.6 468.4h.8v.8h-.8zM187.1 476.4h.8v.8h-.8zM192.0 477.3h.8v.8h-.8zM177.6 474.9h.8v.8h-.8zM171.7 479.0h.8v.8h-.8zM172.1 476.4h.8v.8h-.8zM176.7 471.1h.8v.8h-.8zM175.9 472.8h.8v.8h-.8zM186.0 477.9h.8v.8h-.8zM180.6 477.0h.8v.8h-.8zM189.9 481.1h.8v.8h-.8zM178.2 475.1h.8v.8h-.8zM188.4 474.5h.8v.8h-.8zM187.9 471.7h.8v.8h-.8zM180.1 471.8h.8v.8h-.8zM177.9 470.9h.8v.8h-.8zM168.5 484.2h.8v.8h-.8zM166.4 498.6h.8v.8h-.8zM161.9 485.6h.8v.8h-.8zM167.2 485.5h.8v.8h-.8zM164.5 508.8h.8v.8h-.8zM170.4 490.3h.8v.8h-.8zM165.7 481.6h.8v.8h-.8zM163.8 475.5h.8v.8h-.8zM171.5 489.9h.8v.8h-.8zM173.0 493.9h.8v.8h-.8zM160.0 509.0h.8v.8h-.8zM171.2 501.0h.8v.8h-.8zM166.5 489.5h.8v.8h-.8zM168.1 508.1h.8v.8h-.8zM163.4 485.4h.8v.8h-.8zM171.3 478.3h.8v.8h-.8zM175.6 484.8h.8v.8h-.8zM174.2 492.7h.8v.8h-.8zM167.4 484.8h.8v.8h-.8zM175.4 491.8h.8v.8h-.8zM163.0 499.0h.8v.8h-.8zM168.3 498.0h.8v.8h-.8zM167.2 496.8h.8v.8h-.8zM171.0 494.1h.8v.8h-.8zM161.7 497.8h.8v.8h-.8zM175.1 497.4h.8v.8h-.8zM173.1 500.2h.8v.8h-.8zM167.6 502.3h.8v.8h-.8zM167.9 486.0h.8v.8h-.8zM163.4 502.1h.8v.8h-.8zM172.1 498.9h.8v.8h-.8zM166.5 479.5h.8v.8h-.8zM172.4 493.2h.8v.8h-.8zM166.2 489.1h.8v.8h-.8zM166.4 479.2h.8v.8h-.8zM171.7 499.5h.8v.8h-.8zM172.9 491.1h.8v.8h-.8zM163.4 483.1h.8v.8h-.8zM167.6 507.8h.8v.8h-.8zM173.1 494.2h.8v.8h-.8zM171.1 500.4h.8v.8h-.8zM169.2 495.8h.8v.8h-.8zM169.9 489.3h.8v.8h-.8zM163.9 489.5h.8v.8h-.8zM174.1 481.4h.8v.8h-.8zM167.0 490.6h.8v.8h-.8zM169.1 490.4h.8v.8h-.8zM172.5 491.0h.8v.8h-.8zM168.9 499.6h.8v.8h-.8zM162.7 502.6h.8v.8h-.8zM173.6 483.5h.8v.8h-.8zM168.6 488.1h.8v.8h-.8zM167.3 500.1h.8v.8h-.8zM160.6 500.6h.8v.8h-.8zM170.9 493.9h.8v.8h-.8zM178.8 490.0h.8v.8h-.8zM162.3 497.0h.8v.8h-.8zM169.6 489.0h.8v.8h-.8zM159.5 478.9h.8v.8h-.8zM176.2 482.0h.8v.8h-.8zM175.1 500.4h.8v.8h-.8zM159.2 495.5h.8v.8h-.8zM171.8 502.7h.8v.8h-.8zM174.9 503.9h.8v.8h-.8zM168.8 492.0h.8v.8h-.8zM168.1 498.1h.8v.8h-.8zM164.8 485.5h.8v.8h-.8zM179.2 501.5h.8v.8h-.8zM173.7 492.1h.8v.8h-.8zM165.2 490.6h.8v.8h-.8zM165.4 489.0h.8v.8h-.8zM162.0 498.8h.8v.8h-.8zM170.5 500.2h.8v.8h-.8zM169.3 488.3h.8v.8h-.8zM178.0 501.4h.8v.8h-.8zM171.5 500.9h.8v.8h-.8zM167.6 499.7h.8v.8h-.8zM165.6 501.9h.8v.8h-.8zM173.1 500.6h.8v.8h-.8zM170.7 495.0h.8v.8h-.8zM170.0 499.7h.8v.8h-.8zM167.0 499.6h.8v.8h-.8zM172.4 484.0h.8v.8h-.8zM161.4 496.3h.8v.8h-.8zM167.5 487.6h.8v.8h-.8zM163.4 485.2h.8v.8h-.8zM161.7 491.1h.8v.8h-.8zM162.1 480.4h.8v.8h-.8zM168.4 505.9h.8v.8h-.8zM174.5 492.6h.8v.8h-.8zM170.7 492.0h.8v.8h-.8zM168.4 487.8h.8v.8h-.8zM169.0 485.6h.8v.8h-.8zM165.7 492.7h.8v.8h-.8zM168.6 510.0h.8v.8h-.8zM165.1 485.2h.8v.8h-.8zM171.8 498.4h.8v.8h-.8zM172.0 492.9h.8v.8h-.8zM162.2 491.1h.8v.8h-.8zM163.3 493.3h.8v.8h-.8zM176.7 491.4h.8v.8h-.8zM169.4 502.5h.8v.8h-.8zM163.0 499.9h.8v.8h-.8zM167.4 488.5h.8v.8h-.8zM167.3 486.1h.8v.8h-.8zM172.7 494.6h.8v.8h-.8zM166.9 497.7h.8v.8h-.8zM162.3 472.1h.8v.8h-.8zM174.8 489.3h.8v.8h-.8zM172.3 486.7h.8v.8h-.8zM160.8 485.2h.8v.8h-.8zM173.0 496.8h.8v.8h-.8zM166.1 499.2h.8v.8h-.8zM167.6 495.2h.8v.8h-.8zM164.1 475.9h.8v.8h-.8zM169.3 499.1h.8v.8h-.8zM164.9 506.3h.8v.8h-.8zM170.1 507.6h.8v.8h-.8zM171.8 503.5h.8v.8h-.8zM167.8 482.2h.8v.8h-.8zM178.7 504.1h.8v.8h-.8zM172.0 486.5h.8v.8h-.8zM172.9 485.6h.8v.8h-.8zM171.2 501.0h.8v.8h-.8zM171.2 485.9h.8v.8h-.8zM171.6 495.3h.8v.8h-.8zM171.3 503.8h.8v.8h-.8zM166.0 487.2h.8v.8h-.8zM159.5 505.7h.8v.8h-.8zM165.3 504.0h.8v.8h-.8zM170.5 503.2h.8v.8h-.8zM169.9 497.5h.8v.8h-.8zM167.8 497.4h.8v.8h-.8zM164.2 501.9h.8v.8h-.8zM161.4 489.7h.8v.8h-.8zM167.1 494.5h.8v.8h-.8zM168.4 486.0h.8v.8h-.8zM169.1 472.2h.8v.8h-.8zM165.6 493.1h.8v.8h-.8zM165.7 501.3h.8v.8h-.8zM168.1 497.4h.8v.8h-.8zM163.7 501.0h.8v.8h-.8zM172.1 481.6h.8v.8h-.8zM175.0 484.4h.8v.8h-.8zM163.5 500.1h.8v.8h-.8zM176.5 498.7h.8v.8h-.8zM168.1 487.9h.8v.8h-.8zM165.5 495.1h.8v.8h-.8zM170.3 485.9h.8v.8h-.8zM171.0 476.2h.8v.8h-.8zM169.8 486.3h.8v.8h-.8zM163.0 510.2h.8v.8h-.8zM171.4 491.1h.8v.8h-.8zM163.9 504.7h.8v.8h-.8zM169.1 487.5h.8v.8h-.8zM158.2 500.8h.8v.8h-.8zM172.0 497.4h.8v.8h-.8zM164.0 479.0h.8v.8h-.8zM173.8 491.0h.8v.8h-.8zM172.0 473.3h.8v.8h-.8zM167.5 499.0h.8v.8h-.8zM168.5 507.9h.8v.8h-.8zM172.6 501.7h.8v.8h-.8zM171.7 491.7h.8v.8h-.8zM165.2 486.9h.8v.8h-.8zM174.3 492.0h.8v.8h-.8zM159.3 495.0h.8v.8h-.8zM169.0 489.5h.8v.8h-.8zM170.5 486.4h.8v.8h-.8zM180.3 490.0h.8v.8h-.8zM164.3 494.4h.8v.8h-.8zM169.5 500.4h.8v.8h-.8zM169.7 498.7h.8v.8h-.8zM168.8 491.4h.8v.8h-.8zM164.1 487.7h.8v.8h-.8zM168.5 483.7h.8v.8h-.8zM172.3 491.1h.8v.8h-.8zM174.0 499.8h.8v.8h-.8zM167.4 517.6h.8v.8h-.8zM175.1 488.2h.8v.8h-.8zM170.7 488.8h.8v.8h-.8zM164.6 494.7h.8v.8h-.8zM166.5 500.4h.8v.8h-.8zM162.5 495.6h.8v.8h-.8zM174.5 495.6h.8v.8h-.8zM177.2 509.2h.8v.8h-.8zM163.3 490.6h.8v.8h-.8zM166.2 505.5h.8v.8h-.8zM166.5 477.0h.8v.8h-.8zM165.9 490.9h.8v.8h-.8zM168.0 492.1h.8v.8h-.8zM168.9 487.2h.8v.8h-.8zM168.5 489.8h.8v.8h-.8zM166.8 491.2h.8v.8h-.8zM172.4 495.4h.8v.8h-.8zM171.6 487.5h.8v.8h-.8zM161.1 492.0h.8v.8h-.8zM172.5 493.2h.8v.8h-.8zM166.3 480.9h.8v.8h-.8zM170.1 486.9h.8v.8h-.8zM161.2 496.2h.8v.8h-.8zM169.0 503.2h.8v.8h-.8zM163.1 482.4h.8v.8h-.8zM169.3 505.8h.8v.8h-.8zM169.5 498.6h.8v.8h-.8zM162.6 495.7h.8v.8h-.8zM162.0 479.0h.8v.8h-.8zM171.8 502.4h.8v.8h-.8zM165.5 494.8h.8v.8h-.8zM171.2 491.8h.8v.8h-.8zM168.9 496.3h.8v.8h-.8zM164.9 484.8h.8v.8h-.8zM170.7 511.8h.8v.8h-.8zM167.0 490.0h.8v.8h-.8zM177.2 488.4h.8v.8h-.8zM165.5 508.7h.8v.8h-.8zM171.8 499.4h.8v.8h-.8zM159.2 503.7h.8v.8h-.8zM167.7 501.5h.8v.8h-.8zM171.2 508.3h.8v.8h-.8zM172.5 508.2h.8v.8h-.8zM165.9 502.5h.8v.8h-.8zM171.5 489.6h.8v.8h-.8zM162.7 492.0h.8v.8h-.8zM164.9 490.2h.8v.8h-.8zM166.6 488.5h.8v.8h-.8zM169.3 494.9h.8v.8h-.8zM164.4 487.6h.8v.8h-.8zM169.8 489.6h.8v.8h-.8zM166.7 486.2h.8v.8h-.8zM160.6 491.6h.8v.8h-.8zM164.2 493.0h.8v.8h-.8zM167.4 490.4h.8v.8h-.8zM172.8 487.1h.8v.8h-.8zM174.0 496.4h.8v.8h-.8zM180.8 486.5h.8v.8h-.8zM165.8 496.8h.8v.8h-.8zM172.4 491.5h.8v.8h-.8zM172.4 494.7h.8v.8h-.8zM162.4 496.2h.8v.8h-.8zM172.7 496.9h.8v.8h-.8zM168.4 486.7h.8v.8h-.8zM172.2 505.3h.8v.8h-.8zM162.6 498.8h.8v.8h-.8zM160.8 495.4h.8v.8h-.8zM156.8 492.4h.8v.8h-.8zM171.8 482.2h.8v.8h-.8zM162.8 494.7h.8v.8h-.8zM167.7 496.2h.8v.8h-.8zM175.1 484.4h.8v.8h-.8zM169.9 478.2h.8v.8h-.8zM155.2 485.9h.8v.8h-.8zM156.5 497.8h.8v.8h-.8zM172.8 497.8h.8v.8h-.8zM161.5 487.6h.8v.8h-.8zM161.1 492.2h.8v.8h-.8zM164.3 502.6h.8v.8h-.8zM170.8 483.6h.8v.8h-.8zM175.5 495.5h.8v.8h-.8zM172.8 494.0h.8v.8h-.8zM174.7 503.0h.8v.8h-.8zM172.5 505.1h.8v.8h-.8zM171.8 496.4h.8v.8h-.8zM165.5 476.9h.8v.8h-.8zM174.6 498.8h.8v.8h-.8zM164.0 500.7h.8v.8h-.8zM169.7 494.7h.8v.8h-.8zM177.3 502.0h.8v.8h-.8zM162.8 494.7h.8v.8h-.8zM173.6 503.1h.8v.8h-.8zM171.4 490.9h.8v.8h-.8zM170.7 478.7h.8v.8h-.8zM174.8 493.5h.8v.8h-.8zM166.5 488.2h.8v.8h-.8zM169.7 487.2h.8v.8h-.8zM164.5 486.1h.8v.8h-.8zM176.9 493.1h.8v.8h-.8zM171.3 496.8h.8v.8h-.8zM166.2 500.3h.8v.8h-.8zM168.3 487.9h.8v.8h-.8zM164.4 490.8h.8v.8h-.8zM166.8 504.8h.8v.8h-.8zM157.5 503.0h.8v.8h-.8zM175.6 506.4h.8v.8h-.8zM165.8 487.3h.8v.8h-.8zM174.7 499.4h.8v.8h-.8zM170.4 487.0h.8v.8h-.8zM167.7 484.4h.8v.8h-.8zM176.5 502.5h.8v.8h-.8zM167.0 502.5h.8v.8h-.8zM169.7 477.7h.8v.8h-.8zM171.6 487.9h.8v.8h-.8zM170.5 490.2h.8v.8h-.8zM164.5 491.3h.8v.8h-.8zM173.8 484.5h.8v.8h-.8zM164.6 481.7h.8v.8h-.8zM166.2 501.1h.8v.8h-.8zM172.3 498.5h.8v.8h-.8zM171.3 506.3h.8v.8h-.8zM175.9 506.9h.8v.8h-.8zM191.7 508.8h.8v.8h-.8zM201.8 515.7h.8v.8h-.8zM193.9 510.9h.8v.8h-.8zM202.6 511.3h.8v.8h-.8zM192.5 513.6h.8v.8h-.8zM193.6 514.9h.8v.8h-.8zM198.4 510.5h.8v.8h-.8zM191.7 517.1h.8v.8h-.8zM191.7 512.6h.8v.8h-.8zM194.9 512.2h.8v.8h-.8zM194.7 517.0h.8v.8h-.8zM197.7 506.7h.8v.8h-.8zM189.5 515.7h.8v.8h-.8zM195.7 518.2h.8v.8h-.8zM199.8 518.5h.8v.8h-.8zM188.5 510.2h.8v.8h-.8zM204.5 505.7h.8v.8h-.8zM201.4 511.7h.8v.8h-.8zM203.2 510.5h.8v.8h-.8zM192.6 516.1h.8v.8h-.8zM210.1 506.1h.8v.8h-.8zM198.7 508.0h.8v.8h-.8zM200.0 514.3h.8v.8h-.8zM192.6 505.1h.8v.8h-.8zM197.5 512.2h.8v.8h-.8zM202.4 511.9h.8v.8h-.8zM203.5 513.5h.8v.8h-.8zM206.0 517.3h.8v.8h-.8zM188.9 510.7h.8v.8h-.8zM199.8 510.9h.8v.8h-.8zM199.3 520.6h.8v.8h-.8zM192.0 508.6h.8v.8h-.8zM191.8 517.5h.8v.8h-.8zM210.7 507.9h.8v.8h-.8zM211.4 505.1h.8v.8h-.8zM198.0 512.9h.8v.8h-.8zM199.2 508.7h.8v.8h-.8zM190.3 511.2h.8v.8h-.8zM203.4 511.1h.8v.8h-.8zM199.7 514.5h.8v.8h-.8zM206.1 506.8h.8v.8h-.8zM206.9 521.9h.8v.8h-.8zM190.3 517.8h.8v.8h-.8zM186.1 508.1h.8v.8h-.8zM195.5 512.1h.8v.8h-.8zM186.0 508.5h.8v.8h-.8zM187.5 517.0h.8v.8h-.8zM191.7 513.6h.8v.8h-.8zM194.3 514.8h.8v.8h-.8zM181.8 511.9h.8v.8h-.8zM188.4 507.4h.8v.8h-.8zM199.5 516.3h.8v.8h-.8zM191.8 509.6h.8v.8h-.8zM209.1 512.6h.8v.8h-.8zM203.1 517.3h.8v.8h-.8zM201.9 511.5h.8v.8h-.8zM196.3 516.5h.8v.8h-.8zM180.8 508.3h.8v.8h-.8zM199.8 515.0h.8v.8h-.8zM200.8 509.6h.8v.8h-.8zM192.2 505.1h.8v.8h-.8zM198.4 512.0h.8v.8h-.8zM197.8 500.8h.8v.8h-.8zM194.7 506.7h.8v.8h-.8zM202.9 515.6h.8v.8h-.8zM201.1 514.8h.8v.8h-.8zM204.0 513.3h.8v.8h-.8zM192.2 512.8h.8v.8h-.8zM197.4 513.8h.8v.8h-.8zM200.1 512.5h.8v.8h-.8zM198.5 511.9h.8v.8h-.8zM195.6 506.6h.8v.8h-.8zM192.6 509.8h.8v.8h-.8zM207.8 510.9h.8v.8h-.8zM191.7 515.0h.8v.8h-.8zM200.0 510.6h.8v.8h-.8zM202.9 507.1h.8v.8h-.8zM190.2 509.5h.8v.8h-.8zM194.8 510.8h.8v.8h-.8zM197.0 516.7h.8v.8h-.8zM197.5 514.1h.8v.8h-.8zM195.5 506.9h.8v.8h-.8zM196.7 507.0h.8v.8h-.8zM201.2 510.7h.8v.8h-.8zM190.7 511.6h.8v.8h-.8zM197.8 509.4h.8v.8h-.8zM190.7 510.4h.8v.8h-.8zM193.9 509.4h.8v.8h-.8zM180.2 508.2h.8v.8h-.8zM209.8 520.0h.8v.8h-.8zM203.4 510.9h.8v.8h-.8zM203.1 514.9h.8v.8h-.8zM197.3 511.9h.8v.8h-.8zM197.2 503.3h.8v.8h-.8zM203.1 516.5h.8v.8h-.8zM198.6 513.8h.8v.8h-.8zM192.0 511.4h.8v.8h-.8zM193.0 506.9h.8v.8h-.8zM198.7 523.1h.8v.8h-.8zM207.8 512.3h.8v.8h-.8zM194.4 522.5h.8v.8h-.8zM191.8 508.5h.8v.8h-.8zM199.5 521.6h.8v.8h-.8zM206.6 502.1h.8v.8h-.8zM185.5 505.9h.8v.8h-.8zM204.0 507.5h.8v.8h-.8zM192.7 517.8h.8v.8h-.8zM190.9 519.6h.8v.8h-.8zM185.6 508.7h.8v.8h-.8zM204.8 506.7h.8v.8h-.8zM198.6 516.3h.8v.8h-.8zM201.7 514.3h.8v.8h-.8zM199.8 515.5h.8v.8h-.8zM197.8 509.6h.8v.8h-.8zM208.8 506.4h.8v.8h-.8zM197.6 508.3h.8v.8h-.8zM195.3 517.4h.8v.8h-.8zM187.0 504.3h.8v.8h-.8zM199.5 512.3h.8v.8h-.8zM197.6 511.0h.8v.8h-.8zM200.0 510.0h.8v.8h-.8zM203.7 511.2h.8v.8h-.8zM188.2 506.2h.8v.8h-.8zM199.8 507.4h.8v.8h-.8zM186.8 514.2h.8v.8h-.8zM196.8 516.3h.8v.8h-.8zM205.5 504.5h.8v.8h-.8zM199.6 507.9h.8v.8h-.8zM195.4 514.0h.8v.8h-.8zM197.9 510.6h.8v.8h-.8zM197.5 513.0h.8v.8h-.8zM177.9 516.4h.8v.8h-.8zM201.1 513.6h.8v.8h-.8zM195.9 519.7h.8v.8h-.8zM194.7 514.4h.8v.8h-.8zM192.4 502.0h.8v.8h-.8zM198.1 513.6h.8v.8h-.8zM185.3 518.4h.8v.8h-.8zM200.0 513.0h.8v.8h-.8zM190.8 505.3h.8v.8h-.8zM195.3 512.5h.8v.8h-.8zM194.4 511.3h.8v.8h-.8zM198.8 512.8h.8v.8h-.8zM199.6 511.1h.8v.8h-.8zM186.0 513.4h.8v.8h-.8zM198.8 516.7h.8v.8h-.8zM199.1 505.8h.8v.8h-.8zM199.6 517.8h.8v.8h-.8zM208.1 511.7h.8v.8h-.8zM198.3 511.7h.8v.8h-.8zM203.6 514.1h.8v.8h-.8zM212.3 513.0h.8v.8h-.8zM195.0 518.1h.8v.8h-.8zM201.5 508.3h.8v.8h-.8zM197.3 509.1h.8v.8h-.8zM187.9 514.7h.8v.8h-.8zM193.2 512.6h.8v.8h-.8zM200.6 508.4h.8v.8h-.8zM201.4 509.7h.8v.8h-.8zM198.4 509.7h.8v.8h-.8zM190.3 501.0h.8v.8h-.8zM192.7 508.3h.8v.8h-.8zM212.5 510.4h.8v.8h-.8zM198.9 508.8h.8v.8h-.8zM204.0 515.7h.8v.8h-.8zM198.4 513.3h.8v.8h-.8zM183.4 507.9h.8v.8h-.8zM195.5 521.2h.8v.8h-.8zM210.9 509.1h.8v.8h-.8zM199.8 513.3h.8v.8h-.8zM211.9 508.4h.8v.8h-.8zM198.8 514.8h.8v.8h-.8zM196.4 509.8h.8v.8h-.8zM199.8 513.8h.8v.8h-.8zM191.9 509.7h.8v.8h-.8zM198.9 509.6h.8v.8h-.8zM205.4 506.7h.8v.8h-.8zM191.2 516.8h.8v.8h-.8zM195.6 509.7h.8v.8h-.8zM202.9 509.8h.8v.8h-.8zM185.3 511.1h.8v.8h-.8zM201.7 512.5h.8v.8h-.8zM206.6 513.6h.8v.8h-.8zM198.9 519.8h.8v.8h-.8zM193.0 495.8h.8v.8h-.8zM199.6 516.7h.8v.8h-.8zM198.5 506.7h.8v.8h-.8zM201.0 518.7h.8v.8h-.8zM198.8 506.8h.8v.8h-.8zM194.6 513.8h.8v.8h-.8zM187.5 517.3h.8v.8h-.8zM187.9 521.8h.8v.8h-.8zM192.7 516.4h.8v.8h-.8zM199.4 501.2h.8v.8h-.8zM200.5 507.7h.8v.8h-.8zM194.0 512.8h.8v.8h-.8zM186.2 509.8h.8v.8h-.8zM198.9 516.1h.8v.8h-.8zM203.0 514.2h.8v.8h-.8zM178.9 513.8h.8v.8h-.8zM190.5 502.2h.8v.8h-.8zM199.0 517.1h.8v.8h-.8zM196.3 510.1h.8v.8h-.8zM189.4 509.0h.8v.8h-.8zM201.0 512.6h.8v.8h-.8zM197.8 509.1h.8v.8h-.8zM192.9 508.0h.8v.8h-.8zM187.6 518.5h.8v.8h-.8zM187.2 518.2h.8v.8h-.8zM200.3 506.3h.8v.8h-.8zM201.3 514.7h.8v.8h-.8zM201.5 510.9h.8v.8h-.8zM193.6 510.2h.8v.8h-.8zM196.0 504.4h.8v.8h-.8zM203.2 507.7h.8v.8h-.8zM205.2 517.7h.8v.8h-.8zM184.2 506.5h.8v.8h-.8zM191.7 511.5h.8v.8h-.8zM189.8 514.2h.8v.8h-.8zM194.3 505.3h.8v.8h-.8zM201.8 507.3h.8v.8h-.8zM200.3 521.5h.8v.8h-.8zM196.2 509.2h.8v.8h-.8zM185.6 514.4h.8v.8h-.8zM194.3 510.8h.8v.8h-.8zM203.5 505.9h.8v.8h-.8zM200.0 519.3h.8v.8h-.8zM202.1 507.1h.8v.8h-.8zM204.1 510.0h.8v.8h-.8zM205.8 512.6h.8v.8h-.8zM203.5 502.2h.8v.8h-.8zM197.5 500.1h.8v.8h-.8zM199.2 506.6h.8v.8h-.8zM200.4 513.1h.8v.8h-.8zM210.0 515.5h.8v.8h-.8zM201.6 501.8h.8v.8h-.8zM198.1 506.6h.8v.8h-.8zM195.7 511.6h.8v.8h-.8zM200.2 516.3h.8v.8h-.8zM202.0 513.4h.8v.8h-.8zM193.5 511.6h.8v.8h-.8zM198.1 513.9h.8v.8h-.8zM186.0 514.5h.8v.8h-.8zM188.1 514.5h.8v.8h-.8zM194.7 503.2h.8v.8h-.8zM199.0 506.4h.8v.8h-.8zM200.5 512.9h.8v.8h-.8zM196.0 516.5h.8v.8h-.8zM191.3 508.6h.8v.8h-.8zM196.1 514.9h.8v.8h-.8zM195.6 495.6h.8v.8h-.8zM196.0 509.4h.8v.8h-.8zM193.4 503.6h.8v.8h-.8zM188.7 510.3h.8v.8h-.8zM201.4 507.6h.8v.8h-.8zM196.0 509.1h.8v.8h-.8zM201.0 506.4h.8v.8h-.8zM200.0 518.5h.8v.8h-.8zM200.0 507.2h.8v.8h-.8zM193.4 519.3h.8v.8h-.8zM212.3 511.6h.8v.8h-.8zM194.5 517.4h.8v.8h-.8zM194.6 513.9h.8v.8h-.8zM192.3 510.8h.8v.8h-.8zM185.8 513.3h.8v.8h-.8zM179.9 506.8h.8v.8h-.8zM198.1 515.1h.8v.8h-.8zM205.6 515.1h.8v.8h-.8zM196.1 515.4h.8v.8h-.8zM185.3 500.7h.8v.8h-.8zM197.3 499.5h.8v.8h-.8zM203.7 509.5h.8v.8h-.8zM198.9 520.4h.8v.8h-.8zM197.5 513.9h.8v.8h-.8zM190.1 517.8h.8v.8h-.8zM192.9 508.2h.8v.8h-.8zM199.6 514.2h.8v.8h-.8zM191.3 508.6h.8v.8h-.8zM187.5 509.8h.8v.8h-.8zM186.2 507.5h.8v.8h-.8zM183.6 523.9h.8v.8h-.8zM165.4 534.4h.8v.8h-.8zM173.0 532.3h.8v.8h-.8zM171.0 520.6h.8v.8h-.8zM182.9 529.0h.8v.8h-.8zM171.5 530.2h.8v.8h-.8zM186.7 529.4h.8v.8h-.8zM179.5 515.4h.8v.8h-.8zM167.1 525.1h.8v.8h-.8zM167.9 523.8h.8v.8h-.8zM174.1 534.2h.8v.8h-.8zM176.2 530.6h.8v.8h-.8zM177.2 527.7h.8v.8h-.8zM188.1 526.1h.8v.8h-.8zM172.8 524.6h.8v.8h-.8zM170.2 523.8h.8v.8h-.8zM162.0 527.6h.8v.8h-.8zM176.8 526.1h.8v.8h-.8zM186.2 528.4h.8v.8h-.8zM158.7 526.4h.8v.8h-.8zM181.2 531.5h.8v.8h-.8zM169.9 518.9h.8v.8h-.8zM172.5 528.8h.8v.8h-.8zM193.3 532.0h.8v.8h-.8zM172.4 530.7h.8v.8h-.8zM171.2 532.7h.8v.8h-.8zM169.9 527.4h.8v.8h-.8zM159.0 525.5h.8v.8h-.8zM159.9 525.9h.8v.8h-.8zM173.5 535.0h.8v.8h-.8zM172.9 522.3h.8v.8h-.8zM176.0 524.0h.8v.8h-.8zM151.9 530.1h.8v.8h-.8zM168.8 523.2h.8v.8h-.8zM167.6 532.3h.8v.8h-.8zM173.1 521.3h.8v.8h-.8zM181.0 518.8h.8v.8h-.8zM179.0 520.5h.8v.8h-.8zM170.0 538.5h.8v.8h-.8zM170.0 528.9h.8v.8h-.8zM166.9 529.4h.8v.8h-.8zM180.0 530.4h.8v.8h-.8zM187.3 525.1h.8v.8h-.8zM160.9 531.7h.8v.8h-.8zM163.2 533.9h.8v.8h-.8zM176.0 520.7h.8v.8h-.8zM163.9 525.7h.8v.8h-.8zM175.5 514.8h.8v.8h-.8zM177.3 526.5h.8v.8h-.8zM178.9 525.3h.8v.8h-.8zM180.9 532.6h.8v.8h-.8zM170.0 525.2h.8v.8h-.8zM156.8 513.6h.8v.8h-.8zM176.4 515.1h.8v.8h-.8zM177.9 533.3h.8v.8h-.8zM173.2 534.7h.8v.8h-.8zM198.0 512.4h.8v.8h-.8zM171.8 537.0h.8v.8h-.8zM152.2 516.3h.8v.8h-.8zM168.2 529.1h.8v.8h-.8zM177.6 530.3h.8v.8h-.8zM168.7 528.5h.8v.8h-.8zM170.7 523.7h.8v.8h-.8zM188.4 530.9h.8v.8h-.8zM156.7 530.7h.8v.8h-.8zM164.3 524.8h.8v.8h-.8zM190.7 533.9h.8v.8h-.8zM169.7 523.1h.8v.8h-.8zM185.3 532.9h.8v.8h-.8zM187.9 523.1h.8v.8h-.8zM201.1 517.6h.8v.8h-.8zM177.5 531.2h.8v.8h-.8zM168.2 528.7h.8v.8h-.8zM154.7 529.3h.8v.8h-.8zM177.5 529.6h.8v.8h-.8zM185.6 530.6h.8v.8h-.8zM188.2 529.5h.8v.8h-.8zM154.1 535.5h.8v.8h-.8zM158.8 536.8h.8v.8h-.8zM173.1 521.2h.8v.8h-.8zM175.5 518.7h.8v.8h-.8zM164.2 523.9h.8v.8h-.8zM179.9 535.0h.8v.8h-.8zM162.4 527.1h.8v.8h-.8zM179.1 527.5h.8v.8h-.8zM183.8 523.3h.8v.8h-.8zM183.5 533.2h.8v.8h-.8zM177.5 535.6h.8v.8h-.8zM155.9 529.5h.8v.8h-.8zM176.3 526.5h.8v.8h-.8zM189.8 516.5h.8v.8h-.8zM175.4 530.3h.8v.8h-.8zM170.5 528.4h.8v.8h-.8zM181.5 533.9h.8v.8h-.8zM176.4 537.2h.8v.8h-.8zM176.9 538.0h.8v.8h-.8zM170.2 526.0h.8v.8h-.8zM164.0 513.5h.8v.8h-.8zM175.9 527.9h.8v.8h-.8zM169.7 522.3h.8v.8h-.8zM163.4 531.9h.8v.8h-.8zM186.4 531.0h.8v.8h-.8zM186.5 538.1h.8v.8h-.8zM184.2 533.8h.8v.8h-.8zM170.6 527.4h.8v.8h-.8zM181.8 533.4h.8v.8h-.8zM168.5 530.6h.8v.8h-.8zM178.8 531.0h.8v.8h-.8zM175.1 524.5h.8v.8h-.8zM173.2 524.6h.8v.8h-.8zM180.0 517.0h.8v.8h-.8zM180.3 523.3h.8v.8h-.8zM183.2 526.9h.8v.8h-.8zM160.2 518.4h.8v.8h-.8zM174.8 529.7h.8v.8h-.8zM170.5 523.3h.8v.8h-.8zM175.2 536.0h.8v.8h-.8zM176.7 532.9h.8v.8h-.8zM174.3 530.9h.8v.8h-.8zM180.7 515.6h.8v.8h-.8zM171.8 520.5h.8v.8h-.8zM184.1 523.9h.8v.8h-.8zM171.0 527.5h.8v.8h-.8zM168.7 531.9h.8v.8h-.8zM158.9 512.9h.8v.8h-.8zM166.9 523.6h.8v.8h-.8zM175.0 525.5h.8v.8h-.8zM174.0 526.0h.8v.8h-.8zM189.4 525.4h.8v.8h-.8zM184.4 527.3h.8v.8h-.8zM167.5 522.1h.8v.8h-.8zM173.1 519.3h.8v.8h-.8zM155.6 531.4h.8v.8h-.8zM180.5 525.9h.8v.8h-.8zM168.0 533.7h.8v.8h-.8zM165.1 526.3h.8v.8h-.8zM165.3 529.5h.8v.8h-.8zM156.3 532.5h.8v.8h-.8zM175.0 511.9h.8v.8h-.8zM180.2 525.8h.8v.8h-.8zM175.8 517.4h.8v.8h-.8zM164.9 522.2h.8v.8h-.8zM184.3 523.7h.8v.8h-.8zM177.4 526.7h.8v.8h-.8zM169.6 530.9h.8v.8h-.8zM170.9 520.4h.8v.8h-.8zM169.1 533.7h.8v.8h-.8zM164.5 528.6h.8v.8h-.8zM159.0 528.4h.8v.8h-.8zM180.0 528.6h.8v.8h-.8zM158.4 526.4h.8v.8h-.8zM159.4 521.8h.8v.8h-.8zM152.8 534.2h.8v.8h-.8zM174.3 519.8h.8v.8h-.8zM156.7 522.6h.8v.8h-.8zM171.4 533.6h.8v.8h-.8zM161.1 528.1h.8v.8h-.8zM184.2 530.6h.8v.8h-.8zM190.5 521.2h.8v.8h-.8zM158.0 525.3h.8v.8h-.8zM170.3 530.0h.8v.8h-.8zM178.5 520.2h.8v.8h-.8zM162.4 521.8h.8v.8h-.8zM181.4 527.1h.8v.8h-.8zM158.3 523.1h.8v.8h-.8zM164.5 513.8h.8v.8h-.8zM190.3 531.2h.8v.8h-.8zM181.5 529.4h.8v.8h-.8zM162.2 538.1h.8v.8h-.8zM182.7 522.3h.8v.8h-.8zM159.1 524.4h.8v.8h-.8zM182.5 529.1h.8v.8h-.8zM170.0 528.7h.8v.8h-.8zM170.1 533.3h.8v.8h-.8zM177.5 531.3h.8v.8h-.8zM162.9 535.5h.8v.8h-.8zM178.2 523.1h.8v.8h-.8zM176.6 517.2h.8v.8h-.8zM178.3 530.8h.8v.8h-.8zM177.0 525.3h.8v.8h-.8zM163.7 521.4h.8v.8h-.8zM179.0 516.6h.8v.8h-.8zM175.2 524.5h.8v.8h-.8zM169.4 513.3h.8v.8h-.8zM160.3 512.8h.8v.8h-.8zM182.7 531.9h.8v.8h-.8zM181.3 526.8h.8v.8h-.8zM168.3 532.8h.8v.8h-.8zM165.5 533.3h.8v.8h-.8zM165.3 527.8h.8v.8h-.8zM168.6 532.3h.8v.8h-.8zM186.6 522.5h.8v.8h-.8zM178.8 513.0h.8v.8h-.8zM181.5 527.4h.8v.8h-.8zM189.4 528.0h.8v.8h-.8zM167.7 522.1h.8v.8h-.8zM187.9 520.9h.8v.8h-.8zM160.6 523.9h.8v.8h-.8zM167.4 530.2h.8v.8h-.8zM168.6 538.9h.8v.8h-.8zM160.9 528.3h.8v.8h-.8zM159.8 514.4h.8v.8h-.8zM176.3 530.1h.8v.8h-.8zM173.8 523.1h.8v.8h-.8zM162.2 524.5h.8v.8h-.8zM166.1 519.2h.8v.8h-.8zM162.0 533.6h.8v.8h-.8zM190.6 522.7h.8v.8h-.8zM157.4 531.1h.8v.8h-.8zM185.9 528.2h.8v.8h-.8zM175.2 512.6h.8v.8h-.8zM161.4 525.8h.8v.8h-.8zM159.9 520.7h.8v.8h-.8zM163.1 535.2h.8v.8h-.8zM172.9 530.8h.8v.8h-.8zM178.5 530.1h.8v.8h-.8zM168.6 530.1h.8v.8h-.8zM176.0 517.5h.8v.8h-.8zM168.3 530.9h.8v.8h-.8zM155.5 535.2h.8v.8h-.8zM180.9 518.8h.8v.8h-.8zM158.8 536.8h.8v.8h-.8zM163.9 527.7h.8v.8h-.8zM185.1 521.9h.8v.8h-.8zM176.5 528.9h.8v.8h-.8zM155.9 530.0h.8v.8h-.8zM161.6 531.3h.8v.8h-.8zM181.9 535.2h.8v.8h-.8zM165.0 531.6h.8v.8h-.8zM176.2 537.1h.8v.8h-.8zM178.9 520.4h.8v.8h-.8zM163.0 522.5h.8v.8h-.8zM169.1 517.5h.8v.8h-.8zM198.9 529.2h.8v.8h-.8zM169.8 528.1h.8v.8h-.8zM170.2 516.3h.8v.8h-.8zM164.0 535.0h.8v.8h-.8zM188.9 530.8h.8v.8h-.8zM164.6 516.7h.8v.8h-.8zM150.8 530.6h.8v.8h-.8zM172.1 528.4h.8v.8h-.8zM180.5 531.3h.8v.8h-.8zM174.2 533.0h.8v.8h-.8zM185.2 533.5h.8v.8h-.8zM190.6 517.6h.8v.8h-.8zM165.9 534.5h.8v.8h-.8zM159.6 526.5h.8v.8h-.8zM171.6 520.6h.8v.8h-.8zM181.7 528.7h.8v.8h-.8zM188.1 528.8h.8v.8h-.8zM185.8 526.2h.8v.8h-.8zM168.3 519.5h.8v.8h-.8zM179.0 527.3h.8v.8h-.8zM164.9 525.3h.8v.8h-.8zM166.2 529.3h.8v.8h-.8zM174.8 521.8h.8v.8h-.8zM179.4 528.5h.8v.8h-.8zM186.3 523.5h.8v.8h-.8zM174.6 531.6h.8v.8h-.8zM164.2 516.3h.8v.8h-.8zM196.9 527.7h.8v.8h-.8zM173.0 525.1h.8v.8h-.8zM175.5 520.7h.8v.8h-.8zM170.9 527.7h.8v.8h-.8zM185.0 528.7h.8v.8h-.8zM168.1 523.6h.8v.8h-.8zM176.7 527.5h.8v.8h-.8zM189.4 516.5h.8v.8h-.8zM189.0 534.9h.8v.8h-.8zM165.0 523.1h.8v.8h-.8zM161.4 531.4h.8v.8h-.8zM188.1 522.8h.8v.8h-.8zM162.1 529.3h.8v.8h-.8zM178.7 535.9h.8v.8h-.8zM182.1 520.4h.8v.8h-.8zM164.1 523.5h.8v.8h-.8zM192.4 526.7h.8v.8h-.8zM158.4 526.9h.8v.8h-.8zM175.7 522.9h.8v.8h-.8zM167.4 523.8h.8v.8h-.8zM173.8 522.0h.8v.8h-.8zM187.9 525.5h.8v.8h-.8zM160.2 526.4h.8v.8h-.8zM166.2 525.2h.8v.8h-.8zM183.8 529.2h.8v.8h-.8zM169.9 535.6h.8v.8h-.8zM174.7 532.6h.8v.8h-.8zM182.7 527.1h.8v.8h-.8zM172.9 524.2h.8v.8h-.8zM186.1 533.6h.8v.8h-.8zM156.5 532.9h.8v.8h-.8zM184.6 529.1h.8v.8h-.8zM167.2 525.2h.8v.8h-.8zM171.6 523.5h.8v.8h-.8zM177.5 530.6h.8v.8h-.8zM182.7 530.0h.8v.8h-.8zM174.3 523.8h.8v.8h-.8zM171.1 534.2h.8v.8h-.8zM175.5 524.9h.8v.8h-.8zM161.3 515.2h.8v.8h-.8zM183.1 528.5h.8v.8h-.8zM181.6 529.0h.8v.8h-.8zM180.9 533.4h.8v.8h-.8zM177.6 538.9h.8v.8h-.8zM169.9 530.0h.8v.8h-.8zM162.5 525.5h.8v.8h-.8zM172.0 516.5h.8v.8h-.8zM173.2 534.9h.8v.8h-.8zM168.2 509.9h.8v.8h-.8zM160.0 524.9h.8v.8h-.8zM167.6 534.5h.8v.8h-.8zM168.2 535.5h.8v.8h-.8zM171.0 534.0h.8v.8h-.8zM177.2 528.5h.8v.8h-.8zM179.2 523.2h.8v.8h-.8zM180.3 526.8h.8v.8h-.8zM159.1 539.2h.8v.8h-.8zM158.8 531.6h.8v.8h-.8zM174.6 521.2h.8v.8h-.8zM173.4 528.9h.8v.8h-.8zM181.5 521.1h.8v.8h-.8zM178.6 508.6h.8v.8h-.8zM182.3 521.2h.8v.8h-.8zM183.0 533.9h.8v.8h-.8zM168.4 528.3h.8v.8h-.8zM182.1 528.7h.8v.8h-.8zM158.8 538.3h.8v.8h-.8zM195.5 527.3h.8v.8h-.8zM164.5 540.3h.8v.8h-.8zM166.0 532.5h.8v.8h-.8zM170.4 527.0h.8v.8h-.8zM171.4 525.8h.8v.8h-.8zM158.9 521.9h.8v.8h-.8zM186.4 531.7h.8v.8h-.8zM163.8 527.6h.8v.8h-.8zM174.8 522.0h.8v.8h-.8zM176.7 534.7h.8v.8h-.8zM160.7 537.7h.8v.8h-.8zM175.7 534.8h.8v.8h-.8zM175.1 520.3h.8v.8h-.8zM170.0 531.4h.8v.8h-.8zM165.7 534.9h.8v.8h-.8zM179.4 503.9h.8v.8h-.8zM161.5 526.3h.8v.8h-.8zM173.6 520.2h.8v.8h-.8zM172.6 538.8h.8v.8h-.8zM176.5 523.7h.8v.8h-.8zM175.3 526.1h.8v.8h-.8zM176.6 534.3h.8v.8h-.8zM182.5 523.5h.8v.8h-.8zM168.8 532.3h.8v.8h-.8zM160.5 529.8h.8v.8h-.8zM155.7 519.5h.8v.8h-.8zM184.3 535.8h.8v.8h-.8zM186.3 525.7h.8v.8h-.8zM168.5 515.7h.8v.8h-.8zM179.6 524.0h.8v.8h-.8zM154.6 531.9h.8v.8h-.8zM178.9 534.4h.8v.8h-.8zM182.8 526.5h.8v.8h-.8zM163.4 531.0h.8v.8h-.8zM156.0 529.5h.8v.8h-.8zM181.6 532.9h.8v.8h-.8zM178.1 523.4h.8v.8h-.8zM188.4 528.8h.8v.8h-.8zM181.3 528.6h.8v.8h-.8zM163.9 519.6h.8v.8h-.8zM168.3 524.2h.8v.8h-.8zM157.0 536.0h.8v.8h-.8zM170.9 536.6h.8v.8h-.8zM154.6 523.0h.8v.8h-.8zM178.9 516.3h.8v.8h-.8zM164.5 537.7h.8v.8h-.8zM176.1 526.3h.8v.8h-.8zM171.3 520.3h.8v.8h-.8zM162.2 534.6h.8v.8h-.8zM180.8 513.8h.8v.8h-.8zM179.8 512.5h.8v.8h-.8zM180.8 521.6h.8v.8h-.8zM165.1 513.5h.8v.8h-.8zM169.8 526.6h.8v.8h-.8zM160.8 534.2h.8v.8h-.8zM177.8 528.4h.8v.8h-.8zM181.4 519.1h.8v.8h-.8zM190.3 529.4h.8v.8h-.8zM165.5 523.6h.8v.8h-.8zM170.3 525.5h.8v.8h-.8zM182.7 536.2h.8v.8h-.8zM167.3 519.2h.8v.8h-.8zM166.9 529.8h.8v.8h-.8zM189.1 539.9h.8v.8h-.8zM170.4 535.0h.8v.8h-.8zM172.2 528.0h.8v.8h-.8zM170.1 532.2h.8v.8h-.8zM191.3 537.8h.8v.8h-.8zM176.8 533.2h.8v.8h-.8zM170.8 540.2h.8v.8h-.8zM182.6 520.6h.8v.8h-.8zM163.8 521.0h.8v.8h-.8zM187.5 529.9h.8v.8h-.8zM192.8 523.9h.8v.8h-.8zM177.5 526.1h.8v.8h-.8zM165.9 506.7h.8v.8h-.8zM173.3 533.8h.8v.8h-.8zM180.4 527.3h.8v.8h-.8zM181.6 536.6h.8v.8h-.8zM166.8 536.7h.8v.8h-.8zM172.8 533.1h.8v.8h-.8zM163.9 524.0h.8v.8h-.8zM166.7 520.2h.8v.8h-.8zM173.3 532.7h.8v.8h-.8zM176.5 529.3h.8v.8h-.8zM170.8 521.9h.8v.8h-.8zM175.5 528.0h.8v.8h-.8zM181.7 520.3h.8v.8h-.8zM177.0 540.0h.8v.8h-.8zM175.6 526.5h.8v.8h-.8zM179.1 537.6h.8v.8h-.8zM174.2 522.6h.8v.8h-.8zM164.0 528.7h.8v.8h-.8zM158.9 536.9h.8v.8h-.8zM160.5 523.4h.8v.8h-.8zM191.6 519.4h.8v.8h-.8zM171.7 526.4h.8v.8h-.8zM170.5 528.3h.8v.8h-.8zM166.9 520.2h.8v.8h-.8zM171.2 519.2h.8v.8h-.8zM171.0 534.7h.8v.8h-.8zM180.0 533.4h.8v.8h-.8zM167.7 527.8h.8v.8h-.8zM186.4 531.1h.8v.8h-.8zM161.8 518.8h.8v.8h-.8zM168.8 528.6h.8v.8h-.8zM164.7 527.2h.8v.8h-.8zM178.8 525.3h.8v.8h-.8zM178.2 518.6h.8v.8h-.8zM169.2 537.0h.8v.8h-.8zM180.3 530.3h.8v.8h-.8zM172.2 526.1h.8v.8h-.8zM152.8 522.6h.8v.8h-.8zM189.7 525.2h.8v.8h-.8zM177.0 522.6h.8v.8h-.8zM168.1 532.2h.8v.8h-.8zM176.9 529.1h.8v.8h-.8zM179.6 529.7h.8v.8h-.8zM168.2 533.9h.8v.8h-.8zM154.1 529.5h.8v.8h-.8zM165.5 533.9h.8v.8h-.8zM176.6 520.8h.8v.8h-.8zM168.6 509.8h.8v.8h-.8zM179.4 524.6h.8v.8h-.8zM185.3 514.5h.8v.8h-.8zM173.6 531.9h.8v.8h-.8zM171.1 517.8h.8v.8h-.8zM157.0 528.0h.8v.8h-.8zM184.9 537.7h.8v.8h-.8zM166.4 529.8h.8v.8h-.8zM159.9 532.6h.8v.8h-.8zM185.9 520.3h.8v.8h-.8zM187.7 522.1h.8v.8h-.8zM168.7 531.1h.8v.8h-.8zM181.9 523.9h.8v.8h-.8zM187.4 525.2h.8v.8h-.8zM176.3 519.0h.8v.8h-.8zM176.6 535.7h.8v.8h-.8zM170.5 525.1h.8v.8h-.8zM160.6 537.0h.8v.8h-.8zM173.3 529.1h.8v.8h-.8zM174.9 535.4h.8v.8h-.8zM170.6 536.4h.8v.8h-.8zM171.7 535.4h.8v.8h-.8zM189.4 521.5h.8v.8h-.8zM173.6 520.5h.8v.8h-.8zM156.0 523.9h.8v.8h-.8zM175.5 534.3h.8v.8h-.8zM180.2 533.9h.8v.8h-.8zM167.5 537.7h.8v.8h-.8zM163.5 535.7h.8v.8h-.8zM161.2 523.7h.8v.8h-.8zM163.6 531.1h.8v.8h-.8zM183.2 535.1h.8v.8h-.8zM169.4 533.1h.8v.8h-.8zM181.3 523.6h.8v.8h-.8zM183.9 534.1h.8v.8h-.8zM165.0 532.1h.8v.8h-.8zM163.6 522.9h.8v.8h-.8zM179.7 524.4h.8v.8h-.8zM180.5 515.5h.8v.8h-.8zM172.9 529.2h.8v.8h-.8zM179.9 535.1h.8v.8h-.8zM180.5 522.2h.8v.8h-.8zM173.9 537.3h.8v.8h-.8zM178.6 512.6h.8v.8h-.8zM166.9 526.4h.8v.8h-.8zM161.9 525.2h.8v.8h-.8zM174.1 531.1h.8v.8h-.8zM178.7 524.0h.8v.8h-.8zM181.9 521.5h.8v.8h-.8zM194.6 528.2h.8v.8h-.8zM179.3 527.5h.8v.8h-.8zM172.0 526.1h.8v.8h-.8zM177.3 525.6h.8v.8h-.8zM160.7 520.2h.8v.8h-.8zM155.4 520.3h.8v.8h-.8zM170.2 525.2h.8v.8h-.8zM179.7 529.2h.8v.8h-.8zM180.2 532.7h.8v.8h-.8zM179.0 532.1h.8v.8h-.8zM182.4 519.3h.8v.8h-.8zM172.0 531.5h.8v.8h-.8zM180.3 531.3h.8v.8h-.8zM178.0 529.5h.8v.8h-.8zM181.9 527.7h.8v.8h-.8zM174.6 525.9h.8v.8h-.8zM174.8 529.9h.8v.8h-.8zM153.1 525.0h.8v.8h-.8zM178.7 522.6h.8v.8h-.8zM175.9 521.3h.8v.8h-.8zM164.9 527.2h.8v.8h-.8zM166.0 536.7h.8v.8h-.8zM167.9 531.0h.8v.8h-.8zM171.5 529.7h.8v.8h-.8zM156.9 539.0h.8v.8h-.8zM165.6 526.0h.8v.8h-.8zM160.9 529.5h.8v.8h-.8zM180.7 534.9h.8v.8h-.8zM172.3 531.3h.8v.8h-.8zM174.3 534.3h.8v.8h-.8zM172.4 525.8h.8v.8h-.8zM159.9 529.0h.8v.8h-.8zM176.2 524.8h.8v.8h-.8zM174.7 521.8h.8v.8h-.8zM183.5 535.5h.8v.8h-.8zM165.7 506.4h.8v.8h-.8zM172.4 538.9h.8v.8h-.8zM184.5 524.8h.8v.8h-.8zM171.2 524.6h.8v.8h-.8zM170.5 534.8h.8v.8h-.8zM174.9 531.2h.8v.8h-.8zM163.3 535.4h.8v.8h-.8zM160.9 527.7h.8v.8h-.8zM156.4 526.8h.8v.8h-.8zM172.3 521.7h.8v.8h-.8zM177.3 530.3h.8v.8h-.8zM166.5 533.7h.8v.8h-.8zM171.6 525.0h.8v.8h-.8zM176.7 539.2h.8v.8h-.8zM177.6 523.6h.8v.8h-.8zM161.1 525.0h.8v.8h-.8zM172.6 536.2h.8v.8h-.8zM195.1 533.7h.8v.8h-.8zM181.0 523.5h.8v.8h-.8zM177.1 533.0h.8v.8h-.8zM176.1 527.0h.8v.8h-.8zM172.3 533.5h.8v.8h-.8zM152.2 533.8h.8v.8h-.8zM172.3 527.3h.8v.8h-.8zM167.4 532.9h.8v.8h-.8zM175.8 532.7h.8v.8h-.8zM162.9 525.1h.8v.8h-.8zM169.1 537.5h.8v.8h-.8zM171.7 529.3h.8v.8h-.8zM182.4 538.9h.8v.8h-.8zM167.1 518.0h.8v.8h-.8zM160.4 532.0h.8v.8h-.8zM187.0 529.4h.8v.8h-.8zM180.1 519.7h.8v.8h-.8zM157.8 526.4h.8v.8h-.8zM175.1 520.9h.8v.8h-.8zM183.8 534.5h.8v.8h-.8zM158.6 514.8h.8v.8h-.8zM185.9 529.5h.8v.8h-.8zM175.5 526.8h.8v.8h-.8zM166.8 518.9h.8v.8h-.8zM178.7 520.2h.8v.8h-.8zM165.6 516.8h.8v.8h-.8zM173.3 529.1h.8v.8h-.8zM171.5 523.9h.8v.8h-.8zM176.5 530.3h.8v.8h-.8zM189.2 519.0h.8v.8h-.8zM157.0 529.8h.8v.8h-.8zM171.8 531.4h.8v.8h-.8zM166.9 524.3h.8v.8h-.8zM154.7 518.3h.8v.8h-.8zM150.8 513.0h.8v.8h-.8zM165.5 482.8h.8v.8h-.8zM179.6 519.8h.8v.8h-.8zM202.4 466.2h.8v.8h-.8zM176.1 503.4h.8v.8h-.8zM227.9 495.0h.8v.8h-.8zM216.0 526.0h.8v.8h-.8zM211.6 479.7h.8v.8h-.8zM162.2 523.8h.8v.8h-.8zM168.5 499.6h.8v.8h-.8zM184.5 509.0h.8v.8h-.8zM226.9 477.6h.8v.8h-.8zM156.3 522.3h.8v.8h-.8zM168.8 505.0h.8v.8h-.8zM172.2 529.5h.8v.8h-.8zM201.6 525.8h.8v.8h-.8zM179.2 476.0h.8v.8h-.8zM204.6 474.7h.8v.8h-.8zM155.7 539.7h.8v.8h-.8zM219.0 467.3h.8v.8h-.8zM184.0 466.3h.8v.8h-.8zM155.5 508.0h.8v.8h-.8zM214.7 537.4h.8v.8h-.8zM223.5 491.5h.8v.8h-.8zM153.1 513.4h.8v.8h-.8zM189.9 469.7h.8v.8h-.8zM169.7 473.0h.8v.8h-.8zM225.9 485.7h.8v.8h-.8zM229.4 505.8h.8v.8h-.8zM205.0 480.4h.8v.8h-.8zM206.9 509.3h.8v.8h-.8zM207.2 492.5h.8v.8h-.8zM205.1 499.8h.8v.8h-.8zM201.8 485.6h.8v.8h-.8zM208.4 487.4h.8v.8h-.8zM210.3 493.4h.8v.8h-.8zM205.5 485.5h.8v.8h-.8zM203.1 486.7h.8v.8h-.8zM207.1 484.9h.8v.8h-.8zM204.9 499.7h.8v.8h-.8zM204.5 499.0h.8v.8h-.8zM197.7 486.0h.8v.8h-.8zM208.3 493.7h.8v.8h-.8zM202.7 499.6h.8v.8h-.8zM205.4 496.6h.8v.8h-.8zM207.5 509.6h.8v.8h-.8zM205.1 494.7h.8v.8h-.8zM204.2 490.6h.8v.8h-.8zM209.9 486.1h.8v.8h-.8zM208.6 495.1h.8v.8h-.8zM208.1 497.6h.8v.8h-.8zM207.8 479.7h.8v.8h-.8zM208.5 488.1h.8v.8h-.8zM202.5 489.3h.8v.8h-.8zM205.1 513.7h.8v.8h-.8zM209.3 510.6h.8v.8h-.8zM207.3 507.5h.8v.8h-.8zM205.1 494.3h.8v.8h-.8zM206.9 483.9h.8v.8h-.8zM214.9 513.3h.8v.8h-.8zM208.7 485.3h.8v.8h-.8zM211.3 502.5h.8v.8h-.8zM213.2 499.2h.8v.8h-.8zM206.8 480.0h.8v.8h-.8zM209.7 488.0h.8v.8h-.8zM203.7 499.8h.8v.8h-.8zM203.1 499.6h.8v.8h-.8zM204.3 483.5h.8v.8h-.8zM200.9 495.0h.8v.8h-.8zM212.5 496.5h.8v.8h-.8zM206.0 500.8h.8v.8h-.8zM205.6 484.7h.8v.8h-.8zM205.2 496.8h.8v.8h-.8zM205.2 485.2h.8v.8h-.8zM204.8 501.5h.8v.8h-.8zM198.9 484.5h.8v.8h-.8zM204.2 488.8h.8v.8h-.8zM207.7 498.6h.8v.8h-.8zM206.8 498.8h.8v.8h-.8zM206.0 486.2h.8v.8h-.8zM205.2 498.3h.8v.8h-.8zM205.4 477.1h.8v.8h-.8zM205.3 488.1h.8v.8h-.8zM204.6 495.1h.8v.8h-.8zM205.6 498.1h.8v.8h-.8zM201.5 494.2h.8v.8h-.8zM201.0 492.1h.8v.8h-.8zM209.3 483.1h.8v.8h-.8zM202.2 499.1h.8v.8h-.8zM202.3 486.5h.8v.8h-.8zM206.7 478.9h.8v.8h-.8zM200.9 497.6h.8v.8h-.8zM200.5 498.6h.8v.8h-.8zM200.5 499.2h.8v.8h-.8zM211.0 508.2h.8v.8h-.8zM214.5 502.1h.8v.8h-.8zM206.0 490.4h.8v.8h-.8zM205.3 500.1h.8v.8h-.8zM204.0 496.4h.8v.8h-.8zM207.8 502.5h.8v.8h-.8zM205.6 486.7h.8v.8h-.8zM206.9 495.0h.8v.8h-.8zM214.2 496.0h.8v.8h-.8zM205.3 488.4h.8v.8h-.8zM206.4 493.2h.8v.8h-.8zM206.6 493.4h.8v.8h-.8zM206.4 496.9h.8v.8h-.8zM206.3 488.4h.8v.8h-.8zM203.7 498.7h.8v.8h-.8zM201.2 486.6h.8v.8h-.8zM204.6 491.7h.8v.8h-.8zM210.2 498.6h.8v.8h-.8zM202.7 497.3h.8v.8h-.8zM207.7 498.0h.8v.8h-.8zM212.6 483.5h.8v.8h-.8zM204.4 501.3h.8v.8h-.8zM210.2 485.2h.8v.8h-.8zM203.8 505.2h.8v.8h-.8zM205.6 498.1h.8v.8h-.8z" fill="#000"/>
<path d="M191.50,480.50 C194.92,480.67 199.25,481.08 201.50,483.00 C203.75,484.92 205.00,488.67 205.00,492.00 C205.00,495.33 203.67,500.47 201.50,503.00 C199.33,505.53 195.08,506.37 192.00,507.20 C188.92,508.03 185.33,509.12 183.00,508.00 C180.67,506.88 179.33,503.50 178.00,500.50 C176.67,497.50 174.50,493.08 175.00,490.00 C175.50,486.92 178.25,483.58 181.00,482.00 C183.75,480.42 188.08,480.33 191.50,480.50Z" fill="#fff"/>
<path d="M191.50,480.50 C194.92,480.67 199.25,481.08 201.50,483.00 C203.75,484.92 205.00,488.67 205.00,492.00 C205.00,495.33 203.67,500.47 201.50,503.00 C199.33,505.53 195.08,506.37 192.00,507.20 C188.92,508.03 185.33,509.12 183.00,508.00 C180.67,506.88 179.33,503.50 178.00,500.50 C176.67,497.50 174.50,493.08 175.00,490.00 C175.50,486.92 178.25,483.58 181.00,482.00 C183.75,480.42 188.08,480.33 191.50,480.50Z" fill="none" stroke="#000" stroke-width="0.85"/>
<path d="M191.50,480.80 C194.76,480.94 198.91,481.56 201.09,483.43 C203.27,485.31 204.57,488.84 204.59,492.05 C204.60,495.25 203.27,500.23 201.17,502.68 C199.07,505.14 194.92,506.03 191.98,506.76 C189.05,507.49 185.76,508.18 183.54,507.08 C181.32,505.98 179.91,502.97 178.66,500.16 C177.41,497.35 175.57,493.15 176.05,490.22 C176.53,487.30 178.97,484.17 181.55,482.60 C184.12,481.03 188.24,480.66 191.50,480.80Z" fill="none" stroke="#000" stroke-width="0.85"/>
<path d="M191.50,481.10 C194.60,481.21 198.56,482.04 200.67,483.87 C202.78,485.70 204.14,489.01 204.17,492.09 C204.20,495.18 202.87,500.00 200.83,502.37 C198.80,504.74 194.76,505.68 191.97,506.32 C189.17,506.95 186.18,507.25 184.07,506.17 C181.97,505.09 180.48,502.44 179.32,499.82 C178.15,497.20 176.64,493.21 177.10,490.45 C177.56,487.68 179.70,484.76 182.10,483.20 C184.50,481.65 188.40,480.99 191.50,481.10Z" fill="none" stroke="#000" stroke-width="0.85"/>
<path d="M191.50,481.40 C194.44,481.48 198.22,482.51 200.26,484.30 C202.30,486.09 203.72,489.18 203.76,492.14 C203.80,495.10 202.47,499.76 200.50,502.05 C198.53,504.34 194.60,505.34 191.95,505.88 C189.30,506.41 186.61,506.32 184.61,505.25 C182.61,504.19 181.05,501.91 179.97,499.48 C178.90,497.05 177.70,493.28 178.15,490.67 C178.60,488.06 180.42,485.35 182.65,483.80 C184.87,482.26 188.56,481.32 191.50,481.40Z" fill="none" stroke="#000" stroke-width="0.85"/>
<path d="M191.50,481.70 C194.27,481.76 197.87,482.99 199.84,484.74 C201.82,486.49 203.29,489.35 203.34,492.18 C203.40,495.02 202.07,499.53 200.17,501.74 C198.27,503.94 194.44,505.00 191.94,505.43 C189.43,505.87 187.03,505.39 185.15,504.34 C183.26,503.29 181.62,501.38 180.63,499.13 C179.64,496.89 178.77,493.35 179.20,490.89 C179.63,488.44 181.15,485.94 183.20,484.41 C185.25,482.87 188.73,481.64 191.50,481.70Z" fill="none" stroke="#000" stroke-width="0.85"/>
<path d="M191.50,482.00 C194.11,482.03 197.53,483.47 199.43,485.17 C201.34,486.88 202.86,489.52 202.93,492.23 C203.00,494.94 201.67,499.29 199.84,501.42 C198.00,503.55 194.28,504.66 191.92,504.99 C189.56,505.33 187.46,504.45 185.68,503.42 C183.91,502.39 182.20,500.84 181.29,498.79 C180.39,496.74 179.84,493.41 180.25,491.11 C180.66,488.82 181.87,486.53 183.75,485.01 C185.62,483.49 188.89,481.97 191.50,482.00Z" fill="#000"/>
<path d="M173.10,511.50 C175.68,511.25 178.52,511.97 180.50,513.00 C182.48,514.03 184.33,514.87 185.00,517.70 C185.67,520.53 184.83,525.62 184.50,530.00 C184.17,534.38 186.33,541.67 183.00,544.00 C179.67,546.33 168.08,546.00 164.50,544.00 C160.92,542.00 162.17,535.62 161.50,532.00 C160.83,528.38 159.92,525.22 160.50,522.30 C161.08,519.38 162.90,516.30 165.00,514.50 C167.10,512.70 170.52,511.75 173.10,511.50Z" fill="#fff"/>
<path d="M173.10,511.50 C175.68,511.25 178.52,511.97 180.50,513.00 C182.48,514.03 184.33,514.87 185.00,517.70 C185.67,520.53 184.83,525.62 184.50,530.00 C184.17,534.38 186.33,541.67 183.00,544.00 C179.67,546.33 168.08,546.00 164.50,544.00 C160.92,542.00 162.17,535.62 161.50,532.00 C160.83,528.38 159.92,525.22 160.50,522.30 C161.08,519.38 162.90,516.30 165.00,514.50 C167.10,512.70 170.52,511.75 173.10,511.50Z" fill="none" stroke="#000" stroke-width="0.85"/>
<path d="M173.17,512.96 C175.56,512.73 178.18,513.39 180.01,514.35 C181.85,515.31 183.56,516.08 184.18,518.70 C184.79,521.32 184.02,526.02 183.71,530.08 C183.40,534.13 185.41,540.87 182.32,543.02 C179.24,545.18 168.53,544.88 165.21,543.02 C161.90,541.17 163.05,535.27 162.44,531.92 C161.82,528.58 160.97,525.65 161.51,522.95 C162.05,520.25 163.73,517.40 165.68,515.74 C167.62,514.07 170.78,513.19 173.17,512.96Z" fill="none" stroke="#000" stroke-width="0.85"/>
<path d="M173.24,514.42 C175.43,514.21 177.84,514.82 179.53,515.70 C181.21,516.58 182.78,517.29 183.35,519.70 C183.92,522.10 183.21,526.42 182.93,530.15 C182.64,533.88 184.48,540.07 181.65,542.05 C178.82,544.03 168.97,543.75 165.93,542.05 C162.88,540.35 163.94,534.92 163.38,531.85 C162.81,528.78 162.03,526.08 162.53,523.61 C163.02,521.13 164.56,518.50 166.35,516.98 C168.13,515.45 171.04,514.64 173.24,514.42Z" fill="none" stroke="#000" stroke-width="0.85"/>
<path d="M173.30,515.89 C175.30,515.69 177.50,516.25 179.04,517.05 C180.57,517.85 182.01,518.50 182.52,520.69 C183.04,522.89 182.40,526.83 182.14,530.22 C181.88,533.62 183.56,539.27 180.98,541.08 C178.39,542.88 169.41,542.62 166.64,541.08 C163.86,539.53 164.83,534.58 164.31,531.78 C163.80,528.97 163.09,526.52 163.54,524.26 C163.99,522.00 165.40,519.61 167.02,518.21 C168.65,516.82 171.30,516.08 173.30,515.89Z" fill="none" stroke="#000" stroke-width="0.85"/>
<path d="M173.37,517.35 C175.18,517.17 177.16,517.68 178.55,518.40 C179.94,519.12 181.23,519.71 181.70,521.69 C182.17,523.67 181.58,527.23 181.35,530.30 C181.12,533.37 182.63,538.47 180.30,540.10 C177.97,541.73 169.86,541.50 167.35,540.10 C164.84,538.70 165.72,534.23 165.25,531.70 C164.78,529.17 164.14,526.95 164.55,524.91 C164.96,522.87 166.23,520.71 167.70,519.45 C169.17,518.19 171.56,517.53 173.37,517.35Z" fill="#000"/>
<circle cx="174.20" cy="524.60" r="0.7" fill="#fff"/>
<circle cx="174.50" cy="532.00" r="0.4" fill="#fff"/>
<ellipse cx="191.80" cy="493.50" rx="3.00" ry="3.00" fill="none" stroke="#fff" stroke-width="0.45" opacity="0.3"/>
<ellipse cx="191.80" cy="493.50" rx="6.00" ry="6.00" fill="none" stroke="#fff" stroke-width="0.45" opacity="0.3"/>
<ellipse cx="174.00" cy="527.00" rx="3.00" ry="4.50" fill="none" stroke="#fff" stroke-width="0.45" opacity="0.35"/>
<rect x="163.00" y="539.80" width="21.00" height="2.50" fill="#000"/>
</g>
<rect x="149.50" y="458.70" width="82.80" height="82.90" fill="none" stroke="#000" stroke-width="1.4"/>
<line x1="146.10" y1="541.60" x2="149.50" y2="541.60" stroke="#000" stroke-width="1.1"/>
<line x1="149.50" y1="541.60" x2="149.50" y2="545.00" stroke="#000" stroke-width="1.1"/>
<line x1="147.80" y1="535.36" x2="149.50" y2="535.36" stroke="#000" stroke-width="0.6"/>
<line x1="155.74" y1="541.60" x2="155.74" y2="543.30" stroke="#000" stroke-width="0.6"/>
<line x1="147.80" y1="531.71" x2="149.50" y2="531.71" stroke="#000" stroke-width="0.6"/>
<line x1="159.39" y1="541.60" x2="159.39" y2="543.30" stroke="#000" stroke-width="0.6"/>
<line x1="147.80" y1="529.12" x2="149.50" y2="529.12" stroke="#000" stroke-width="0.6"/>
<line x1="161.98" y1="541.60" x2="161.98" y2="543.30" stroke="#000" stroke-width="0.6"/>
<line x1="147.80" y1="527.11" x2="149.50" y2="527.11" stroke="#000" stroke-width="0.6"/>
<line x1="163.99" y1="541.60" x2="163.99" y2="543.30" stroke="#000" stroke-width="0.6"/>
<line x1="147.80" y1="525.47" x2="149.50" y2="525.47" stroke="#000" stroke-width="0.6"/>
<line x1="165.63" y1="541.60" x2="165.63" y2="543.30" stroke="#000" stroke-width="0.6"/>
<line x1="147.80" y1="524.09" x2="149.50" y2="524.09" stroke="#000" stroke-width="0.6"/>
<line x1="167.01" y1="541.60" x2="167.01" y2="543.30" stroke="#000" stroke-width="0.6"/>
<line x1="147.80" y1="522.88" x2="149.50" y2="522.88" stroke="#000" stroke-width="0.6"/>
<line x1="168.22" y1="541.60" x2="168.22" y2="543.30" stroke="#000" stroke-width="0.6"/>
<line x1="147.80" y1="521.82" x2="149.50" y2="521.82" stroke="#000" stroke-width="0.6"/>
<line x1="169.28" y1="541.60" x2="169.28" y2="543.30" stroke="#000" stroke-width="0.6"/>
<text x="149.70" y="556.5" font-size="7.6" text-anchor="middle" fill="#111">10<tspan font-size="4.2" dy="-3.6">0</tspan></text>
<line x1="146.10" y1="520.88" x2="149.50" y2="520.88" stroke="#000" stroke-width="1.1"/>
<line x1="170.23" y1="541.60" x2="170.23" y2="545.00" stroke="#000" stroke-width="1.1"/>
<line x1="147.80" y1="514.64" x2="149.50" y2="514.64" stroke="#000" stroke-width="0.6"/>
<line x1="176.46" y1="541.60" x2="176.46" y2="543.30" stroke="#000" stroke-width="0.6"/>
<line x1="147.80" y1="510.99" x2="149.50" y2="510.99" stroke="#000" stroke-width="0.6"/>
<line x1="180.11" y1="541.60" x2="180.11" y2="543.30" stroke="#000" stroke-width="0.6"/>
<line x1="147.80" y1="508.40" x2="149.50" y2="508.40" stroke="#000" stroke-width="0.6"/>
<line x1="182.70" y1="541.60" x2="182.70" y2="543.30" stroke="#000" stroke-width="0.6"/>
<line x1="147.80" y1="506.39" x2="149.50" y2="506.39" stroke="#000" stroke-width="0.6"/>
<line x1="184.71" y1="541.60" x2="184.71" y2="543.30" stroke="#000" stroke-width="0.6"/>
<line x1="147.80" y1="504.75" x2="149.50" y2="504.75" stroke="#000" stroke-width="0.6"/>
<line x1="186.35" y1="541.60" x2="186.35" y2="543.30" stroke="#000" stroke-width="0.6"/>
<line x1="147.80" y1="503.36" x2="149.50" y2="503.36" stroke="#000" stroke-width="0.6"/>
<line x1="187.74" y1="541.60" x2="187.74" y2="543.30" stroke="#000" stroke-width="0.6"/>
<line x1="147.80" y1="502.16" x2="149.50" y2="502.16" stroke="#000" stroke-width="0.6"/>
<line x1="188.94" y1="541.60" x2="188.94" y2="543.30" stroke="#000" stroke-width="0.6"/>
<line x1="147.80" y1="501.10" x2="149.50" y2="501.10" stroke="#000" stroke-width="0.6"/>
<line x1="190.00" y1="541.60" x2="190.00" y2="543.30" stroke="#000" stroke-width="0.6"/>
<text x="170.43" y="556.5" font-size="7.6" text-anchor="middle" fill="#111">10<tspan font-size="4.2" dy="-3.6">1</tspan></text>
<line x1="146.10" y1="500.15" x2="149.50" y2="500.15" stroke="#000" stroke-width="1.1"/>
<line x1="190.95" y1="541.60" x2="190.95" y2="545.00" stroke="#000" stroke-width="1.1"/>
<line x1="147.80" y1="493.91" x2="149.50" y2="493.91" stroke="#000" stroke-width="0.6"/>
<line x1="197.19" y1="541.60" x2="197.19" y2="543.30" stroke="#000" stroke-width="0.6"/>
<line x1="147.80" y1="490.26" x2="149.50" y2="490.26" stroke="#000" stroke-width="0.6"/>
<line x1="200.84" y1="541.60" x2="200.84" y2="543.30" stroke="#000" stroke-width="0.6"/>
<line x1="147.80" y1="487.67" x2="149.50" y2="487.67" stroke="#000" stroke-width="0.6"/>
<line x1="203.43" y1="541.60" x2="203.43" y2="543.30" stroke="#000" stroke-width="0.6"/>
<line x1="147.80" y1="485.66" x2="149.50" y2="485.66" stroke="#000" stroke-width="0.6"/>
<line x1="205.44" y1="541.60" x2="205.44" y2="543.30" stroke="#000" stroke-width="0.6"/>
<line x1="147.80" y1="484.02" x2="149.50" y2="484.02" stroke="#000" stroke-width="0.6"/>
<line x1="207.08" y1="541.60" x2="207.08" y2="543.30" stroke="#000" stroke-width="0.6"/>
<line x1="147.80" y1="482.64" x2="149.50" y2="482.64" stroke="#000" stroke-width="0.6"/>
<line x1="208.46" y1="541.60" x2="208.46" y2="543.30" stroke="#000" stroke-width="0.6"/>
<line x1="147.80" y1="481.43" x2="149.50" y2="481.43" stroke="#000" stroke-width="0.6"/>
<line x1="209.67" y1="541.60" x2="209.67" y2="543.30" stroke="#000" stroke-width="0.6"/>
<line x1="147.80" y1="480.37" x2="149.50" y2="480.37" stroke="#000" stroke-width="0.6"/>
<line x1="210.73" y1="541.60" x2="210.73" y2="543.30" stroke="#000" stroke-width="0.6"/>
<text x="191.15" y="556.5" font-size="7.6" text-anchor="middle" fill="#111">10<tspan font-size="4.2" dy="-3.6">2</tspan></text>
<line x1="146.10" y1="479.43" x2="149.50" y2="479.43" stroke="#000" stroke-width="1.1"/>
<line x1="211.68" y1="541.60" x2="211.68" y2="545.00" stroke="#000" stroke-width="1.1"/>
<line x1="147.80" y1="473.19" x2="149.50" y2="473.19" stroke="#000" stroke-width="0.6"/>
<line x1="217.91" y1="541.60" x2="217.91" y2="543.30" stroke="#000" stroke-width="0.6"/>
<line x1="147.80" y1="469.54" x2="149.50" y2="469.54" stroke="#000" stroke-width="0.6"/>
<line x1="221.56" y1="541.60" x2="221.56" y2="543.30" stroke="#000" stroke-width="0.6"/>
<line x1="147.80" y1="466.95" x2="149.50" y2="466.95" stroke="#000" stroke-width="0.6"/>
<line x1="224.15" y1="541.60" x2="224.15" y2="543.30" stroke="#000" stroke-width="0.6"/>
<line x1="147.80" y1="464.94" x2="149.50" y2="464.94" stroke="#000" stroke-width="0.6"/>
<line x1="226.16" y1="541.60" x2="226.16" y2="543.30" stroke="#000" stroke-width="0.6"/>
<line x1="147.80" y1="463.30" x2="149.50" y2="463.30" stroke="#000" stroke-width="0.6"/>
<line x1="227.80" y1="541.60" x2="227.80" y2="543.30" stroke="#000" stroke-width="0.6"/>
<line x1="147.80" y1="461.91" x2="149.50" y2="461.91" stroke="#000" stroke-width="0.6"/>
<line x1="229.19" y1="541.60" x2="229.19" y2="543.30" stroke="#000" stroke-width="0.6"/>
<line x1="147.80" y1="460.71" x2="149.50" y2="460.71" stroke="#000" stroke-width="0.6"/>
<line x1="230.39" y1="541.60" x2="230.39" y2="543.30" stroke="#000" stroke-width="0.6"/>
<line x1="147.80" y1="459.65" x2="149.50" y2="459.65" stroke="#000" stroke-width="0.6"/>
<line x1="231.45" y1="541.60" x2="231.45" y2="543.30" stroke="#000" stroke-width="0.6"/>
<text x="211.88" y="556.5" font-size="7.6" text-anchor="middle" fill="#111">10<tspan font-size="4.2" dy="-3.6">3</tspan></text>
<line x1="146.10" y1="458.70" x2="149.50" y2="458.70" stroke="#000" stroke-width="1.1"/>
<line x1="232.40" y1="541.60" x2="232.40" y2="545.00" stroke="#000" stroke-width="1.1"/>
<text x="232.60" y="556.5" font-size="7.6" text-anchor="middle" fill="#111">10<tspan font-size="4.2" dy="-3.6">4</tspan></text>
<text x="231.30" y="466.20" font-size="7.4" text-anchor="end" fill="#111" stroke-width="0">2.0%</text>
<text x="253.20" y="452.60" font-size="10" textLength="69.2" lengthAdjust="spacingAndGlyphs" fill="#111">Patient F1: III-1</text>
<line x1="246.40" y1="481.70" x2="329.20" y2="481.70" stroke="#000" stroke-width="1.3"/>
<polyline points="246.40,508.4 278.40,508.4 288.90,521.2 329.20,521.2" fill="none" stroke="#000" stroke-width="1.3"/>
<clipPath id="cp2"><rect x="246.4" y="458.7" width="82.8" height="82.90000000000003"/></clipPath>
<g clip-path="url(#cp2)">
<path d="M291.8 495.8h.8v.8h-.8zM268.4 515.8h.8v.8h-.8zM289.4 503.2h.8v.8h-.8zM287.7 531.8h.8v.8h-.8zM298.8 523.9h.8v.8h-.8zM281.0 484.8h.8v.8h-.8zM270.1 489.7h.8v.8h-.8zM287.4 497.5h.8v.8h-.8zM298.2 486.7h.8v.8h-.8zM289.0 513.7h.8v.8h-.8zM262.0 536.1h.8v.8h-.8zM287.4 509.9h.8v.8h-.8zM269.8 480.9h.8v.8h-.8zM310.6 483.0h.8v.8h-.8zM279.2 506.7h.8v.8h-.8zM307.4 501.8h.8v.8h-.8zM298.8 471.5h.8v.8h-.8zM289.9 533.5h.8v.8h-.8zM283.8 480.7h.8v.8h-.8zM278.8 483.0h.8v.8h-.8zM297.2 500.1h.8v.8h-.8zM277.9 514.1h.8v.8h-.8zM268.9 461.7h.8v.8h-.8zM322.2 480.5h.8v.8h-.8zM309.7 493.4h.8v.8h-.8zM282.0 507.9h.8v.8h-.8zM272.5 475.6h.8v.8h-.8zM282.2 486.3h.8v.8h-.8zM267.6 474.8h.8v.8h-.8zM296.7 507.6h.8v.8h-.8zM302.1 478.0h.8v.8h-.8zM294.3 494.2h.8v.8h-.8zM260.9 506.1h.8v.8h-.8zM261.8 508.2h.8v.8h-.8zM278.5 490.8h.8v.8h-.8zM317.5 531.6h.8v.8h-.8zM291.7 504.8h.8v.8h-.8zM273.7 524.9h.8v.8h-.8zM294.7 475.2h.8v.8h-.8zM260.3 495.5h.8v.8h-.8zM282.6 515.9h.8v.8h-.8zM269.9 474.6h.8v.8h-.8zM291.6 497.5h.8v.8h-.8zM299.6 521.9h.8v.8h-.8zM286.2 478.2h.8v.8h-.8zM283.8 497.7h.8v.8h-.8zM276.9 507.7h.8v.8h-.8zM286.9 501.0h.8v.8h-.8zM304.8 526.1h.8v.8h-.8zM303.4 504.4h.8v.8h-.8zM287.5 508.9h.8v.8h-.8zM290.1 478.3h.8v.8h-.8zM291.2 517.2h.8v.8h-.8zM279.2 469.8h.8v.8h-.8zM294.0 477.8h.8v.8h-.8zM263.0 489.7h.8v.8h-.8zM263.4 503.4h.8v.8h-.8zM277.7 497.4h.8v.8h-.8zM302.5 521.9h.8v.8h-.8zM278.2 468.1h.8v.8h-.8zM298.8 532.3h.8v.8h-.8zM295.8 510.7h.8v.8h-.8zM293.7 511.6h.8v.8h-.8zM279.8 516.7h.8v.8h-.8zM304.9 503.5h.8v.8h-.8zM267.0 522.7h.8v.8h-.8zM306.8 526.6h.8v.8h-.8zM250.1 509.4h.8v.8h-.8zM319.7 480.6h.8v.8h-.8zM263.7 525.5h.8v.8h-.8zM276.8 492.2h.8v.8h-.8zM313.5 490.8h.8v.8h-.8zM263.4 477.0h.8v.8h-.8zM275.3 516.2h.8v.8h-.8zM277.2 522.1h.8v.8h-.8zM252.7 479.8h.8v.8h-.8zM297.9 498.5h.8v.8h-.8zM287.8 535.4h.8v.8h-.8zM269.8 474.4h.8v.8h-.8zM250.1 498.7h.8v.8h-.8zM271.4 498.0h.8v.8h-.8zM247.9 459.7h.8v.8h-.8zM278.1 521.0h.8v.8h-.8zM271.7 533.5h.8v.8h-.8zM294.2 492.3h.8v.8h-.8zM310.2 478.6h.8v.8h-.8zM296.3 528.2h.8v.8h-.8zM291.1 485.6h.8v.8h-.8zM255.2 506.1h.8v.8h-.8z" fill="#000"/>
<path d="M282.90,465.00 C286.17,465.53 294.55,467.68 297.90,470.00 C301.25,472.32 302.25,475.98 303.00,478.90 C303.75,481.82 303.02,484.62 302.40,487.50 C301.78,490.38 300.03,493.48 299.30,496.20 C298.57,498.92 299.25,501.90 298.00,503.80 C296.75,505.70 293.43,506.37 291.80,507.60 C290.17,508.83 289.00,509.62 288.20,511.20 C287.40,512.78 287.40,514.48 287.00,517.10 C286.60,519.72 286.30,523.62 285.80,526.90 C285.30,530.18 284.40,533.95 284.00,536.80 C283.60,539.65 287.57,542.80 283.40,544.00 C279.23,545.20 263.27,546.03 259.00,544.00 C254.73,541.97 257.90,535.47 257.80,531.80 C257.70,528.13 257.78,525.48 258.40,522.00 C259.02,518.52 260.57,514.60 261.50,510.90 C262.43,507.20 262.77,503.28 264.00,499.80 C265.23,496.32 267.17,492.87 268.90,490.00 C270.63,487.13 273.38,485.68 274.40,482.60 C275.42,479.52 274.35,474.13 275.00,471.50 C275.65,468.87 276.98,467.88 278.30,466.80 C279.62,465.72 279.63,464.47 282.90,465.00Z" fill="#fff"/>
<path d="M282.90,465.00 C286.17,465.53 294.55,467.68 297.90,470.00 C301.25,472.32 302.25,475.98 303.00,478.90 C303.75,481.82 303.02,484.62 302.40,487.50 C301.78,490.38 300.03,493.48 299.30,496.20 C298.57,498.92 299.25,501.90 298.00,503.80 C296.75,505.70 293.43,506.37 291.80,507.60 C290.17,508.83 289.00,509.62 288.20,511.20 C287.40,512.78 287.40,514.48 287.00,517.10 C286.60,519.72 286.30,523.62 285.80,526.90 C285.30,530.18 284.40,533.95 284.00,536.80 C283.60,539.65 287.57,542.80 283.40,544.00 C279.23,545.20 263.27,546.03 259.00,544.00 C254.73,541.97 257.90,535.47 257.80,531.80 C257.70,528.13 257.78,525.48 258.40,522.00 C259.02,518.52 260.57,514.60 261.50,510.90 C262.43,507.20 262.77,503.28 264.00,499.80 C265.23,496.32 267.17,492.87 268.90,490.00 C270.63,487.13 273.38,485.68 274.40,482.60 C275.42,479.52 274.35,474.13 275.00,471.50 C275.65,468.87 276.98,467.88 278.30,466.80 C279.62,465.72 279.63,464.47 282.90,465.00Z" fill="none" stroke="#000" stroke-width="0.8"/>
<path d="M282.92,466.00 C285.98,466.55 294.10,468.68 297.30,470.88 C300.50,473.07 301.42,476.40 302.12,479.17 C302.83,481.95 302.16,484.73 301.55,487.50 C300.94,490.27 299.28,493.22 298.48,495.77 C297.68,498.33 298.06,501.07 296.75,502.85 C295.44,504.63 292.22,505.21 290.60,506.45 C288.98,507.69 287.80,508.50 287.02,510.27 C286.25,512.05 286.33,514.30 285.95,517.08 C285.57,519.85 285.25,523.64 284.75,526.92 C284.25,530.21 283.36,533.95 282.95,536.80 C282.54,539.65 286.09,542.80 282.30,544.00 C278.51,545.20 264.08,546.03 260.20,544.00 C256.32,541.97 259.10,535.47 259.00,531.80 C258.90,528.13 258.98,525.48 259.60,522.00 C260.22,518.52 261.77,514.57 262.70,510.92 C263.63,507.27 263.98,503.50 265.20,500.10 C266.42,496.70 268.35,493.34 270.05,490.50 C271.75,487.66 274.43,486.18 275.42,483.08 C276.42,479.97 275.41,474.45 276.00,471.88 C276.59,469.30 277.82,468.58 278.98,467.60 C280.13,466.62 279.87,465.45 282.92,466.00Z" fill="none" stroke="#000" stroke-width="0.8"/>
<path d="M282.95,467.00 C285.79,467.56 293.65,469.68 296.70,471.75 C299.75,473.82 300.58,476.82 301.25,479.45 C301.92,482.07 301.30,484.85 300.70,487.50 C300.10,490.15 298.52,492.95 297.65,495.35 C296.78,497.75 296.88,500.24 295.50,501.90 C294.12,503.56 291.01,504.06 289.40,505.30 C287.79,506.54 286.60,507.39 285.85,509.35 C285.10,511.31 285.26,514.12 284.90,517.05 C284.54,519.98 284.20,523.66 283.70,526.95 C283.20,530.24 282.32,533.96 281.90,536.80 C281.48,539.64 284.62,542.80 281.20,544.00 C277.78,545.20 264.90,546.03 261.40,544.00 C257.90,541.97 260.30,535.47 260.20,531.80 C260.10,528.13 260.18,525.48 260.80,522.00 C261.42,518.52 262.97,514.55 263.90,510.95 C264.83,507.35 265.18,503.72 266.40,500.40 C267.62,497.07 269.52,493.81 271.20,491.00 C272.88,488.19 275.48,486.68 276.45,483.55 C277.42,480.43 276.47,474.77 277.00,472.25 C277.53,469.73 278.66,469.27 279.65,468.40 C280.64,467.52 280.11,466.44 282.95,467.00Z" fill="none" stroke="#000" stroke-width="0.8"/>
<path d="M282.98,468.00 C285.60,468.57 293.20,470.67 296.10,472.62 C299.00,474.58 299.75,477.25 300.38,479.73 C301.00,482.20 300.44,484.97 299.85,487.50 C299.26,490.03 297.76,492.68 296.82,494.93 C295.89,497.17 295.69,499.41 294.25,500.95 C292.81,502.49 289.80,502.90 288.20,504.15 C286.60,505.40 285.40,506.28 284.68,508.43 C283.95,510.57 284.19,513.93 283.85,517.02 C283.51,520.12 283.15,523.68 282.65,526.98 C282.15,530.27 281.28,533.96 280.85,536.80 C280.43,539.64 283.14,542.80 280.10,544.00 C277.06,545.20 265.72,546.03 262.60,544.00 C259.48,541.97 261.50,535.47 261.40,531.80 C261.30,528.13 261.38,525.47 262.00,522.00 C262.62,518.53 264.17,514.52 265.10,510.98 C266.03,507.43 266.39,503.95 267.60,500.70 C268.81,497.45 270.70,494.28 272.35,491.50 C274.00,488.72 276.53,487.17 277.48,484.02 C278.42,480.88 277.52,475.10 278.00,472.62 C278.48,470.15 279.50,469.97 280.32,469.20 C281.15,468.43 280.35,467.43 282.98,468.00Z" fill="none" stroke="#000" stroke-width="0.8"/>
<path d="M283.00,469.00 C285.42,469.58 292.75,471.67 295.50,473.50 C298.25,475.33 298.92,477.67 299.50,480.00 C300.08,482.33 299.58,485.08 299.00,487.50 C298.42,489.92 297.00,492.42 296.00,494.50 C295.00,496.58 294.50,498.58 293.00,500.00 C291.50,501.42 288.58,501.75 287.00,503.00 C285.42,504.25 284.20,505.17 283.50,507.50 C282.80,509.83 283.12,513.75 282.80,517.00 C282.48,520.25 282.10,523.70 281.60,527.00 C281.10,530.30 280.23,533.97 279.80,536.80 C279.37,539.63 281.67,542.80 279.00,544.00 C276.33,545.20 266.53,546.03 263.80,544.00 C261.07,541.97 262.70,535.47 262.60,531.80 C262.50,528.13 262.58,525.47 263.20,522.00 C263.82,518.53 265.37,514.50 266.30,511.00 C267.23,507.50 267.60,504.17 268.80,501.00 C270.00,497.83 271.88,494.75 273.50,492.00 C275.12,489.25 277.58,487.67 278.50,484.50 C279.42,481.33 278.58,475.42 279.00,473.00 C279.42,470.58 280.33,470.67 281.00,470.00 C281.67,469.33 280.58,468.42 283.00,469.00Z" fill="#000"/>
<circle cx="289.50" cy="477.50" r="0.9" fill="#fff"/>
<circle cx="289.80" cy="487.50" r="0.8" fill="#fff"/>
<circle cx="274.50" cy="518.50" r="0.9" fill="#fff"/>
<circle cx="276.00" cy="498.00" r="0.5" fill="#fff"/>
<circle cx="277.00" cy="504.00" r="0.5" fill="#fff"/>
<circle cx="286.00" cy="482.00" r="0.4" fill="#fff"/>
<ellipse cx="289.00" cy="482.50" rx="3.00" ry="4.00" fill="none" stroke="#fff" stroke-width="0.45" opacity="0.5"/>
<ellipse cx="289.00" cy="482.50" rx="6.00" ry="8.00" fill="none" stroke="#fff" stroke-width="0.45" opacity="0.5"/>
<ellipse cx="276.50" cy="501.00" rx="3.00" ry="3.25" fill="none" stroke="#fff" stroke-width="0.45" opacity="0.5"/>
<ellipse cx="274.50" cy="522.00" rx="3.00" ry="4.33" fill="none" stroke="#fff" stroke-width="0.45" opacity="0.5"/>
<ellipse cx="274.50" cy="522.00" rx="6.00" ry="8.67" fill="none" stroke="#fff" stroke-width="0.45" opacity="0.5"/>
</g>
<rect x="246.40" y="458.70" width="82.80" height="82.90" fill="none" stroke="#000" stroke-width="1.4"/>
<line x1="243.00" y1="541.60" x2="246.40" y2="541.60" stroke="#000" stroke-width="1.1"/>
<line x1="246.40" y1="541.60" x2="246.40" y2="545.00" stroke="#000" stroke-width="1.1"/>
<line x1="244.70" y1="535.36" x2="246.40" y2="535.36" stroke="#000" stroke-width="0.6"/>
<line x1="252.64" y1="541.60" x2="252.64" y2="543.30" stroke="#000" stroke-width="0.6"/>
<line x1="244.70" y1="531.71" x2="246.40" y2="531.71" stroke="#000" stroke-width="0.6"/>
<line x1="256.29" y1="541.60" x2="256.29" y2="543.30" stroke="#000" stroke-width="0.6"/>
<line x1="244.70" y1="529.12" x2="246.40" y2="529.12" stroke="#000" stroke-width="0.6"/>
<line x1="258.88" y1="541.60" x2="258.88" y2="543.30" stroke="#000" stroke-width="0.6"/>
<line x1="244.70" y1="527.11" x2="246.40" y2="527.11" stroke="#000" stroke-width="0.6"/>
<line x1="260.89" y1="541.60" x2="260.89" y2="543.30" stroke="#000" stroke-width="0.6"/>
<line x1="244.70" y1="525.47" x2="246.40" y2="525.47" stroke="#000" stroke-width="0.6"/>
<line x1="262.53" y1="541.60" x2="262.53" y2="543.30" stroke="#000" stroke-width="0.6"/>
<line x1="244.70" y1="524.09" x2="246.40" y2="524.09" stroke="#000" stroke-width="0.6"/>
<line x1="263.91" y1="541.60" x2="263.91" y2="543.30" stroke="#000" stroke-width="0.6"/>
<line x1="244.70" y1="522.88" x2="246.40" y2="522.88" stroke="#000" stroke-width="0.6"/>
<line x1="265.12" y1="541.60" x2="265.12" y2="543.30" stroke="#000" stroke-width="0.6"/>
<line x1="244.70" y1="521.82" x2="246.40" y2="521.82" stroke="#000" stroke-width="0.6"/>
<line x1="266.18" y1="541.60" x2="266.18" y2="543.30" stroke="#000" stroke-width="0.6"/>
<text x="246.60" y="556.5" font-size="7.6" text-anchor="middle" fill="#111">10<tspan font-size="4.2" dy="-3.6">0</tspan></text>
<line x1="243.00" y1="520.88" x2="246.40" y2="520.88" stroke="#000" stroke-width="1.1"/>
<line x1="267.12" y1="541.60" x2="267.12" y2="545.00" stroke="#000" stroke-width="1.1"/>
<line x1="244.70" y1="514.64" x2="246.40" y2="514.64" stroke="#000" stroke-width="0.6"/>
<line x1="273.36" y1="541.60" x2="273.36" y2="543.30" stroke="#000" stroke-width="0.6"/>
<line x1="244.70" y1="510.99" x2="246.40" y2="510.99" stroke="#000" stroke-width="0.6"/>
<line x1="277.01" y1="541.60" x2="277.01" y2="543.30" stroke="#000" stroke-width="0.6"/>
<line x1="244.70" y1="508.40" x2="246.40" y2="508.40" stroke="#000" stroke-width="0.6"/>
<line x1="279.60" y1="541.60" x2="279.60" y2="543.30" stroke="#000" stroke-width="0.6"/>
<line x1="244.70" y1="506.39" x2="246.40" y2="506.39" stroke="#000" stroke-width="0.6"/>
<line x1="281.61" y1="541.60" x2="281.61" y2="543.30" stroke="#000" stroke-width="0.6"/>
<line x1="244.70" y1="504.75" x2="246.40" y2="504.75" stroke="#000" stroke-width="0.6"/>
<line x1="283.25" y1="541.60" x2="283.25" y2="543.30" stroke="#000" stroke-width="0.6"/>
<line x1="244.70" y1="503.36" x2="246.40" y2="503.36" stroke="#000" stroke-width="0.6"/>
<line x1="284.64" y1="541.60" x2="284.64" y2="543.30" stroke="#000" stroke-width="0.6"/>
<line x1="244.70" y1="502.16" x2="246.40" y2="502.16" stroke="#000" stroke-width="0.6"/>
<line x1="285.84" y1="541.60" x2="285.84" y2="543.30" stroke="#000" stroke-width="0.6"/>
<line x1="244.70" y1="501.10" x2="246.40" y2="501.10" stroke="#000" stroke-width="0.6"/>
<line x1="286.90" y1="541.60" x2="286.90" y2="543.30" stroke="#000" stroke-width="0.6"/>
<text x="267.32" y="556.5" font-size="7.6" text-anchor="middle" fill="#111">10<tspan font-size="4.2" dy="-3.6">1</tspan></text>
<line x1="243.00" y1="500.15" x2="246.40" y2="500.15" stroke="#000" stroke-width="1.1"/>
<line x1="287.85" y1="541.60" x2="287.85" y2="545.00" stroke="#000" stroke-width="1.1"/>
<line x1="244.70" y1="493.91" x2="246.40" y2="493.91" stroke="#000" stroke-width="0.6"/>
<line x1="294.09" y1="541.60" x2="294.09" y2="543.30" stroke="#000" stroke-width="0.6"/>
<line x1="244.70" y1="490.26" x2="246.40" y2="490.26" stroke="#000" stroke-width="0.6"/>
<line x1="297.74" y1="541.60" x2="297.74" y2="543.30" stroke="#000" stroke-width="0.6"/>
<line x1="244.70" y1="487.67" x2="246.40" y2="487.67" stroke="#000" stroke-width="0.6"/>
<line x1="300.33" y1="541.60" x2="300.33" y2="543.30" stroke="#000" stroke-width="0.6"/>
<line x1="244.70" y1="485.66" x2="246.40" y2="485.66" stroke="#000" stroke-width="0.6"/>
<line x1="302.34" y1="541.60" x2="302.34" y2="543.30" stroke="#000" stroke-width="0.6"/>
<line x1="244.70" y1="484.02" x2="246.40" y2="484.02" stroke="#000" stroke-width="0.6"/>
<line x1="303.98" y1="541.60" x2="303.98" y2="543.30" stroke="#000" stroke-width="0.6"/>
<line x1="244.70" y1="482.64" x2="246.40" y2="482.64" stroke="#000" stroke-width="0.6"/>
<line x1="305.36" y1="541.60" x2="305.36" y2="543.30" stroke="#000" stroke-width="0.6"/>
<line x1="244.70" y1="481.43" x2="246.40" y2="481.43" stroke="#000" stroke-width="0.6"/>
<line x1="306.57" y1="541.60" x2="306.57" y2="543.30" stroke="#000" stroke-width="0.6"/>
<line x1="244.70" y1="480.37" x2="246.40" y2="480.37" stroke="#000" stroke-width="0.6"/>
<line x1="307.63" y1="541.60" x2="307.63" y2="543.30" stroke="#000" stroke-width="0.6"/>
<text x="288.05" y="556.5" font-size="7.6" text-anchor="middle" fill="#111">10<tspan font-size="4.2" dy="-3.6">2</tspan></text>
<line x1="243.00" y1="479.43" x2="246.40" y2="479.43" stroke="#000" stroke-width="1.1"/>
<line x1="308.58" y1="541.60" x2="308.58" y2="545.00" stroke="#000" stroke-width="1.1"/>
<line x1="244.70" y1="473.19" x2="246.40" y2="473.19" stroke="#000" stroke-width="0.6"/>
<line x1="314.81" y1="541.60" x2="314.81" y2="543.30" stroke="#000" stroke-width="0.6"/>
<line x1="244.70" y1="469.54" x2="246.40" y2="469.54" stroke="#000" stroke-width="0.6"/>
<line x1="318.46" y1="541.60" x2="318.46" y2="543.30" stroke="#000" stroke-width="0.6"/>
<line x1="244.70" y1="466.95" x2="246.40" y2="466.95" stroke="#000" stroke-width="0.6"/>
<line x1="321.05" y1="541.60" x2="321.05" y2="543.30" stroke="#000" stroke-width="0.6"/>
<line x1="244.70" y1="464.94" x2="246.40" y2="464.94" stroke="#000" stroke-width="0.6"/>
<line x1="323.06" y1="541.60" x2="323.06" y2="543.30" stroke="#000" stroke-width="0.6"/>
<line x1="244.70" y1="463.30" x2="246.40" y2="463.30" stroke="#000" stroke-width="0.6"/>
<line x1="324.70" y1="541.60" x2="324.70" y2="543.30" stroke="#000" stroke-width="0.6"/>
<line x1="244.70" y1="461.91" x2="246.40" y2="461.91" stroke="#000" stroke-width="0.6"/>
<line x1="326.09" y1="541.60" x2="326.09" y2="543.30" stroke="#000" stroke-width="0.6"/>
<line x1="244.70" y1="460.71" x2="246.40" y2="460.71" stroke="#000" stroke-width="0.6"/>
<line x1="327.29" y1="541.60" x2="327.29" y2="543.30" stroke="#000" stroke-width="0.6"/>
<line x1="244.70" y1="459.65" x2="246.40" y2="459.65" stroke="#000" stroke-width="0.6"/>
<line x1="328.35" y1="541.60" x2="328.35" y2="543.30" stroke="#000" stroke-width="0.6"/>
<text x="308.78" y="556.5" font-size="7.6" text-anchor="middle" fill="#111">10<tspan font-size="4.2" dy="-3.6">3</tspan></text>
<line x1="243.00" y1="458.70" x2="246.40" y2="458.70" stroke="#000" stroke-width="1.1"/>
<line x1="329.30" y1="541.60" x2="329.30" y2="545.00" stroke="#000" stroke-width="1.1"/>
<text x="329.50" y="556.5" font-size="7.6" text-anchor="middle" fill="#111">10<tspan font-size="4.2" dy="-3.6">4</tspan></text>
<text x="328.20" y="466.20" font-size="7.4" text-anchor="end" fill="#111" stroke-width="0">31.4%</text>
<text x="352.60" y="452.60" font-size="10" textLength="64.0" lengthAdjust="spacingAndGlyphs" fill="#111">Patient F1: I-3</text>
<line x1="343.20" y1="481.70" x2="426.00" y2="481.70" stroke="#000" stroke-width="1.3"/>
<polyline points="343.20,508.4 375.20,508.4 385.70,521.2 426.00,521.2" fill="none" stroke="#000" stroke-width="1.3"/>
<clipPath id="cp3"><rect x="343.2" y="458.7" width="82.8" height="82.90000000000003"/></clipPath>
<g clip-path="url(#cp3)">
<path d="M368.3 498.4h.8v.8h-.8zM379.8 511.2h.8v.8h-.8zM362.5 487.5h.8v.8h-.8zM365.5 491.1h.8v.8h-.8zM370.9 482.3h.8v.8h-.8zM374.0 481.0h.8v.8h-.8zM376.0 485.8h.8v.8h-.8zM374.2 498.2h.8v.8h-.8zM371.3 488.6h.8v.8h-.8zM366.5 483.6h.8v.8h-.8zM383.4 499.8h.8v.8h-.8zM385.8 497.7h.8v.8h-.8zM374.6 488.7h.8v.8h-.8zM370.3 479.6h.8v.8h-.8zM379.4 503.5h.8v.8h-.8zM383.0 508.0h.8v.8h-.8zM364.7 470.7h.8v.8h-.8zM377.8 496.6h.8v.8h-.8zM365.0 485.6h.8v.8h-.8zM378.1 511.1h.8v.8h-.8zM375.4 487.7h.8v.8h-.8zM378.3 504.6h.8v.8h-.8zM363.4 501.3h.8v.8h-.8zM365.0 494.4h.8v.8h-.8zM375.7 494.7h.8v.8h-.8zM361.1 497.8h.8v.8h-.8zM361.7 500.7h.8v.8h-.8zM358.0 489.4h.8v.8h-.8zM368.5 487.4h.8v.8h-.8zM373.7 496.5h.8v.8h-.8zM385.5 498.4h.8v.8h-.8zM380.2 483.4h.8v.8h-.8zM380.0 502.4h.8v.8h-.8zM382.2 507.6h.8v.8h-.8zM365.5 481.6h.8v.8h-.8zM366.4 488.1h.8v.8h-.8zM382.4 475.3h.8v.8h-.8zM372.4 503.6h.8v.8h-.8zM370.9 480.5h.8v.8h-.8zM365.5 499.2h.8v.8h-.8zM377.5 492.5h.8v.8h-.8zM374.6 507.3h.8v.8h-.8zM369.5 512.9h.8v.8h-.8zM364.7 512.2h.8v.8h-.8zM361.4 506.8h.8v.8h-.8zM372.1 479.4h.8v.8h-.8zM372.9 499.3h.8v.8h-.8zM376.3 495.1h.8v.8h-.8zM370.7 491.2h.8v.8h-.8zM372.7 505.6h.8v.8h-.8zM375.5 500.7h.8v.8h-.8zM373.4 507.4h.8v.8h-.8zM389.8 515.1h.8v.8h-.8zM363.0 485.7h.8v.8h-.8zM364.2 490.6h.8v.8h-.8zM386.6 490.5h.8v.8h-.8zM372.8 492.0h.8v.8h-.8zM357.9 482.6h.8v.8h-.8zM366.6 485.8h.8v.8h-.8zM369.4 489.5h.8v.8h-.8zM370.3 478.4h.8v.8h-.8zM379.5 498.7h.8v.8h-.8zM366.6 489.3h.8v.8h-.8zM365.4 475.5h.8v.8h-.8zM377.0 489.7h.8v.8h-.8zM379.9 508.4h.8v.8h-.8zM362.0 483.0h.8v.8h-.8zM375.9 488.7h.8v.8h-.8zM366.9 490.0h.8v.8h-.8zM375.2 480.8h.8v.8h-.8zM372.6 504.6h.8v.8h-.8zM367.8 490.3h.8v.8h-.8zM375.3 503.3h.8v.8h-.8zM379.4 498.6h.8v.8h-.8zM384.2 487.8h.8v.8h-.8zM384.3 499.6h.8v.8h-.8zM369.7 480.2h.8v.8h-.8zM383.7 496.5h.8v.8h-.8zM376.2 509.3h.8v.8h-.8zM369.1 501.7h.8v.8h-.8zM378.6 510.0h.8v.8h-.8zM374.5 512.0h.8v.8h-.8zM368.0 493.6h.8v.8h-.8zM367.2 484.8h.8v.8h-.8zM384.9 496.8h.8v.8h-.8zM371.8 496.0h.8v.8h-.8zM373.2 479.6h.8v.8h-.8zM368.6 497.8h.8v.8h-.8zM362.8 492.0h.8v.8h-.8zM369.0 484.3h.8v.8h-.8zM361.8 488.1h.8v.8h-.8zM373.6 499.3h.8v.8h-.8zM360.3 495.5h.8v.8h-.8zM376.5 477.3h.8v.8h-.8zM361.7 499.3h.8v.8h-.8zM377.5 499.5h.8v.8h-.8zM384.1 501.0h.8v.8h-.8zM382.4 494.0h.8v.8h-.8zM372.1 485.3h.8v.8h-.8zM372.8 490.4h.8v.8h-.8zM367.5 500.1h.8v.8h-.8zM374.8 489.8h.8v.8h-.8zM373.6 497.3h.8v.8h-.8zM375.4 487.5h.8v.8h-.8zM377.0 489.5h.8v.8h-.8zM374.4 488.9h.8v.8h-.8zM387.4 480.0h.8v.8h-.8zM379.8 484.4h.8v.8h-.8zM384.3 481.9h.8v.8h-.8zM377.5 492.4h.8v.8h-.8zM379.1 481.3h.8v.8h-.8zM369.6 498.5h.8v.8h-.8zM378.4 488.0h.8v.8h-.8zM357.7 490.5h.8v.8h-.8zM366.7 494.7h.8v.8h-.8zM368.6 483.8h.8v.8h-.8zM370.5 507.7h.8v.8h-.8zM376.3 490.2h.8v.8h-.8zM376.5 480.1h.8v.8h-.8zM367.5 493.2h.8v.8h-.8zM369.1 487.7h.8v.8h-.8zM371.9 511.6h.8v.8h-.8zM371.6 497.9h.8v.8h-.8zM384.8 469.9h.8v.8h-.8zM369.6 502.6h.8v.8h-.8zM360.8 489.8h.8v.8h-.8zM382.1 495.0h.8v.8h-.8zM373.7 514.6h.8v.8h-.8zM357.5 505.0h.8v.8h-.8zM362.3 498.0h.8v.8h-.8zM376.6 495.4h.8v.8h-.8zM370.1 502.3h.8v.8h-.8zM375.4 502.3h.8v.8h-.8zM379.7 500.1h.8v.8h-.8zM385.4 489.9h.8v.8h-.8zM357.7 476.3h.8v.8h-.8zM370.7 481.4h.8v.8h-.8zM369.2 495.0h.8v.8h-.8zM383.7 482.1h.8v.8h-.8zM375.6 481.1h.8v.8h-.8zM378.8 473.0h.8v.8h-.8zM383.8 491.3h.8v.8h-.8zM388.9 496.2h.8v.8h-.8zM365.0 489.9h.8v.8h-.8zM367.0 497.0h.8v.8h-.8zM381.5 496.7h.8v.8h-.8zM369.8 491.4h.8v.8h-.8zM385.4 484.9h.8v.8h-.8zM377.7 485.6h.8v.8h-.8zM366.1 500.7h.8v.8h-.8zM360.0 510.3h.8v.8h-.8zM385.1 484.7h.8v.8h-.8zM363.7 492.7h.8v.8h-.8zM369.8 487.1h.8v.8h-.8zM380.2 517.9h.8v.8h-.8zM371.3 501.1h.8v.8h-.8zM369.0 494.2h.8v.8h-.8zM367.9 493.2h.8v.8h-.8zM373.4 490.7h.8v.8h-.8zM373.8 487.3h.8v.8h-.8zM375.0 478.3h.8v.8h-.8zM376.2 492.5h.8v.8h-.8zM375.9 493.5h.8v.8h-.8zM371.5 494.9h.8v.8h-.8zM369.1 494.1h.8v.8h-.8zM356.7 486.8h.8v.8h-.8zM374.0 481.3h.8v.8h-.8zM389.3 508.2h.8v.8h-.8zM360.7 510.5h.8v.8h-.8zM375.6 500.0h.8v.8h-.8zM383.0 489.2h.8v.8h-.8zM375.0 503.2h.8v.8h-.8zM366.9 492.2h.8v.8h-.8zM372.6 497.7h.8v.8h-.8zM364.8 493.4h.8v.8h-.8zM367.3 502.3h.8v.8h-.8zM368.1 501.3h.8v.8h-.8zM372.3 488.9h.8v.8h-.8zM378.3 499.5h.8v.8h-.8zM370.0 503.9h.8v.8h-.8zM382.8 477.2h.8v.8h-.8zM378.4 475.5h.8v.8h-.8zM372.8 502.2h.8v.8h-.8zM376.4 498.8h.8v.8h-.8zM371.7 500.7h.8v.8h-.8zM363.7 512.5h.8v.8h-.8zM357.1 492.2h.8v.8h-.8zM360.5 491.4h.8v.8h-.8zM367.5 483.4h.8v.8h-.8zM380.4 488.5h.8v.8h-.8zM366.9 493.9h.8v.8h-.8zM378.0 499.6h.8v.8h-.8zM368.9 496.6h.8v.8h-.8zM373.3 493.5h.8v.8h-.8zM367.1 496.4h.8v.8h-.8zM360.8 503.3h.8v.8h-.8zM378.9 492.0h.8v.8h-.8zM368.5 475.5h.8v.8h-.8zM370.2 502.8h.8v.8h-.8zM359.8 501.0h.8v.8h-.8zM367.1 512.1h.8v.8h-.8zM376.2 506.5h.8v.8h-.8zM370.7 492.3h.8v.8h-.8zM365.8 509.1h.8v.8h-.8zM370.0 495.8h.8v.8h-.8zM363.4 496.1h.8v.8h-.8zM364.8 495.8h.8v.8h-.8zM381.7 488.9h.8v.8h-.8zM364.8 497.4h.8v.8h-.8zM372.6 487.4h.8v.8h-.8zM360.2 495.7h.8v.8h-.8zM375.3 496.7h.8v.8h-.8zM381.9 498.2h.8v.8h-.8zM375.2 481.4h.8v.8h-.8zM370.7 492.4h.8v.8h-.8zM366.9 501.6h.8v.8h-.8zM369.2 499.8h.8v.8h-.8zM368.5 498.7h.8v.8h-.8zM380.2 499.0h.8v.8h-.8zM379.4 495.5h.8v.8h-.8zM361.6 503.5h.8v.8h-.8zM369.9 484.4h.8v.8h-.8zM383.0 494.5h.8v.8h-.8zM370.4 481.3h.8v.8h-.8zM380.1 493.4h.8v.8h-.8zM365.1 500.8h.8v.8h-.8zM379.8 501.7h.8v.8h-.8zM379.0 503.9h.8v.8h-.8zM363.9 485.2h.8v.8h-.8zM376.4 507.0h.8v.8h-.8zM391.1 484.8h.8v.8h-.8zM372.4 488.8h.8v.8h-.8zM372.7 488.4h.8v.8h-.8zM373.8 493.7h.8v.8h-.8zM379.1 495.0h.8v.8h-.8zM387.2 504.5h.8v.8h-.8zM376.9 491.0h.8v.8h-.8zM376.4 487.9h.8v.8h-.8zM373.5 489.8h.8v.8h-.8zM379.1 490.4h.8v.8h-.8zM372.7 503.7h.8v.8h-.8zM373.9 494.0h.8v.8h-.8zM362.7 495.9h.8v.8h-.8zM380.5 493.8h.8v.8h-.8zM369.2 500.0h.8v.8h-.8zM387.5 496.7h.8v.8h-.8zM370.3 487.3h.8v.8h-.8zM372.4 480.2h.8v.8h-.8zM367.1 486.4h.8v.8h-.8zM383.0 479.1h.8v.8h-.8zM372.2 488.2h.8v.8h-.8zM362.5 498.2h.8v.8h-.8zM379.9 490.8h.8v.8h-.8zM369.4 494.4h.8v.8h-.8zM377.1 496.8h.8v.8h-.8zM369.8 488.4h.8v.8h-.8zM372.3 481.1h.8v.8h-.8zM370.0 504.6h.8v.8h-.8zM372.9 492.0h.8v.8h-.8zM363.8 483.3h.8v.8h-.8zM399.9 504.1h.8v.8h-.8zM381.4 498.1h.8v.8h-.8zM386.9 513.2h.8v.8h-.8zM392.0 492.7h.8v.8h-.8zM388.3 506.2h.8v.8h-.8zM378.5 504.2h.8v.8h-.8zM405.0 500.7h.8v.8h-.8zM375.1 502.1h.8v.8h-.8zM399.3 499.4h.8v.8h-.8zM391.8 505.7h.8v.8h-.8zM390.7 504.6h.8v.8h-.8zM375.9 517.2h.8v.8h-.8zM391.3 512.6h.8v.8h-.8zM391.2 500.6h.8v.8h-.8zM377.0 498.8h.8v.8h-.8zM390.7 500.5h.8v.8h-.8zM405.4 504.7h.8v.8h-.8zM393.0 514.1h.8v.8h-.8zM395.9 495.0h.8v.8h-.8zM400.3 497.4h.8v.8h-.8zM380.3 510.3h.8v.8h-.8zM393.5 495.7h.8v.8h-.8zM397.7 519.3h.8v.8h-.8zM374.5 500.0h.8v.8h-.8zM376.4 504.1h.8v.8h-.8zM386.1 502.5h.8v.8h-.8zM375.3 505.6h.8v.8h-.8zM388.3 516.2h.8v.8h-.8zM390.2 496.3h.8v.8h-.8zM378.1 503.7h.8v.8h-.8zM385.9 501.1h.8v.8h-.8zM403.5 505.1h.8v.8h-.8zM387.8 499.1h.8v.8h-.8zM382.8 508.7h.8v.8h-.8zM402.2 509.4h.8v.8h-.8zM396.4 506.1h.8v.8h-.8zM411.5 510.9h.8v.8h-.8zM402.6 501.2h.8v.8h-.8zM397.7 503.7h.8v.8h-.8zM386.6 500.2h.8v.8h-.8zM401.2 509.1h.8v.8h-.8zM397.6 507.6h.8v.8h-.8zM396.2 507.9h.8v.8h-.8zM400.4 501.5h.8v.8h-.8zM387.2 504.1h.8v.8h-.8zM394.4 506.9h.8v.8h-.8zM388.4 498.7h.8v.8h-.8zM391.4 498.4h.8v.8h-.8zM391.9 510.0h.8v.8h-.8zM378.2 513.5h.8v.8h-.8zM387.0 496.0h.8v.8h-.8zM379.4 494.3h.8v.8h-.8zM392.0 504.9h.8v.8h-.8zM394.2 505.7h.8v.8h-.8zM396.8 502.9h.8v.8h-.8zM380.4 506.5h.8v.8h-.8zM393.2 509.0h.8v.8h-.8zM396.2 502.9h.8v.8h-.8zM397.0 500.1h.8v.8h-.8zM388.7 500.4h.8v.8h-.8zM385.9 498.0h.8v.8h-.8zM385.3 507.0h.8v.8h-.8zM378.5 508.5h.8v.8h-.8zM398.1 505.2h.8v.8h-.8zM383.8 511.2h.8v.8h-.8zM385.6 504.8h.8v.8h-.8zM400.5 500.5h.8v.8h-.8zM398.8 501.9h.8v.8h-.8zM403.3 503.0h.8v.8h-.8zM389.1 507.4h.8v.8h-.8zM393.7 502.1h.8v.8h-.8zM399.2 496.8h.8v.8h-.8zM401.8 511.0h.8v.8h-.8zM390.8 502.9h.8v.8h-.8zM393.3 492.8h.8v.8h-.8zM386.3 510.3h.8v.8h-.8zM386.4 507.0h.8v.8h-.8zM399.0 511.3h.8v.8h-.8zM396.6 504.5h.8v.8h-.8zM403.1 505.8h.8v.8h-.8zM390.3 515.0h.8v.8h-.8zM391.5 506.0h.8v.8h-.8zM388.6 509.8h.8v.8h-.8zM383.6 507.1h.8v.8h-.8zM387.0 517.5h.8v.8h-.8zM398.4 505.3h.8v.8h-.8zM394.6 502.0h.8v.8h-.8zM394.2 509.8h.8v.8h-.8zM380.7 498.1h.8v.8h-.8zM393.3 502.0h.8v.8h-.8zM397.1 503.7h.8v.8h-.8zM398.3 495.7h.8v.8h-.8zM398.6 508.2h.8v.8h-.8zM394.3 510.4h.8v.8h-.8zM395.3 496.2h.8v.8h-.8zM392.1 503.8h.8v.8h-.8zM387.0 516.0h.8v.8h-.8zM390.8 496.5h.8v.8h-.8zM394.4 507.6h.8v.8h-.8zM379.7 505.5h.8v.8h-.8zM405.0 512.2h.8v.8h-.8zM373.5 499.9h.8v.8h-.8zM399.6 502.2h.8v.8h-.8zM389.3 514.4h.8v.8h-.8zM379.8 505.1h.8v.8h-.8zM387.4 491.4h.8v.8h-.8zM382.1 504.5h.8v.8h-.8zM394.2 503.4h.8v.8h-.8zM386.1 506.3h.8v.8h-.8zM379.2 499.0h.8v.8h-.8zM386.5 506.5h.8v.8h-.8zM406.0 512.4h.8v.8h-.8zM373.9 499.0h.8v.8h-.8zM391.1 509.1h.8v.8h-.8zM397.5 511.4h.8v.8h-.8zM375.6 501.3h.8v.8h-.8zM385.1 502.6h.8v.8h-.8zM404.6 510.3h.8v.8h-.8zM399.6 503.6h.8v.8h-.8zM387.8 510.6h.8v.8h-.8zM381.5 510.8h.8v.8h-.8zM381.7 505.7h.8v.8h-.8zM387.1 507.6h.8v.8h-.8zM411.1 499.4h.8v.8h-.8zM394.2 509.7h.8v.8h-.8zM390.4 500.4h.8v.8h-.8zM381.2 507.3h.8v.8h-.8zM390.9 509.9h.8v.8h-.8zM387.8 493.4h.8v.8h-.8zM408.9 509.0h.8v.8h-.8zM403.3 508.8h.8v.8h-.8zM402.7 507.0h.8v.8h-.8zM394.2 514.0h.8v.8h-.8zM402.7 505.8h.8v.8h-.8zM402.8 503.5h.8v.8h-.8zM379.8 507.6h.8v.8h-.8zM395.7 497.7h.8v.8h-.8zM386.7 506.7h.8v.8h-.8zM394.2 499.2h.8v.8h-.8zM399.9 503.8h.8v.8h-.8zM388.5 510.2h.8v.8h-.8zM407.6 504.3h.8v.8h-.8zM388.2 512.4h.8v.8h-.8zM393.4 503.5h.8v.8h-.8zM391.8 499.3h.8v.8h-.8zM403.0 499.4h.8v.8h-.8zM389.5 506.5h.8v.8h-.8zM384.7 507.7h.8v.8h-.8zM395.9 512.3h.8v.8h-.8zM398.4 500.9h.8v.8h-.8zM394.6 480.4h.8v.8h-.8zM384.6 478.0h.8v.8h-.8zM393.3 479.3h.8v.8h-.8zM390.7 477.5h.8v.8h-.8zM396.5 475.3h.8v.8h-.8zM387.0 478.1h.8v.8h-.8zM384.2 480.4h.8v.8h-.8zM391.4 476.1h.8v.8h-.8zM395.3 474.7h.8v.8h-.8zM390.0 472.2h.8v.8h-.8zM408.1 474.4h.8v.8h-.8zM380.1 474.5h.8v.8h-.8zM384.4 479.3h.8v.8h-.8zM387.6 482.5h.8v.8h-.8zM376.3 479.5h.8v.8h-.8zM399.9 475.1h.8v.8h-.8zM400.0 474.2h.8v.8h-.8zM386.1 478.2h.8v.8h-.8zM384.4 474.9h.8v.8h-.8zM383.9 475.6h.8v.8h-.8zM376.3 474.7h.8v.8h-.8zM370.2 478.9h.8v.8h-.8zM384.0 474.3h.8v.8h-.8zM376.7 477.2h.8v.8h-.8zM381.1 478.9h.8v.8h-.8zM388.2 482.5h.8v.8h-.8zM394.8 478.6h.8v.8h-.8zM376.0 477.1h.8v.8h-.8zM380.2 470.3h.8v.8h-.8zM380.8 476.4h.8v.8h-.8zM395.3 485.3h.8v.8h-.8zM375.8 478.0h.8v.8h-.8zM388.4 482.5h.8v.8h-.8zM377.5 480.5h.8v.8h-.8zM367.3 474.1h.8v.8h-.8zM389.2 468.3h.8v.8h-.8zM388.8 475.7h.8v.8h-.8zM380.6 474.9h.8v.8h-.8zM380.1 481.0h.8v.8h-.8zM374.3 476.3h.8v.8h-.8zM382.0 477.7h.8v.8h-.8zM388.4 476.9h.8v.8h-.8zM411.2 473.1h.8v.8h-.8zM382.9 474.6h.8v.8h-.8zM383.6 473.6h.8v.8h-.8zM374.9 483.0h.8v.8h-.8zM385.7 476.1h.8v.8h-.8zM394.4 475.6h.8v.8h-.8zM383.3 480.8h.8v.8h-.8zM388.6 481.1h.8v.8h-.8zM399.4 467.6h.8v.8h-.8zM393.1 472.2h.8v.8h-.8zM376.8 479.1h.8v.8h-.8zM390.0 479.5h.8v.8h-.8zM400.9 479.0h.8v.8h-.8zM390.5 478.5h.8v.8h-.8zM371.3 480.3h.8v.8h-.8zM399.5 480.0h.8v.8h-.8zM383.2 480.9h.8v.8h-.8zM360.6 480.7h.8v.8h-.8zM393.1 476.9h.8v.8h-.8zM379.5 474.9h.8v.8h-.8zM378.1 483.6h.8v.8h-.8zM379.1 473.1h.8v.8h-.8zM383.1 480.7h.8v.8h-.8zM369.6 478.4h.8v.8h-.8zM384.8 482.2h.8v.8h-.8zM386.8 475.7h.8v.8h-.8zM388.1 483.7h.8v.8h-.8zM405.7 481.1h.8v.8h-.8zM374.4 479.3h.8v.8h-.8zM393.6 479.7h.8v.8h-.8zM370.7 478.4h.8v.8h-.8zM381.8 475.7h.8v.8h-.8zM392.1 478.5h.8v.8h-.8zM382.1 476.0h.8v.8h-.8zM390.7 480.1h.8v.8h-.8zM387.0 482.4h.8v.8h-.8zM387.1 479.7h.8v.8h-.8zM386.1 471.4h.8v.8h-.8zM367.6 523.5h.8v.8h-.8zM361.2 522.4h.8v.8h-.8zM361.2 529.0h.8v.8h-.8zM375.6 514.6h.8v.8h-.8zM358.8 529.8h.8v.8h-.8zM368.0 537.5h.8v.8h-.8zM364.5 536.1h.8v.8h-.8zM352.8 518.2h.8v.8h-.8zM370.2 525.7h.8v.8h-.8zM369.9 520.2h.8v.8h-.8zM376.2 533.9h.8v.8h-.8zM375.0 522.3h.8v.8h-.8zM363.9 537.3h.8v.8h-.8zM347.4 520.9h.8v.8h-.8zM391.6 515.5h.8v.8h-.8zM382.6 533.4h.8v.8h-.8zM354.7 528.9h.8v.8h-.8zM372.6 522.3h.8v.8h-.8zM375.6 528.2h.8v.8h-.8zM390.4 524.0h.8v.8h-.8zM362.8 529.0h.8v.8h-.8zM367.5 521.1h.8v.8h-.8zM376.6 521.4h.8v.8h-.8zM367.0 530.8h.8v.8h-.8zM367.0 535.2h.8v.8h-.8zM376.3 518.5h.8v.8h-.8zM353.8 531.8h.8v.8h-.8zM379.5 530.6h.8v.8h-.8zM354.5 525.6h.8v.8h-.8zM361.7 535.2h.8v.8h-.8zM376.8 534.7h.8v.8h-.8zM380.3 528.2h.8v.8h-.8zM361.1 529.9h.8v.8h-.8zM365.2 524.2h.8v.8h-.8zM357.2 526.7h.8v.8h-.8zM383.4 523.5h.8v.8h-.8zM386.4 509.9h.8v.8h-.8zM356.0 521.0h.8v.8h-.8zM361.0 514.2h.8v.8h-.8zM381.8 516.0h.8v.8h-.8zM388.7 519.0h.8v.8h-.8zM376.3 540.0h.8v.8h-.8zM363.2 511.5h.8v.8h-.8zM357.1 538.4h.8v.8h-.8zM377.9 528.3h.8v.8h-.8zM369.1 533.9h.8v.8h-.8zM378.4 532.9h.8v.8h-.8zM370.1 530.0h.8v.8h-.8zM355.0 518.8h.8v.8h-.8zM366.6 530.1h.8v.8h-.8zM374.4 522.5h.8v.8h-.8zM351.6 539.2h.8v.8h-.8zM376.5 537.5h.8v.8h-.8zM358.9 536.1h.8v.8h-.8zM361.6 529.6h.8v.8h-.8zM379.4 524.4h.8v.8h-.8zM372.5 536.1h.8v.8h-.8zM350.0 517.5h.8v.8h-.8zM366.5 531.6h.8v.8h-.8zM349.0 531.1h.8v.8h-.8zM390.1 531.4h.8v.8h-.8zM356.7 528.3h.8v.8h-.8zM356.3 518.8h.8v.8h-.8zM355.2 513.0h.8v.8h-.8zM361.5 523.4h.8v.8h-.8zM359.4 532.6h.8v.8h-.8zM369.7 534.7h.8v.8h-.8zM380.7 519.8h.8v.8h-.8zM366.2 522.0h.8v.8h-.8zM363.5 532.1h.8v.8h-.8zM374.3 517.0h.8v.8h-.8zM366.8 526.7h.8v.8h-.8zM365.7 513.9h.8v.8h-.8zM351.3 526.1h.8v.8h-.8zM373.5 517.5h.8v.8h-.8zM362.8 537.4h.8v.8h-.8zM371.3 525.5h.8v.8h-.8zM372.4 521.6h.8v.8h-.8zM366.1 524.2h.8v.8h-.8zM358.2 523.3h.8v.8h-.8zM364.2 535.1h.8v.8h-.8zM355.8 513.0h.8v.8h-.8zM374.4 533.2h.8v.8h-.8zM362.2 532.7h.8v.8h-.8zM386.1 525.2h.8v.8h-.8zM366.0 527.8h.8v.8h-.8zM380.9 520.0h.8v.8h-.8zM374.3 523.4h.8v.8h-.8zM363.6 535.4h.8v.8h-.8zM358.9 532.9h.8v.8h-.8zM387.5 526.9h.8v.8h-.8zM377.6 531.6h.8v.8h-.8zM374.9 535.4h.8v.8h-.8zM353.9 531.5h.8v.8h-.8zM374.4 520.4h.8v.8h-.8zM372.6 524.2h.8v.8h-.8zM365.2 531.5h.8v.8h-.8zM376.1 514.8h.8v.8h-.8zM361.0 524.7h.8v.8h-.8zM366.4 530.0h.8v.8h-.8zM363.3 523.9h.8v.8h-.8zM369.2 534.5h.8v.8h-.8zM370.2 521.6h.8v.8h-.8zM380.2 524.0h.8v.8h-.8zM373.1 531.9h.8v.8h-.8zM379.8 527.8h.8v.8h-.8zM363.9 526.4h.8v.8h-.8zM370.6 520.6h.8v.8h-.8zM373.4 528.4h.8v.8h-.8zM366.2 531.2h.8v.8h-.8zM363.1 538.8h.8v.8h-.8zM357.0 520.4h.8v.8h-.8zM358.8 521.8h.8v.8h-.8zM363.2 523.0h.8v.8h-.8zM364.1 532.7h.8v.8h-.8zM355.8 524.7h.8v.8h-.8zM374.2 516.5h.8v.8h-.8zM374.5 521.7h.8v.8h-.8zM371.9 524.5h.8v.8h-.8zM353.9 529.1h.8v.8h-.8zM375.6 528.9h.8v.8h-.8zM355.7 536.3h.8v.8h-.8zM357.0 515.6h.8v.8h-.8zM380.1 526.9h.8v.8h-.8zM364.4 525.5h.8v.8h-.8zM361.0 525.5h.8v.8h-.8zM360.6 536.0h.8v.8h-.8zM373.8 538.3h.8v.8h-.8zM376.5 527.9h.8v.8h-.8zM366.7 531.4h.8v.8h-.8zM372.9 529.2h.8v.8h-.8zM369.0 540.2h.8v.8h-.8zM366.4 519.5h.8v.8h-.8zM360.1 532.0h.8v.8h-.8zM374.3 534.7h.8v.8h-.8zM380.3 529.9h.8v.8h-.8zM363.9 528.3h.8v.8h-.8zM359.7 521.3h.8v.8h-.8zM364.1 518.3h.8v.8h-.8zM361.3 538.6h.8v.8h-.8zM347.8 528.3h.8v.8h-.8zM387.0 521.6h.8v.8h-.8zM363.4 522.5h.8v.8h-.8zM385.0 535.8h.8v.8h-.8zM387.9 530.2h.8v.8h-.8zM371.8 533.8h.8v.8h-.8zM365.5 523.7h.8v.8h-.8zM359.5 534.1h.8v.8h-.8zM373.5 528.4h.8v.8h-.8zM368.8 539.2h.8v.8h-.8zM364.6 524.8h.8v.8h-.8zM375.3 527.6h.8v.8h-.8zM372.6 534.1h.8v.8h-.8zM375.3 533.1h.8v.8h-.8zM375.5 529.4h.8v.8h-.8zM370.4 523.7h.8v.8h-.8zM358.1 523.7h.8v.8h-.8zM367.4 523.3h.8v.8h-.8zM376.9 526.3h.8v.8h-.8zM374.6 526.0h.8v.8h-.8zM354.2 533.1h.8v.8h-.8zM376.4 517.6h.8v.8h-.8zM365.8 513.3h.8v.8h-.8zM375.2 528.5h.8v.8h-.8zM383.3 520.9h.8v.8h-.8zM385.3 537.6h.8v.8h-.8zM368.0 520.0h.8v.8h-.8zM360.8 532.7h.8v.8h-.8zM371.1 522.2h.8v.8h-.8zM356.1 533.3h.8v.8h-.8zM356.2 527.3h.8v.8h-.8zM376.9 537.1h.8v.8h-.8zM363.9 529.1h.8v.8h-.8zM360.0 532.2h.8v.8h-.8zM370.7 538.3h.8v.8h-.8zM354.1 524.3h.8v.8h-.8zM362.0 526.3h.8v.8h-.8zM375.4 521.3h.8v.8h-.8zM383.8 529.3h.8v.8h-.8zM386.8 525.3h.8v.8h-.8zM371.3 516.1h.8v.8h-.8zM371.4 532.2h.8v.8h-.8zM376.1 516.0h.8v.8h-.8zM360.3 525.5h.8v.8h-.8zM350.7 516.3h.8v.8h-.8zM374.5 532.3h.8v.8h-.8zM360.8 525.4h.8v.8h-.8zM367.3 522.7h.8v.8h-.8zM372.3 532.2h.8v.8h-.8zM378.2 529.5h.8v.8h-.8zM346.2 530.2h.8v.8h-.8zM376.4 531.7h.8v.8h-.8zM375.9 524.9h.8v.8h-.8zM372.1 528.3h.8v.8h-.8zM361.3 517.4h.8v.8h-.8zM355.8 516.5h.8v.8h-.8zM379.7 515.8h.8v.8h-.8zM368.1 521.3h.8v.8h-.8zM353.8 531.2h.8v.8h-.8zM363.8 529.0h.8v.8h-.8zM362.4 534.8h.8v.8h-.8zM366.8 530.9h.8v.8h-.8zM361.5 525.2h.8v.8h-.8zM361.4 522.9h.8v.8h-.8zM359.4 514.9h.8v.8h-.8zM359.3 526.3h.8v.8h-.8zM364.2 522.2h.8v.8h-.8zM367.8 508.3h.8v.8h-.8zM374.2 518.7h.8v.8h-.8zM378.6 522.6h.8v.8h-.8zM366.9 526.9h.8v.8h-.8zM361.9 532.6h.8v.8h-.8zM371.2 528.7h.8v.8h-.8zM362.7 525.2h.8v.8h-.8zM349.6 536.0h.8v.8h-.8zM375.8 530.6h.8v.8h-.8zM354.3 521.5h.8v.8h-.8zM365.9 529.4h.8v.8h-.8zM363.9 527.4h.8v.8h-.8zM369.4 538.5h.8v.8h-.8zM369.7 529.9h.8v.8h-.8zM372.0 526.4h.8v.8h-.8zM371.2 514.3h.8v.8h-.8zM368.7 527.1h.8v.8h-.8zM385.3 539.2h.8v.8h-.8zM355.9 530.0h.8v.8h-.8zM375.0 530.4h.8v.8h-.8zM379.6 528.7h.8v.8h-.8zM370.2 521.6h.8v.8h-.8zM377.0 526.6h.8v.8h-.8zM374.3 532.1h.8v.8h-.8zM373.7 519.3h.8v.8h-.8zM374.9 525.9h.8v.8h-.8zM370.3 521.8h.8v.8h-.8zM361.1 513.0h.8v.8h-.8zM346.3 527.2h.8v.8h-.8zM358.8 521.8h.8v.8h-.8zM370.5 520.7h.8v.8h-.8zM365.6 533.6h.8v.8h-.8zM371.3 530.5h.8v.8h-.8zM353.7 524.4h.8v.8h-.8zM389.6 539.9h.8v.8h-.8zM362.6 528.2h.8v.8h-.8zM375.8 527.4h.8v.8h-.8zM373.3 527.9h.8v.8h-.8zM371.6 520.2h.8v.8h-.8zM374.4 528.5h.8v.8h-.8zM360.5 527.7h.8v.8h-.8zM356.9 526.2h.8v.8h-.8zM375.4 533.0h.8v.8h-.8zM373.1 525.1h.8v.8h-.8zM346.7 514.2h.8v.8h-.8zM364.3 524.2h.8v.8h-.8zM363.6 527.1h.8v.8h-.8zM345.7 539.0h.8v.8h-.8zM372.3 531.1h.8v.8h-.8zM368.1 524.7h.8v.8h-.8zM375.1 522.6h.8v.8h-.8zM350.1 515.3h.8v.8h-.8zM362.1 538.3h.8v.8h-.8zM359.3 519.9h.8v.8h-.8zM369.9 521.0h.8v.8h-.8zM361.4 524.8h.8v.8h-.8zM354.7 531.5h.8v.8h-.8zM387.6 526.4h.8v.8h-.8zM363.8 514.3h.8v.8h-.8zM350.8 532.2h.8v.8h-.8zM371.3 539.1h.8v.8h-.8zM371.4 523.5h.8v.8h-.8zM358.8 527.6h.8v.8h-.8zM374.9 521.1h.8v.8h-.8zM368.5 536.2h.8v.8h-.8zM371.1 534.1h.8v.8h-.8zM372.6 519.1h.8v.8h-.8zM374.4 532.9h.8v.8h-.8zM377.5 526.6h.8v.8h-.8zM387.3 518.3h.8v.8h-.8zM357.3 525.9h.8v.8h-.8zM367.2 527.3h.8v.8h-.8zM376.6 538.4h.8v.8h-.8zM374.5 517.4h.8v.8h-.8zM375.0 522.0h.8v.8h-.8zM364.0 526.9h.8v.8h-.8zM403.0 500.5h.8v.8h-.8zM407.6 470.3h.8v.8h-.8zM404.4 539.6h.8v.8h-.8zM375.8 528.2h.8v.8h-.8zM397.6 522.0h.8v.8h-.8zM375.2 476.8h.8v.8h-.8zM402.5 522.7h.8v.8h-.8zM356.3 462.1h.8v.8h-.8zM375.0 518.7h.8v.8h-.8zM354.7 530.4h.8v.8h-.8zM412.2 463.5h.8v.8h-.8zM370.9 471.4h.8v.8h-.8zM370.3 493.9h.8v.8h-.8zM351.8 535.5h.8v.8h-.8zM361.7 479.6h.8v.8h-.8zM349.9 489.0h.8v.8h-.8zM359.7 485.0h.8v.8h-.8zM413.7 505.0h.8v.8h-.8zM380.3 479.6h.8v.8h-.8zM388.2 523.6h.8v.8h-.8zM396.8 474.9h.8v.8h-.8zM402.7 468.9h.8v.8h-.8zM383.2 485.4h.8v.8h-.8zM354.5 515.6h.8v.8h-.8zM362.6 504.1h.8v.8h-.8zM418.7 496.6h.8v.8h-.8zM401.6 488.6h.8v.8h-.8zM407.4 491.6h.8v.8h-.8zM360.4 529.5h.8v.8h-.8zM388.6 480.2h.8v.8h-.8z" fill="#000"/>
<path d="M399.90,490.20 C399.90,491.35 399.67,492.56 399.25,493.66 C398.83,494.76 398.18,495.85 397.38,496.78 C396.58,497.72 395.56,498.58 394.46,499.26 C393.36,499.94 392.07,500.50 390.78,500.85 C389.49,501.21 388.06,501.40 386.70,501.40 C385.34,501.40 383.91,501.21 382.62,500.85 C381.33,500.50 380.04,499.94 378.94,499.26 C377.84,498.58 376.82,497.72 376.02,496.78 C375.22,495.85 374.57,494.76 374.15,493.66 C373.73,492.56 373.50,491.35 373.50,490.20 C373.50,489.05 373.73,487.84 374.15,486.74 C374.57,485.64 375.22,484.55 376.02,483.62 C376.82,482.68 377.84,481.82 378.94,481.14 C380.04,480.46 381.33,479.90 382.62,479.55 C383.91,479.19 385.34,479.00 386.70,479.00 C388.06,479.00 389.49,479.19 390.78,479.55 C392.07,479.90 393.36,480.46 394.46,481.14 C395.56,481.82 396.58,482.68 397.38,483.62 C398.18,484.55 398.83,485.64 399.25,486.74 C399.67,487.84 399.90,489.05 399.90,490.20Z" fill="#fff"/>
<path d="M399.90,490.20 C399.90,491.35 399.67,492.56 399.25,493.66 C398.83,494.76 398.18,495.85 397.38,496.78 C396.58,497.72 395.56,498.58 394.46,499.26 C393.36,499.94 392.07,500.50 390.78,500.85 C389.49,501.21 388.06,501.40 386.70,501.40 C385.34,501.40 383.91,501.21 382.62,500.85 C381.33,500.50 380.04,499.94 378.94,499.26 C377.84,498.58 376.82,497.72 376.02,496.78 C375.22,495.85 374.57,494.76 374.15,493.66 C373.73,492.56 373.50,491.35 373.50,490.20 C373.50,489.05 373.73,487.84 374.15,486.74 C374.57,485.64 375.22,484.55 376.02,483.62 C376.82,482.68 377.84,481.82 378.94,481.14 C380.04,480.46 381.33,479.90 382.62,479.55 C383.91,479.19 385.34,479.00 386.70,479.00 C388.06,479.00 389.49,479.19 390.78,479.55 C392.07,479.90 393.36,480.46 394.46,481.14 C395.56,481.82 396.58,482.68 397.38,483.62 C398.18,484.55 398.83,485.64 399.25,486.74 C399.67,487.84 399.90,489.05 399.90,490.20Z" fill="none" stroke="#000" stroke-width="0.85"/>
<path d="M398.88,490.25 C398.88,491.30 398.67,492.39 398.28,493.39 C397.90,494.38 397.30,495.37 396.56,496.22 C395.83,497.06 394.90,497.85 393.89,498.46 C392.88,499.08 391.70,499.58 390.51,499.90 C389.33,500.23 388.02,500.40 386.77,500.40 C385.53,500.40 384.22,500.23 383.04,499.90 C381.85,499.58 380.67,499.08 379.66,498.46 C378.65,497.85 377.72,497.06 376.99,496.22 C376.25,495.37 375.65,494.38 375.27,493.39 C374.88,492.39 374.68,491.30 374.68,490.25 C374.68,489.20 374.88,488.11 375.27,487.11 C375.65,486.12 376.25,485.13 376.99,484.28 C377.72,483.44 378.65,482.65 379.66,482.04 C380.67,481.42 381.85,480.92 383.04,480.60 C384.22,480.27 385.53,480.10 386.77,480.10 C388.02,480.10 389.33,480.27 390.51,480.60 C391.70,480.92 392.88,481.42 393.89,482.04 C394.90,482.65 395.83,483.44 396.56,484.28 C397.30,485.13 397.90,486.12 398.28,487.11 C398.67,488.11 398.88,489.20 398.88,490.25Z" fill="none" stroke="#000" stroke-width="0.85"/>
<path d="M397.85,490.30 C397.85,491.24 397.66,492.22 397.31,493.11 C396.96,494.00 396.42,494.89 395.75,495.65 C395.08,496.41 394.23,497.11 393.32,497.66 C392.40,498.21 391.33,498.66 390.25,498.95 C389.17,499.24 387.98,499.40 386.85,499.40 C385.72,499.40 384.53,499.24 383.45,498.95 C382.37,498.66 381.30,498.21 380.38,497.66 C379.47,497.11 378.62,496.41 377.95,495.65 C377.28,494.89 376.74,494.00 376.39,493.11 C376.04,492.22 375.85,491.24 375.85,490.30 C375.85,489.36 376.04,488.38 376.39,487.49 C376.74,486.60 377.28,485.71 377.95,484.95 C378.62,484.19 379.47,483.49 380.38,482.94 C381.30,482.39 382.37,481.94 383.45,481.65 C384.53,481.36 385.72,481.20 386.85,481.20 C387.98,481.20 389.17,481.36 390.25,481.65 C391.33,481.94 392.40,482.39 393.32,482.94 C394.23,483.49 395.08,484.19 395.75,484.95 C396.42,485.71 396.96,486.60 397.31,487.49 C397.66,488.38 397.85,489.36 397.85,490.30Z" fill="none" stroke="#000" stroke-width="0.85"/>
<path d="M396.82,490.35 C396.82,491.18 396.66,492.05 396.34,492.84 C396.03,493.63 395.53,494.41 394.93,495.08 C394.33,495.75 393.57,496.38 392.74,496.86 C391.92,497.35 390.95,497.75 389.98,498.01 C389.01,498.26 387.94,498.40 386.93,498.40 C385.91,498.40 384.84,498.26 383.87,498.01 C382.90,497.75 381.93,497.35 381.11,496.86 C380.28,496.38 379.52,495.75 378.92,495.08 C378.32,494.41 377.82,493.63 377.51,492.84 C377.19,492.05 377.02,491.18 377.02,490.35 C377.02,489.52 377.19,488.65 377.51,487.86 C377.82,487.07 378.32,486.29 378.92,485.62 C379.52,484.95 380.28,484.32 381.11,483.84 C381.93,483.35 382.90,482.95 383.87,482.69 C384.84,482.44 385.91,482.30 386.93,482.30 C387.94,482.30 389.01,482.44 389.98,482.69 C390.95,482.95 391.92,483.35 392.74,483.84 C393.57,484.32 394.33,484.95 394.93,485.62 C395.53,486.29 396.03,487.07 396.34,487.86 C396.66,488.65 396.82,489.52 396.82,490.35Z" fill="none" stroke="#000" stroke-width="0.85"/>
<path d="M395.80,490.40 C395.80,491.12 395.65,491.88 395.37,492.56 C395.09,493.25 394.65,493.93 394.12,494.51 C393.59,495.10 392.91,495.64 392.17,496.06 C391.44,496.49 390.58,496.83 389.72,497.06 C388.86,497.28 387.91,497.40 387.00,497.40 C386.09,497.40 385.14,497.28 384.28,497.06 C383.42,496.83 382.56,496.49 381.83,496.06 C381.09,495.64 380.41,495.10 379.88,494.51 C379.35,493.93 378.91,493.25 378.63,492.56 C378.35,491.88 378.20,491.12 378.20,490.40 C378.20,489.68 378.35,488.92 378.63,488.24 C378.91,487.55 379.35,486.87 379.88,486.29 C380.41,485.70 381.09,485.16 381.83,484.74 C382.56,484.31 383.42,483.97 384.28,483.74 C385.14,483.52 386.09,483.40 387.00,483.40 C387.91,483.40 388.86,483.52 389.72,483.74 C390.58,483.97 391.44,484.31 392.17,484.74 C392.91,485.16 393.59,485.70 394.12,486.29 C394.65,486.87 395.09,487.55 395.37,488.24 C395.65,488.92 395.80,489.68 395.80,490.40Z" fill="#000"/>
<circle cx="387.50" cy="490.00" r="0.5" fill="#fff"/>
<path d="M368.50,510.80 C371.00,510.80 373.98,511.27 376.00,512.80 C378.02,514.33 379.97,517.13 380.60,520.00 C381.23,522.87 379.73,526.00 379.80,530.00 C379.87,534.00 384.88,541.67 381.00,544.00 C377.12,546.33 360.42,546.33 356.50,544.00 C352.58,541.67 357.50,534.00 357.50,530.00 C357.50,526.00 355.92,522.87 356.50,520.00 C357.08,517.13 359.00,514.33 361.00,512.80 C363.00,511.27 366.00,510.80 368.50,510.80Z" fill="#fff"/>
<path d="M368.50,510.80 C371.00,510.80 373.98,511.27 376.00,512.80 C378.02,514.33 379.97,517.13 380.60,520.00 C381.23,522.87 379.73,526.00 379.80,530.00 C379.87,534.00 384.88,541.67 381.00,544.00 C377.12,546.33 360.42,546.33 356.50,544.00 C352.58,541.67 357.50,534.00 357.50,530.00 C357.50,526.00 355.92,522.87 356.50,520.00 C357.08,517.13 359.00,514.33 361.00,512.80 C363.00,511.27 366.00,510.80 368.50,510.80Z" fill="none" stroke="#000" stroke-width="0.85"/>
<path d="M368.50,512.42 C370.80,512.42 373.54,512.85 375.40,514.26 C377.26,515.67 379.05,518.24 379.63,520.88 C380.21,523.52 378.83,526.40 378.90,530.08 C378.96,533.76 383.57,540.81 380.00,542.96 C376.43,545.11 361.06,545.11 357.46,542.96 C353.86,540.81 358.38,533.76 358.38,530.08 C358.38,526.40 356.92,523.52 357.46,520.88 C358.00,518.24 359.76,515.67 361.60,514.26 C363.44,512.85 366.20,512.42 368.50,512.42Z" fill="none" stroke="#000" stroke-width="0.85"/>
<path d="M368.50,514.03 C370.60,514.03 373.11,514.42 374.80,515.71 C376.49,517.00 378.13,519.35 378.66,521.76 C379.20,524.17 377.94,526.80 377.99,530.16 C378.05,533.52 382.26,539.96 379.00,541.92 C375.74,543.88 361.71,543.88 358.42,541.92 C355.13,539.96 359.26,533.52 359.26,530.16 C359.26,526.80 357.93,524.17 358.42,521.76 C358.91,519.35 360.52,517.00 362.20,515.71 C363.88,514.42 366.40,514.03 368.50,514.03Z" fill="none" stroke="#000" stroke-width="0.85"/>
<path d="M368.50,515.65 C370.40,515.65 372.67,516.00 374.20,517.17 C375.73,518.33 377.21,520.46 377.70,522.64 C378.18,524.82 377.04,527.20 377.09,530.24 C377.14,533.28 380.95,539.11 378.00,540.88 C375.05,542.65 362.36,542.65 359.38,540.88 C356.40,539.11 360.14,533.28 360.14,530.24 C360.14,527.20 358.94,524.82 359.38,522.64 C359.82,520.46 361.28,518.33 362.80,517.17 C364.32,516.00 366.60,515.65 368.50,515.65Z" fill="none" stroke="#000" stroke-width="0.85"/>
<path d="M368.50,517.26 C370.20,517.26 372.23,517.58 373.60,518.62 C374.97,519.67 376.30,521.57 376.73,523.52 C377.16,525.47 376.14,527.60 376.18,530.32 C376.23,533.04 379.64,538.25 377.00,539.84 C374.36,541.43 363.00,541.43 360.34,539.84 C357.68,538.25 361.02,533.04 361.02,530.32 C361.02,527.60 359.94,525.47 360.34,523.52 C360.74,521.57 362.04,519.67 363.40,518.62 C364.76,517.58 366.80,517.26 368.50,517.26Z" fill="#000"/>
<circle cx="368.50" cy="524.80" r="0.7" fill="#fff"/>
<circle cx="368.50" cy="533.00" r="0.5" fill="#fff"/>
<ellipse cx="387.00" cy="490.40" rx="4.00" ry="3.25" fill="none" stroke="#fff" stroke-width="0.45" opacity="0.35"/>
<ellipse cx="368.50" cy="527.00" rx="3.50" ry="5.50" fill="none" stroke="#fff" stroke-width="0.45" opacity="0.35"/>
<rect x="358.00" y="539.80" width="22.00" height="2.50" fill="#000"/>
</g>
<rect x="343.20" y="458.70" width="82.80" height="82.90" fill="none" stroke="#000" stroke-width="1.4"/>
<line x1="339.80" y1="541.60" x2="343.20" y2="541.60" stroke="#000" stroke-width="1.1"/>
<line x1="343.20" y1="541.60" x2="343.20" y2="545.00" stroke="#000" stroke-width="1.1"/>
<line x1="341.50" y1="535.36" x2="343.20" y2="535.36" stroke="#000" stroke-width="0.6"/>
<line x1="349.44" y1="541.60" x2="349.44" y2="543.30" stroke="#000" stroke-width="0.6"/>
<line x1="341.50" y1="531.71" x2="343.20" y2="531.71" stroke="#000" stroke-width="0.6"/>
<line x1="353.09" y1="541.60" x2="353.09" y2="543.30" stroke="#000" stroke-width="0.6"/>
<line x1="341.50" y1="529.12" x2="343.20" y2="529.12" stroke="#000" stroke-width="0.6"/>
<line x1="355.68" y1="541.60" x2="355.68" y2="543.30" stroke="#000" stroke-width="0.6"/>
<line x1="341.50" y1="527.11" x2="343.20" y2="527.11" stroke="#000" stroke-width="0.6"/>
<line x1="357.69" y1="541.60" x2="357.69" y2="543.30" stroke="#000" stroke-width="0.6"/>
<line x1="341.50" y1="525.47" x2="343.20" y2="525.47" stroke="#000" stroke-width="0.6"/>
<line x1="359.33" y1="541.60" x2="359.33" y2="543.30" stroke="#000" stroke-width="0.6"/>
<line x1="341.50" y1="524.09" x2="343.20" y2="524.09" stroke="#000" stroke-width="0.6"/>
<line x1="360.71" y1="541.60" x2="360.71" y2="543.30" stroke="#000" stroke-width="0.6"/>
<line x1="341.50" y1="522.88" x2="343.20" y2="522.88" stroke="#000" stroke-width="0.6"/>
<line x1="361.92" y1="541.60" x2="361.92" y2="543.30" stroke="#000" stroke-width="0.6"/>
<line x1="341.50" y1="521.82" x2="343.20" y2="521.82" stroke="#000" stroke-width="0.6"/>
<line x1="362.98" y1="541.60" x2="362.98" y2="543.30" stroke="#000" stroke-width="0.6"/>
<text x="343.40" y="556.5" font-size="7.6" text-anchor="middle" fill="#111">10<tspan font-size="4.2" dy="-3.6">0</tspan></text>
<line x1="339.80" y1="520.88" x2="343.20" y2="520.88" stroke="#000" stroke-width="1.1"/>
<line x1="363.93" y1="541.60" x2="363.93" y2="545.00" stroke="#000" stroke-width="1.1"/>
<line x1="341.50" y1="514.64" x2="343.20" y2="514.64" stroke="#000" stroke-width="0.6"/>
<line x1="370.16" y1="541.60" x2="370.16" y2="543.30" stroke="#000" stroke-width="0.6"/>
<line x1="341.50" y1="510.99" x2="343.20" y2="510.99" stroke="#000" stroke-width="0.6"/>
<line x1="373.81" y1="541.60" x2="373.81" y2="543.30" stroke="#000" stroke-width="0.6"/>
<line x1="341.50" y1="508.40" x2="343.20" y2="508.40" stroke="#000" stroke-width="0.6"/>
<line x1="376.40" y1="541.60" x2="376.40" y2="543.30" stroke="#000" stroke-width="0.6"/>
<line x1="341.50" y1="506.39" x2="343.20" y2="506.39" stroke="#000" stroke-width="0.6"/>
<line x1="378.41" y1="541.60" x2="378.41" y2="543.30" stroke="#000" stroke-width="0.6"/>
<line x1="341.50" y1="504.75" x2="343.20" y2="504.75" stroke="#000" stroke-width="0.6"/>
<line x1="380.05" y1="541.60" x2="380.05" y2="543.30" stroke="#000" stroke-width="0.6"/>
<line x1="341.50" y1="503.36" x2="343.20" y2="503.36" stroke="#000" stroke-width="0.6"/>
<line x1="381.44" y1="541.60" x2="381.44" y2="543.30" stroke="#000" stroke-width="0.6"/>
<line x1="341.50" y1="502.16" x2="343.20" y2="502.16" stroke="#000" stroke-width="0.6"/>
<line x1="382.64" y1="541.60" x2="382.64" y2="543.30" stroke="#000" stroke-width="0.6"/>
<line x1="341.50" y1="501.10" x2="343.20" y2="501.10" stroke="#000" stroke-width="0.6"/>
<line x1="383.70" y1="541.60" x2="383.70" y2="543.30" stroke="#000" stroke-width="0.6"/>
<text x="364.12" y="556.5" font-size="7.6" text-anchor="middle" fill="#111">10<tspan font-size="4.2" dy="-3.6">1</tspan></text>
<line x1="339.80" y1="500.15" x2="343.20" y2="500.15" stroke="#000" stroke-width="1.1"/>
<line x1="384.65" y1="541.60" x2="384.65" y2="545.00" stroke="#000" stroke-width="1.1"/>
<line x1="341.50" y1="493.91" x2="343.20" y2="493.91" stroke="#000" stroke-width="0.6"/>
<line x1="390.89" y1="541.60" x2="390.89" y2="543.30" stroke="#000" stroke-width="0.6"/>
<line x1="341.50" y1="490.26" x2="343.20" y2="490.26" stroke="#000" stroke-width="0.6"/>
<line x1="394.54" y1="541.60" x2="394.54" y2="543.30" stroke="#000" stroke-width="0.6"/>
<line x1="341.50" y1="487.67" x2="343.20" y2="487.67" stroke="#000" stroke-width="0.6"/>
<line x1="397.13" y1="541.60" x2="397.13" y2="543.30" stroke="#000" stroke-width="0.6"/>
<line x1="341.50" y1="485.66" x2="343.20" y2="485.66" stroke="#000" stroke-width="0.6"/>
<line x1="399.14" y1="541.60" x2="399.14" y2="543.30" stroke="#000" stroke-width="0.6"/>
<line x1="341.50" y1="484.02" x2="343.20" y2="484.02" stroke="#000" stroke-width="0.6"/>
<line x1="400.78" y1="541.60" x2="400.78" y2="543.30" stroke="#000" stroke-width="0.6"/>
<line x1="341.50" y1="482.64" x2="343.20" y2="482.64" stroke="#000" stroke-width="0.6"/>
<line x1="402.16" y1="541.60" x2="402.16" y2="543.30" stroke="#000" stroke-width="0.6"/>
<line x1="341.50" y1="481.43" x2="343.20" y2="481.43" stroke="#000" stroke-width="0.6"/>
<line x1="403.37" y1="541.60" x2="403.37" y2="543.30" stroke="#000" stroke-width="0.6"/>
<line x1="341.50" y1="480.37" x2="343.20" y2="480.37" stroke="#000" stroke-width="0.6"/>
<line x1="404.43" y1="541.60" x2="404.43" y2="543.30" stroke="#000" stroke-width="0.6"/>
<text x="384.85" y="556.5" font-size="7.6" text-anchor="middle" fill="#111">10<tspan font-size="4.2" dy="-3.6">2</tspan></text>
<line x1="339.80" y1="479.43" x2="343.20" y2="479.43" stroke="#000" stroke-width="1.1"/>
<line x1="405.38" y1="541.60" x2="405.38" y2="545.00" stroke="#000" stroke-width="1.1"/>
<line x1="341.50" y1="473.19" x2="343.20" y2="473.19" stroke="#000" stroke-width="0.6"/>
<line x1="411.61" y1="541.60" x2="411.61" y2="543.30" stroke="#000" stroke-width="0.6"/>
<line x1="341.50" y1="469.54" x2="343.20" y2="469.54" stroke="#000" stroke-width="0.6"/>
<line x1="415.26" y1="541.60" x2="415.26" y2="543.30" stroke="#000" stroke-width="0.6"/>
<line x1="341.50" y1="466.95" x2="343.20" y2="466.95" stroke="#000" stroke-width="0.6"/>
<line x1="417.85" y1="541.60" x2="417.85" y2="543.30" stroke="#000" stroke-width="0.6"/>
<line x1="341.50" y1="464.94" x2="343.20" y2="464.94" stroke="#000" stroke-width="0.6"/>
<line x1="419.86" y1="541.60" x2="419.86" y2="543.30" stroke="#000" stroke-width="0.6"/>
<line x1="341.50" y1="463.30" x2="343.20" y2="463.30" stroke="#000" stroke-width="0.6"/>
<line x1="421.50" y1="541.60" x2="421.50" y2="543.30" stroke="#000" stroke-width="0.6"/>
<line x1="341.50" y1="461.91" x2="343.20" y2="461.91" stroke="#000" stroke-width="0.6"/>
<line x1="422.89" y1="541.60" x2="422.89" y2="543.30" stroke="#000" stroke-width="0.6"/>
<line x1="341.50" y1="460.71" x2="343.20" y2="460.71" stroke="#000" stroke-width="0.6"/>
<line x1="424.09" y1="541.60" x2="424.09" y2="543.30" stroke="#000" stroke-width="0.6"/>
<line x1="341.50" y1="459.65" x2="343.20" y2="459.65" stroke="#000" stroke-width="0.6"/>
<line x1="425.15" y1="541.60" x2="425.15" y2="543.30" stroke="#000" stroke-width="0.6"/>
<text x="405.57" y="556.5" font-size="7.6" text-anchor="middle" fill="#111">10<tspan font-size="4.2" dy="-3.6">3</tspan></text>
<line x1="339.80" y1="458.70" x2="343.20" y2="458.70" stroke="#000" stroke-width="1.1"/>
<line x1="426.10" y1="541.60" x2="426.10" y2="545.00" stroke="#000" stroke-width="1.1"/>
<text x="426.30" y="556.5" font-size="7.6" text-anchor="middle" fill="#111">10<tspan font-size="4.2" dy="-3.6">4</tspan></text>
<text x="425.00" y="466.20" font-size="7.4" text-anchor="end" fill="#111" stroke-width="0">2.7%</text>
<text x="44.8" y="546.00" font-size="7.6" text-anchor="end" fill="#111">10<tspan font-size="4.2" dy="-3.6">0</tspan></text>
<text x="44.8" y="525.27" font-size="7.6" text-anchor="end" fill="#111">10<tspan font-size="4.2" dy="-3.6">1</tspan></text>
<text x="44.8" y="504.55" font-size="7.6" text-anchor="end" fill="#111">10<tspan font-size="4.2" dy="-3.6">2</tspan></text>
<text x="44.8" y="483.82" font-size="7.6" text-anchor="end" fill="#111">10<tspan font-size="4.2" dy="-3.6">3</tspan></text>
<text x="44.8" y="463.10" font-size="7.6" text-anchor="end" fill="#111">10<tspan font-size="4.2" dy="-3.6">4</tspan></text>
<line x1="25.20" y1="460.00" x2="25.20" y2="481.50" stroke="#000" stroke-width="1.2"/>
<polygon points="25.2,454.8 22.2,462.8 28.2,462.8" fill="#000"/>
<text transform="translate(27.50,499.30) rotate(-90)" x="0" y="0" font-size="11" text-anchor="middle" textLength="23.8" lengthAdjust="spacingAndGlyphs" fill="#111">CD56</text>
<line x1="25.20" y1="517.50" x2="25.20" y2="541.80" stroke="#000" stroke-width="1.2"/>
<line x1="51.70" y1="567.60" x2="217.00" y2="567.60" stroke="#000" stroke-width="1.3"/>
<line x1="261.30" y1="567.60" x2="421.00" y2="567.60" stroke="#000" stroke-width="1.3"/>
<polygon points="426.6,567.6 419.0,565.0 419.0,570.2" fill="#000"/>
<text x="221.30" y="571.80" font-size="10.5" textLength="36.7" lengthAdjust="spacingAndGlyphs" fill="#111">Perforin</text>
<line x1="52.80" y1="608.60" x2="52.80" y2="706.40" stroke="#000" stroke-width="1.3"/>
<line x1="49.60" y1="703.40" x2="188.00" y2="703.40" stroke="#000" stroke-width="1.4"/>
<text x="47.00" y="706.15" font-size="7.8" text-anchor="end" fill="#111" stroke-width="0">0</text>
<line x1="49.40" y1="691.96" x2="52.80" y2="691.96" stroke="#000" stroke-width="1.1"/>
<text x="47.00" y="694.71" font-size="7.8" text-anchor="end" fill="#111" stroke-width="0">50</text>
<line x1="49.40" y1="680.52" x2="52.80" y2="680.52" stroke="#000" stroke-width="1.1"/>
<text x="47.00" y="683.27" font-size="7.8" text-anchor="end" fill="#111" stroke-width="0">100</text>
<line x1="49.40" y1="669.09" x2="52.80" y2="669.09" stroke="#000" stroke-width="1.1"/>
<text x="47.00" y="671.84" font-size="7.8" text-anchor="end" fill="#111" stroke-width="0">150</text>
<line x1="49.40" y1="657.65" x2="52.80" y2="657.65" stroke="#000" stroke-width="1.1"/>
<text x="47.00" y="660.40" font-size="7.8" text-anchor="end" fill="#111" stroke-width="0">200</text>
<line x1="49.40" y1="646.21" x2="52.80" y2="646.21" stroke="#000" stroke-width="1.1"/>
<text x="47.00" y="648.96" font-size="7.8" text-anchor="end" fill="#111" stroke-width="0">250</text>
<line x1="49.40" y1="634.77" x2="52.80" y2="634.77" stroke="#000" stroke-width="1.1"/>
<text x="47.00" y="637.52" font-size="7.8" text-anchor="end" fill="#111" stroke-width="0">300</text>
<line x1="49.40" y1="623.34" x2="52.80" y2="623.34" stroke="#000" stroke-width="1.1"/>
<text x="47.00" y="626.09" font-size="7.8" text-anchor="end" fill="#111" stroke-width="0">350</text>
<line x1="49.40" y1="611.90" x2="52.80" y2="611.90" stroke="#000" stroke-width="1.1"/>
<text x="47.00" y="614.65" font-size="7.8" text-anchor="end" fill="#111" stroke-width="0">400</text>
<line x1="75.80" y1="703.40" x2="75.80" y2="706.40" stroke="#000" stroke-width="1.1"/>
<line x1="97.80" y1="703.40" x2="97.80" y2="706.40" stroke="#000" stroke-width="1.1"/>
<line x1="119.80" y1="703.40" x2="119.80" y2="706.40" stroke="#000" stroke-width="1.1"/>
<line x1="141.80" y1="703.40" x2="141.80" y2="706.40" stroke="#000" stroke-width="1.1"/>
<line x1="163.80" y1="703.40" x2="163.80" y2="706.40" stroke="#000" stroke-width="1.1"/>
<line x1="185.80" y1="703.40" x2="185.80" y2="706.40" stroke="#000" stroke-width="1.1"/>
<rect x="56.20" y="653.07" width="4.05" height="50.33" fill="#0d0d0d"/>
<rect x="60.25" y="687.85" width="4.05" height="15.55" fill="#474747"/>
<rect x="64.30" y="686.93" width="4.05" height="16.47" fill="#8a8a8a"/>
<rect x="68.35" y="622.19" width="4.05" height="81.21" fill="#bdbdbd"/>
<rect x="78.20" y="657.65" width="4.05" height="45.75" fill="#0d0d0d"/>
<rect x="82.25" y="686.01" width="4.05" height="17.39" fill="#474747"/>
<rect x="86.30" y="685.10" width="4.05" height="18.30" fill="#8a8a8a"/>
<rect x="90.35" y="645.07" width="4.05" height="58.33" fill="#bdbdbd"/>
<rect x="100.20" y="637.06" width="4.05" height="66.34" fill="#0d0d0d"/>
<rect x="104.25" y="678.69" width="4.05" height="24.71" fill="#474747"/>
<rect x="108.30" y="691.50" width="4.05" height="11.89" fill="#8a8a8a"/>
<rect x="112.35" y="637.52" width="4.05" height="65.88" fill="#bdbdbd"/>
<rect x="122.20" y="657.65" width="4.05" height="45.75" fill="#0d0d0d"/>
<rect x="126.25" y="687.85" width="4.05" height="15.55" fill="#474747"/>
<rect x="130.30" y="683.50" width="4.05" height="19.90" fill="#8a8a8a"/>
<rect x="134.35" y="636.38" width="4.05" height="67.02" fill="#bdbdbd"/>
<rect x="144.20" y="661.08" width="4.05" height="42.32" fill="#0d0d0d"/>
<rect x="148.25" y="694.25" width="4.05" height="9.15" fill="#474747"/>
<rect x="152.30" y="685.79" width="4.05" height="17.61" fill="#8a8a8a"/>
<rect x="156.35" y="662.91" width="4.05" height="40.49" fill="#bdbdbd"/>
<rect x="166.20" y="636.61" width="4.05" height="66.80" fill="#0d0d0d"/>
<rect x="170.25" y="692.65" width="4.05" height="10.75" fill="#474747"/>
<rect x="174.30" y="674.12" width="4.05" height="29.28" fill="#8a8a8a"/>
<rect x="178.35" y="620.59" width="4.05" height="82.81" fill="#bdbdbd"/>
<rect x="84.80" y="612.60" width="5.20" height="5.00" fill="#0d0d0d"/>
<text x="94.60" y="617.40" font-size="6.6" textLength="23.1" lengthAdjust="spacingAndGlyphs" fill="#111" stroke-width="0">CD107a</text>
<rect x="126.20" y="612.60" width="5.20" height="5.00" fill="#474747"/>
<text x="135.10" y="617.40" font-size="6.6" textLength="21.5" lengthAdjust="spacingAndGlyphs" fill="#111" stroke-width="0">Perforin</text>
<rect x="84.80" y="623.00" width="5.20" height="5.00" fill="#8a8a8a"/>
<text x="94.60" y="627.90" font-size="6.6" textLength="18.9" lengthAdjust="spacingAndGlyphs" fill="#111" stroke-width="0">Gzm A</text>
<rect x="121.80" y="623.00" width="5.20" height="5.00" fill="#bdbdbd"/>
<text x="130.80" y="627.90" font-size="6.6" textLength="19.7" lengthAdjust="spacingAndGlyphs" fill="#111" stroke-width="0">Gzm B</text>
<text transform="translate(26.60,656.00) rotate(-90)" x="0" y="0" font-size="8.4" text-anchor="middle" textLength="74.5" lengthAdjust="spacingAndGlyphs" fill="#111">Expression (R-MFI)</text>
<text x="64.40" y="717.40" font-size="7.4" text-anchor="middle" fill="#111" stroke-width="0">Local</text>
<text x="64.40" y="726.60" font-size="7.4" text-anchor="middle" fill="#111" stroke-width="0">ctrl.</text>
<text x="86.40" y="717.40" font-size="7.4" text-anchor="middle" fill="#111" stroke-width="0">Trp.</text>
<text x="86.40" y="726.60" font-size="7.4" text-anchor="middle" fill="#111" stroke-width="0">ctrl.</text>
<text x="108.40" y="717.40" font-size="7.4" text-anchor="middle" fill="#111" stroke-width="0">I-3</text>
<text x="108.40" y="726.60" font-size="7.4" text-anchor="middle" fill="#111" stroke-width="0">patient</text>
<text x="130.40" y="717.40" font-size="7.4" text-anchor="middle" fill="#111" stroke-width="0">I-4</text>
<text x="152.40" y="717.40" font-size="7.4" text-anchor="middle" fill="#111" stroke-width="0">II-2</text>
<text x="174.40" y="717.40" font-size="7.4" text-anchor="middle" fill="#111" stroke-width="0">III-3</text>
<text x="174.40" y="726.60" font-size="7.4" text-anchor="middle" fill="#111" stroke-width="0">patient</text>
<line x1="96.00" y1="732.30" x2="185.20" y2="732.30" stroke="#000" stroke-width="1.4"/>
<text x="140.90" y="743.70" font-size="8.8" text-anchor="middle" fill="#111">Family 1</text>
<line x1="244.30" y1="608.40" x2="244.30" y2="706.40" stroke="#000" stroke-width="1.3"/>
<line x1="241.10" y1="703.40" x2="382.00" y2="703.40" stroke="#000" stroke-width="1.4"/>
<text x="237.50" y="706.15" font-size="7.8" text-anchor="end" fill="#111" stroke-width="0">0</text>
<line x1="240.90" y1="685.12" x2="244.30" y2="685.12" stroke="#000" stroke-width="1.1"/>
<text x="237.50" y="687.87" font-size="7.8" text-anchor="end" fill="#111" stroke-width="0">10</text>
<line x1="240.90" y1="666.84" x2="244.30" y2="666.84" stroke="#000" stroke-width="1.1"/>
<text x="237.50" y="669.59" font-size="7.8" text-anchor="end" fill="#111" stroke-width="0">20</text>
<line x1="240.90" y1="648.56" x2="244.30" y2="648.56" stroke="#000" stroke-width="1.1"/>
<text x="237.50" y="651.31" font-size="7.8" text-anchor="end" fill="#111" stroke-width="0">30</text>
<line x1="240.90" y1="630.28" x2="244.30" y2="630.28" stroke="#000" stroke-width="1.1"/>
<text x="237.50" y="633.03" font-size="7.8" text-anchor="end" fill="#111" stroke-width="0">40</text>
<line x1="240.90" y1="612.00" x2="244.30" y2="612.00" stroke="#000" stroke-width="1.1"/>
<text x="237.50" y="614.75" font-size="7.8" text-anchor="end" fill="#111" stroke-width="0">50</text>
<line x1="266.80" y1="703.40" x2="266.80" y2="706.40" stroke="#000" stroke-width="1.1"/>
<line x1="289.20" y1="703.40" x2="289.20" y2="706.40" stroke="#000" stroke-width="1.1"/>
<line x1="311.60" y1="703.40" x2="311.60" y2="706.40" stroke="#000" stroke-width="1.1"/>
<line x1="334.00" y1="703.40" x2="334.00" y2="706.40" stroke="#000" stroke-width="1.1"/>
<line x1="356.40" y1="703.40" x2="356.40" y2="706.40" stroke="#000" stroke-width="1.1"/>
<line x1="378.80" y1="703.40" x2="378.80" y2="706.40" stroke="#000" stroke-width="1.1"/>
<rect x="248.00" y="702.67" width="4.80" height="0.73" fill="#0d0d0d"/>
<rect x="252.80" y="646.73" width="4.80" height="56.67" fill="#444444"/>
<rect x="257.60" y="667.39" width="4.80" height="36.01" fill="#8a8a8a"/>
<rect x="270.35" y="702.49" width="4.80" height="0.91" fill="#0d0d0d"/>
<rect x="275.15" y="635.03" width="4.80" height="68.37" fill="#444444"/>
<rect x="279.95" y="678.36" width="4.80" height="25.04" fill="#8a8a8a"/>
<rect x="292.70" y="702.85" width="4.80" height="0.55" fill="#0d0d0d"/>
<rect x="297.50" y="655.14" width="4.80" height="48.26" fill="#444444"/>
<rect x="302.30" y="690.42" width="4.80" height="12.98" fill="#8a8a8a"/>
<rect x="315.05" y="702.67" width="4.80" height="0.73" fill="#0d0d0d"/>
<rect x="319.85" y="632.47" width="4.80" height="70.93" fill="#444444"/>
<rect x="324.65" y="674.33" width="4.80" height="29.07" fill="#8a8a8a"/>
<rect x="337.40" y="702.49" width="4.80" height="0.91" fill="#0d0d0d"/>
<rect x="342.20" y="640.70" width="4.80" height="62.70" fill="#444444"/>
<rect x="347.00" y="675.07" width="4.80" height="28.33" fill="#8a8a8a"/>
<rect x="359.75" y="702.30" width="4.80" height="1.10" fill="#0d0d0d"/>
<rect x="364.55" y="658.07" width="4.80" height="45.33" fill="#444444"/>
<rect x="369.35" y="688.78" width="4.80" height="14.62" fill="#8a8a8a"/>
<rect x="252.70" y="603.80" width="5.60" height="5.00" fill="#0d0d0d"/>
<text x="262.70" y="608.80" font-size="6.4" textLength="28.8" lengthAdjust="spacingAndGlyphs" fill="#111" stroke-width="0">P815 cells</text>
<rect x="252.70" y="614.80" width="5.60" height="5.00" fill="#444444"/>
<text x="262.70" y="619.80" font-size="6.4" textLength="66.9" lengthAdjust="spacingAndGlyphs" fill="#111" stroke-width="0">P815 cells + anti-CD16</text>
<rect x="252.70" y="624.80" width="5.60" height="5.00" fill="#8a8a8a"/>
<text x="262.70" y="629.80" font-size="6.4" textLength="29.4" lengthAdjust="spacingAndGlyphs" fill="#111" stroke-width="0">K562 cells</text>
<text transform="translate(222.60,656.30) rotate(-90)" x="0" y="0" font-size="7.8" text-anchor="middle" textLength="57.0" lengthAdjust="spacingAndGlyphs" fill="#111">&#916;CD107a<tspan font-size="5" dy="-3">+</tspan><tspan dy="3"> (%)</tspan></text>
<text x="254.60" y="717.20" font-size="7.4" text-anchor="middle" fill="#111" stroke-width="0">Local</text>
<text x="254.60" y="726.40" font-size="7.4" text-anchor="middle" fill="#111" stroke-width="0">ctrl.</text>
<text x="277.05" y="717.20" font-size="7.4" text-anchor="middle" fill="#111" stroke-width="0">Trp.</text>
<text x="277.05" y="726.40" font-size="7.4" text-anchor="middle" fill="#111" stroke-width="0">ctrl.</text>
<text x="299.50" y="717.20" font-size="7.4" text-anchor="middle" fill="#111" stroke-width="0">I-3</text>
<text x="299.50" y="726.40" font-size="7.4" text-anchor="middle" fill="#111" stroke-width="0">patient</text>
<text x="321.95" y="717.20" font-size="7.4" text-anchor="middle" fill="#111" stroke-width="0">I-4</text>
<text x="344.40" y="717.20" font-size="7.4" text-anchor="middle" fill="#111" stroke-width="0">II-2</text>
<text x="366.85" y="717.20" font-size="7.4" text-anchor="middle" fill="#111" stroke-width="0">III-3</text>
<text x="366.85" y="726.40" font-size="7.4" text-anchor="middle" fill="#111" stroke-width="0">patient</text>
<line x1="287.50" y1="732.30" x2="376.20" y2="732.30" stroke="#000" stroke-width="1.4"/>
<text x="331.50" y="743.70" font-size="8.8" text-anchor="middle" fill="#111">Family 1</text>
<text x="422.00" y="611.80" font-size="10" textLength="69.2" lengthAdjust="spacingAndGlyphs" fill="#111">Patient F1: III-1</text>
<defs><filter id="mblur" x="-5%" y="-5%" width="110%" height="110%"><feGaussianBlur stdDeviation="0.6"/></filter><filter id="tex" x="0" y="0" width="100%" height="100%"><feTurbulence type="turbulence" baseFrequency="0.09 0.12" numOctaves="2" seed="5" result="n"/><feColorMatrix in="n" type="matrix" values="0 0 0 0 0  0 0 0 0 0  0 0 0 0 0  0 0 0 -5 1.2" result="a"/><feComposite in="SourceGraphic" in2="a" operator="in"/></filter><filter id="tex2" x="0" y="0" width="100%" height="100%"><feTurbulence type="fractalNoise" baseFrequency="0.35" numOctaves="2" seed="9" result="n"/><feColorMatrix in="n" type="matrix" values="0 0 0 0 0  0 0 0 0 0  0 0 0 0 0  0 0 0 -3 1.6" result="a"/><feComposite in="SourceGraphic" in2="a" operator="in"/></filter><clipPath id="mclip"><rect x="401.7" y="619.1" width="109.8" height="116.5"/></clipPath></defs>
<rect x="401.7" y="619.1" width="109.8" height="116.5" fill="#060606"/>
<g clip-path="url(#mclip)" filter="url(#mblur)">
<path d="M410.80,680.00 C410.28,677.97 411.42,674.13 411.50,670.80 C411.58,667.47 410.88,663.47 411.30,660.00 C411.72,656.53 412.72,653.00 414.00,650.00 C415.28,647.00 417.00,644.42 419.00,642.00 C421.00,639.58 423.33,637.33 426.00,635.50 C428.67,633.67 431.67,632.22 435.00,631.00 C438.33,629.78 441.83,629.12 446.00,628.20 C450.17,627.28 456.00,626.07 460.00,625.50 C464.00,624.93 466.03,624.38 470.00,624.80 C473.97,625.22 479.95,626.42 483.80,628.00 C487.65,629.58 490.40,631.72 493.10,634.30 C495.80,636.88 498.08,640.55 500.00,643.50 C501.92,646.45 503.35,649.25 504.60,652.00 C505.85,654.75 506.87,657.35 507.50,660.00 C508.13,662.65 508.45,664.80 508.40,667.90 C508.35,671.00 508.02,675.58 507.20,678.60 C506.38,681.62 505.20,683.43 503.50,686.00 C501.80,688.57 499.17,691.45 497.00,694.00 C494.83,696.55 492.77,698.70 490.50,701.30 C488.23,703.90 484.98,706.23 483.40,709.60 C481.82,712.97 481.35,718.10 481.00,721.50 C480.65,724.90 481.20,726.92 481.30,730.00 C481.40,733.08 491.98,738.33 481.60,740.00 C471.22,741.67 429.93,743.00 419.00,740.00 C408.07,737.00 416.83,726.67 416.00,722.00 C415.17,717.33 414.58,714.27 414.00,712.00 C413.42,709.73 412.45,709.40 412.50,708.40 C412.55,707.40 413.80,707.00 414.30,706.00 C414.80,705.00 415.63,703.32 415.50,702.40 C415.37,701.48 414.30,701.10 413.50,700.50 C412.70,699.90 411.70,699.25 410.70,698.80 C409.70,698.35 408.35,698.33 407.50,697.80 C406.65,697.27 405.70,696.52 405.60,695.60 C405.50,694.68 406.17,693.57 406.90,692.30 C407.63,691.03 408.72,689.55 410.00,688.00 C411.28,686.45 414.47,684.33 414.60,683.00 C414.73,681.67 411.32,682.03 410.80,680.00Z" fill="#242424"/>
<path d="M414,683 C422,681 436,681 450,684 C452,689 450,694 446,697 C436,697.5 424,697.5 416,697 C413,693 413,688 414,683 Z" fill="#3c3c3c"/>
<path d="M414,683 C422,681 436,681 450,684 C452,689 450,694 446,697 C436,697.5 424,697.5 416,697 C413,693 413,688 414,683 Z" fill="#111" filter="url(#tex2)" opacity="0.9"/>
<path d="M418,690 C426,688 436,688 446,690" fill="none" stroke="#8a8a8a" stroke-width="1"/>
<path d="M473,699 L489,699 C485,705 482,712 481,721.5 L481.4,740 L472.5,740 Z" fill="#6c6c6c"/>
<path d="M473,699 L489,699 C485,705 482,712 481,721.5 L481.4,740 L472.5,740 Z" fill="#2a2a2a" filter="url(#tex2)" opacity="0.7"/>
<path d="M415.00,677.00 C414.47,674.83 414.55,669.67 414.80,666.00 C415.05,662.33 415.47,658.33 416.50,655.00 C417.53,651.67 419.08,648.67 421.00,646.00 C422.92,643.33 425.33,640.92 428.00,639.00 C430.67,637.08 433.67,635.75 437.00,634.50 C440.33,633.25 444.17,632.42 448.00,631.50 C451.83,630.58 456.17,629.53 460.00,629.00 C463.83,628.47 467.25,627.93 471.00,628.30 C474.75,628.67 479.17,629.75 482.50,631.20 C485.83,632.65 488.50,634.70 491.00,637.00 C493.50,639.30 495.75,642.17 497.50,645.00 C499.25,647.83 500.45,651.00 501.50,654.00 C502.55,657.00 503.38,660.00 503.80,663.00 C504.22,666.00 504.30,669.00 504.00,672.00 C503.70,675.00 503.17,678.17 502.00,681.00 C500.83,683.83 499.00,686.58 497.00,689.00 C495.00,691.42 492.50,694.00 490.00,695.50 C487.50,697.00 484.33,697.75 482.00,698.00 C479.67,698.25 477.50,699.00 476.00,697.00 C474.50,695.00 474.33,689.50 473.00,686.00 C471.67,682.50 470.50,678.08 468.00,676.00 C465.50,673.92 461.67,673.50 458.00,673.50 C454.33,673.50 450.67,675.33 446.00,676.00 C441.33,676.67 434.67,677.00 430.00,677.50 C425.33,678.00 420.50,679.08 418.00,679.00 C415.50,678.92 415.53,679.17 415.00,677.00Z" fill="#989898"/>
<path d="M415.00,677.00 C414.47,674.83 414.55,669.67 414.80,666.00 C415.05,662.33 415.47,658.33 416.50,655.00 C417.53,651.67 419.08,648.67 421.00,646.00 C422.92,643.33 425.33,640.92 428.00,639.00 C430.67,637.08 433.67,635.75 437.00,634.50 C440.33,633.25 444.17,632.42 448.00,631.50 C451.83,630.58 456.17,629.53 460.00,629.00 C463.83,628.47 467.25,627.93 471.00,628.30 C474.75,628.67 479.17,629.75 482.50,631.20 C485.83,632.65 488.50,634.70 491.00,637.00 C493.50,639.30 495.75,642.17 497.50,645.00 C499.25,647.83 500.45,651.00 501.50,654.00 C502.55,657.00 503.38,660.00 503.80,663.00 C504.22,666.00 504.30,669.00 504.00,672.00 C503.70,675.00 503.17,678.17 502.00,681.00 C500.83,683.83 499.00,686.58 497.00,689.00 C495.00,691.42 492.50,694.00 490.00,695.50 C487.50,697.00 484.33,697.75 482.00,698.00 C479.67,698.25 477.50,699.00 476.00,697.00 C474.50,695.00 474.33,689.50 473.00,686.00 C471.67,682.50 470.50,678.08 468.00,676.00 C465.50,673.92 461.67,673.50 458.00,673.50 C454.33,673.50 450.67,675.33 446.00,676.00 C441.33,676.67 434.67,677.00 430.00,677.50 C425.33,678.00 420.50,679.08 418.00,679.00 C415.50,678.92 415.53,679.17 415.00,677.00Z" fill="#606060" filter="url(#tex)" opacity="0.6"/>
<path d="M474.00,667.00 C476.00,665.33 481.33,665.50 485.00,666.00 C488.67,666.50 493.08,668.33 496.00,670.00 C498.92,671.67 501.58,673.83 502.50,676.00 C503.42,678.17 502.42,680.67 501.50,683.00 C500.58,685.33 499.08,687.83 497.00,690.00 C494.92,692.17 491.67,694.58 489.00,696.00 C486.33,697.42 483.33,698.33 481.00,698.50 C478.67,698.67 476.25,698.75 475.00,697.00 C473.75,695.25 473.83,691.50 473.50,688.00 C473.17,684.50 472.92,679.50 473.00,676.00 C473.08,672.50 472.00,668.67 474.00,667.00Z" fill="#8a8a8a"/>
<path d="M474.00,667.00 C476.00,665.33 481.33,665.50 485.00,666.00 C488.67,666.50 493.08,668.33 496.00,670.00 C498.92,671.67 501.58,673.83 502.50,676.00 C503.42,678.17 502.42,680.67 501.50,683.00 C500.58,685.33 499.08,687.83 497.00,690.00 C494.92,692.17 491.67,694.58 489.00,696.00 C486.33,697.42 483.33,698.33 481.00,698.50 C478.67,698.67 476.25,698.75 475.00,697.00 C473.75,695.25 473.83,691.50 473.50,688.00 C473.17,684.50 472.92,679.50 473.00,676.00 C473.08,672.50 472.00,668.67 474.00,667.00Z" fill="#3c3c3c" filter="url(#tex2)" opacity="0.8"/>
<ellipse cx="480.5" cy="688" rx="6" ry="8.5" fill="#3a3a3a" opacity="0.75"/>
<path d="M442.5,658 C446,654.5 454,654 462,655.5 C466,657 467,660 465,662.5 C460,666 450,667 444,665 Z" fill="#2a2a2a"/>
<path d="M452.00,661.50 C453.08,660.33 455.67,658.92 458.00,658.50 C460.33,658.08 463.75,658.42 466.00,659.00 C468.25,659.58 470.25,660.67 471.50,662.00 C472.75,663.33 473.18,664.67 473.50,667.00 C473.82,669.33 473.48,672.83 473.40,676.00 C473.32,679.17 473.02,682.83 473.00,686.00 C472.98,689.17 473.37,692.67 473.30,695.00 C473.23,697.33 473.48,699.17 472.60,700.00 C471.72,700.83 468.93,701.33 468.00,700.00 C467.07,698.67 467.58,694.83 467.00,692.00 C466.42,689.17 465.67,685.58 464.50,683.00 C463.33,680.42 461.58,678.67 460.00,676.50 C458.42,674.33 456.42,671.83 455.00,670.00 C453.58,668.17 452.00,666.92 451.50,665.50 C451.00,664.08 450.92,662.67 452.00,661.50Z" fill="#bababa"/>
<path d="M468,699 L472.8,699 C472.4,710 472,725 471.8,740 L467.6,740 C467.8,725 467.8,710 468,699 Z" fill="#9c9c9c"/>
<path d="M444.6,666.9 C438.5,665.5 436.5,660.5 440.8,656.3 C446,652.2 456,651.5 464.6,653.3 C470,654.8 473.6,659 474,665.4" fill="none" stroke="#ececec" stroke-width="3" stroke-linecap="round"/>
<path d="M413,679 C425,678 440,678.5 450,681" fill="none" stroke="#cfcfcf" stroke-width="1.2"/>
<circle cx="446" cy="675.4" r="1.3" fill="#e6e6e6"/>
<path d="M449,682 L455,678 L460,684" fill="none" stroke="#d6d6d6" stroke-width="1.2"/>
<path d="M452.5,690 L456,690 L456.5,740 L452.8,740 Z" fill="#0c0c0c"/>
<rect x="456.3" y="689.0" width="10.5" height="3.0" rx="1" fill="#7a7a7a"/>
<rect x="456.3" y="692.0" width="10.5" height="2.0" fill="#303030"/>
<circle cx="462.6" cy="692.7" r="0.55" fill="#b0b0b0"/>
<circle cx="464.2" cy="693.7" r="0.55" fill="#b0b0b0"/>
<circle cx="463.7" cy="693.6" r="0.55" fill="#b0b0b0"/>
<rect x="456.7" y="694.0" width="10.2" height="3.0" rx="1" fill="#7a7a7a"/>
<rect x="456.7" y="697.0" width="10.2" height="2.0" fill="#303030"/>
<circle cx="457.3" cy="696.3" r="0.55" fill="#b0b0b0"/>
<circle cx="465.5" cy="697.2" r="0.55" fill="#b0b0b0"/>
<circle cx="465.1" cy="694.6" r="0.55" fill="#b0b0b0"/>
<rect x="457.0" y="699.0" width="10.0" height="3.0" rx="1" fill="#7a7a7a"/>
<rect x="457.0" y="702.0" width="10.0" height="2.0" fill="#303030"/>
<circle cx="461.2" cy="700.2" r="0.55" fill="#b0b0b0"/>
<circle cx="461.9" cy="701.9" r="0.55" fill="#b0b0b0"/>
<circle cx="457.1" cy="700.1" r="0.55" fill="#b0b0b0"/>
<rect x="457.4" y="704.0" width="9.8" height="3.0" rx="1" fill="#7a7a7a"/>
<rect x="457.4" y="707.0" width="9.8" height="2.0" fill="#303030"/>
<circle cx="459.5" cy="708.6" r="0.55" fill="#b0b0b0"/>
<circle cx="463.9" cy="704.8" r="0.55" fill="#b0b0b0"/>
<circle cx="464.2" cy="704.7" r="0.55" fill="#b0b0b0"/>
<rect x="457.7" y="709.0" width="9.5" height="3.0" rx="1" fill="#7a7a7a"/>
<rect x="457.7" y="712.0" width="9.5" height="2.0" fill="#303030"/>
<circle cx="462.6" cy="709.6" r="0.55" fill="#b0b0b0"/>
<circle cx="457.0" cy="713.4" r="0.55" fill="#b0b0b0"/>
<circle cx="458.9" cy="710.1" r="0.55" fill="#b0b0b0"/>
<rect x="458.1" y="714.0" width="9.2" height="3.0" rx="1" fill="#7a7a7a"/>
<rect x="458.1" y="717.0" width="9.2" height="2.0" fill="#303030"/>
<circle cx="465.8" cy="718.4" r="0.55" fill="#b0b0b0"/>
<circle cx="459.6" cy="718.8" r="0.55" fill="#b0b0b0"/>
<circle cx="461.9" cy="717.4" r="0.55" fill="#b0b0b0"/>
<rect x="458.4" y="719.0" width="9.0" height="3.0" rx="1" fill="#7a7a7a"/>
<rect x="458.4" y="722.0" width="9.0" height="2.0" fill="#303030"/>
<circle cx="458.8" cy="723.7" r="0.55" fill="#b0b0b0"/>
<circle cx="463.2" cy="723.8" r="0.55" fill="#b0b0b0"/>
<circle cx="465.0" cy="720.5" r="0.55" fill="#b0b0b0"/>
<rect x="458.8" y="724.0" width="8.8" height="3.0" rx="1" fill="#7a7a7a"/>
<rect x="458.8" y="727.0" width="8.8" height="2.0" fill="#303030"/>
<circle cx="460.3" cy="724.8" r="0.55" fill="#b0b0b0"/>
<circle cx="458.3" cy="724.3" r="0.55" fill="#b0b0b0"/>
<circle cx="459.7" cy="727.0" r="0.55" fill="#b0b0b0"/>
<rect x="459.1" y="729.0" width="8.5" height="3.0" rx="1" fill="#7a7a7a"/>
<rect x="459.1" y="732.0" width="8.5" height="2.0" fill="#303030"/>
<circle cx="457.0" cy="732.4" r="0.55" fill="#b0b0b0"/>
<circle cx="460.0" cy="730.5" r="0.55" fill="#b0b0b0"/>
<circle cx="464.4" cy="731.4" r="0.55" fill="#b0b0b0"/>
<rect x="459.4" y="734.0" width="8.2" height="3.0" rx="1" fill="#7a7a7a"/>
<rect x="459.4" y="737.0" width="8.2" height="2.0" fill="#303030"/>
<circle cx="459.8" cy="736.4" r="0.55" fill="#b0b0b0"/>
<circle cx="463.3" cy="734.3" r="0.55" fill="#b0b0b0"/>
<circle cx="465.8" cy="734.1" r="0.55" fill="#b0b0b0"/>
<path d="M422.7,699.4 C430,698.5 436,698.3 443,699" fill="none" stroke="#e2e2e2" stroke-width="1.4"/>
<ellipse cx="439.4" cy="715.5" rx="13.5" ry="13" fill="#121212"/>
<ellipse cx="439.8" cy="715.8" rx="12" ry="11.5" fill="#505050"/>
<ellipse cx="439.8" cy="715.8" rx="12" ry="11.5" fill="#2c2c2c" filter="url(#tex2)" opacity="0.5"/>
<path d="M423,702 C419,711 420,723 426,729" fill="none" stroke="#bdbdbd" stroke-width="1"/>
<path d="M421.5,727.5 C428,731.5 438,732 446,729" fill="none" stroke="#d2d2d2" stroke-width="1.3"/>
<circle cx="419.5" cy="716" r="1.6" fill="none" stroke="#9a9a9a" stroke-width="0.8"/>
<path d="M498,690 C492,697 485,703 479.5,711 C477,717 476.8,728 477.2,740" fill="none" stroke="#d4d4d4" stroke-width="1.1"/>
<path d="M410.80,680.00 C410.92,678.47 411.42,674.13 411.50,670.80 C411.58,667.47 410.88,663.47 411.30,660.00 C411.72,656.53 412.72,653.00 414.00,650.00 C415.28,647.00 417.00,644.42 419.00,642.00 C421.00,639.58 423.33,637.33 426.00,635.50 C428.67,633.67 431.67,632.22 435.00,631.00 C438.33,629.78 441.83,629.12 446.00,628.20 C450.17,627.28 456.00,626.07 460.00,625.50 C464.00,624.93 466.03,624.38 470.00,624.80 C473.97,625.22 479.95,626.42 483.80,628.00 C487.65,629.58 490.40,631.72 493.10,634.30 C495.80,636.88 498.08,640.55 500.00,643.50 C501.92,646.45 503.35,649.25 504.60,652.00 C505.85,654.75 506.87,657.35 507.50,660.00 C508.13,662.65 508.45,664.80 508.40,667.90 C508.35,671.00 508.02,675.58 507.20,678.60 C506.38,681.62 505.20,683.43 503.50,686.00 C501.80,688.57 499.17,691.45 497.00,694.00 C494.83,696.55 492.77,698.70 490.50,701.30 C488.23,703.90 484.98,706.23 483.40,709.60 C481.82,712.97 481.35,718.10 481.00,721.50 C480.65,724.90 481.20,726.92 481.30,730.00 C481.40,733.08 481.55,738.33 481.60,740.00" fill="none" stroke="#f2f2f2" stroke-width="1.6"/>
<path d="M414.60,683.00 C413.83,683.83 411.28,686.45 410.00,688.00 C408.72,689.55 407.63,691.03 406.90,692.30 C406.17,693.57 405.50,694.68 405.60,695.60 C405.70,696.52 406.65,697.27 407.50,697.80 C408.35,698.33 409.70,698.35 410.70,698.80 C411.70,699.25 412.70,699.90 413.50,700.50 C414.30,701.10 415.37,701.48 415.50,702.40 C415.63,703.32 414.80,705.00 414.30,706.00 C413.80,707.00 412.55,707.40 412.50,708.40 C412.45,709.40 413.75,711.40 414.00,712.00" fill="none" stroke="#d8d8d8" stroke-width="1.1"/>
</g>
<rect x="0.00" y="0.00" width="520.00" height="1.60" fill="#000"/>
<rect x="0.00" y="0.00" width="1.60" height="755.00" fill="#000"/>
<rect x="518.20" y="0.00" width="1.80" height="755.00" fill="#000"/>
<rect x="0.00" y="752.90" width="520.00" height="2.10" fill="#000"/>
</svg></body></html>
